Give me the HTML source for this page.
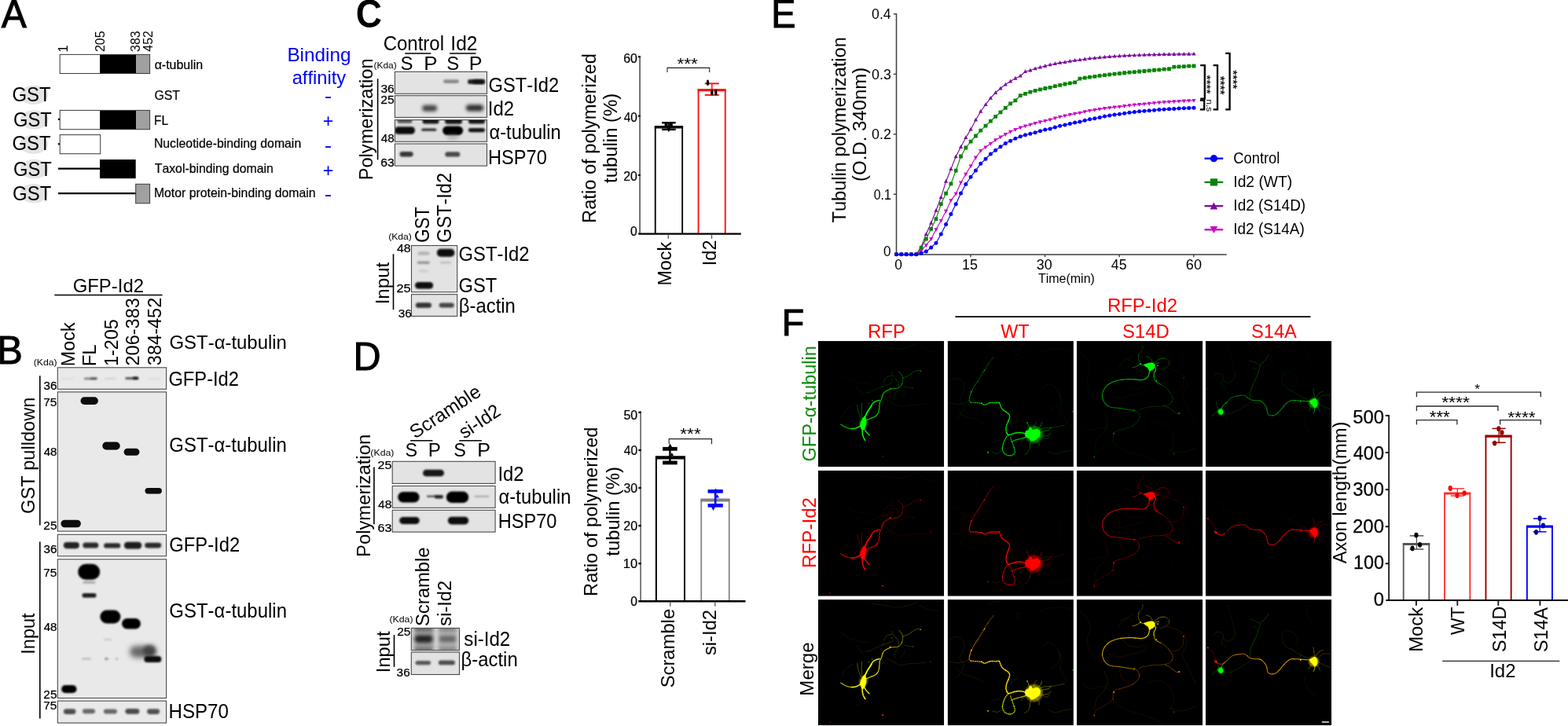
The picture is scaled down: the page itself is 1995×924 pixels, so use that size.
<!DOCTYPE html>
<html lang="en"><head><meta charset="utf-8"><title>Figure</title>
<style>
html,body{margin:0;padding:0;background:#fff}
body{width:1995px;height:924px;overflow:hidden}
svg{display:block}
text{font-family:"Liberation Sans",Arial,Helvetica,sans-serif;font-kerning:none;white-space:pre}
</style></head><body>
<svg width="1995" height="924" viewBox="0 0 1995 924">
<defs>
<filter id="b0" x="-30%" y="-100%" width="160%" height="300%"><feGaussianBlur stdDeviation="0.55"/></filter>
<filter id="b1" x="-30%" y="-100%" width="160%" height="300%"><feGaussianBlur stdDeviation="0.8"/></filter>
<filter id="b2" x="-30%" y="-100%" width="160%" height="300%"><feGaussianBlur stdDeviation="1.3"/></filter>
<filter id="b3" x="-40%" y="-100%" width="180%" height="300%"><feGaussianBlur stdDeviation="2"/></filter>
<filter id="b4" x="-50%" y="-100%" width="200%" height="300%"><feGaussianBlur stdDeviation="3.5"/></filter>
<filter id="g1" x="-5%" y="-5%" width="110%" height="110%"><feGaussianBlur stdDeviation="0.55"/></filter>
<filter id="g2" x="-5%" y="-5%" width="110%" height="110%"><feGaussianBlur stdDeviation="1.2"/></filter>
</defs>
<g id="panelA">
<text transform="translate(1.81,34.5) scale(0.9706,1)" font-size="49.56" stroke="#000" stroke-width="1" stroke-linejoin="miter">A</text>
<rect x="76.2" y="69.4" width="50.9" height="24.1" fill="#fff"/>
<rect x="127.1" y="69.4" width="45.9" height="24.1" fill="#000"/>
<rect x="173" y="69.4" width="17.6" height="24.1" fill="#a0a0a0"/>
<rect x="76.2" y="69.4" width="114.4" height="24.1" fill="none" stroke="#3a3a3a" stroke-width="1"/>
<text transform="translate(86,66.55) rotate(-90)" font-size="16.4">1</text>
<text transform="translate(133.1,66.11) rotate(-90) scale(0.9788,1.0000)" font-size="16.4">205</text>
<text transform="translate(178.3,65.91) rotate(-90) scale(0.9724,1.0000)" font-size="16.4">383</text>
<text transform="translate(194.4,65.66) rotate(-90) scale(0.9671,1.0000)" font-size="16.4">452</text>
<text transform="translate(196.63,87.8) scale(1.0107,1.0000)" font-size="15.8" stroke="#000" stroke-width="0.22">α-tubulin</text>
<text transform="translate(196.5,127.1) scale(1.0025,1.0000)" font-size="15.8" stroke="#000" stroke-width="0.22">GST</text>
<text transform="translate(195.93,158.5) scale(0.9809,1.0000)" font-size="15.8" stroke="#000" stroke-width="0.22">FL</text>
<text transform="translate(195.9,188.3) scale(1.0024,1.0000)" font-size="15.8" stroke="#000" stroke-width="0.22">Nucleotide-binding domain</text>
<text transform="translate(196.74,219.8) scale(1.0014,1.0000)" font-size="15.8" stroke="#000" stroke-width="0.22">Taxol-binding domain</text>
<text transform="translate(195.9,251.2) scale(1.0015,1.0000)" font-size="15.8" stroke="#000" stroke-width="0.22">Motor protein-binding domain</text>
<ellipse cx="43" cy="120.9" rx="18" ry="12.2" fill="#e4e4e4"/>
<text transform="translate(15.4,129.3) scale(0.9413,1.0000)" font-size="25.4">GST</text>
<ellipse cx="43.6" cy="152.4" rx="18" ry="12.2" fill="#e4e4e4"/>
<text transform="translate(17.01,161.2) scale(0.9354,1.0000)" font-size="25.4">GST</text>
<ellipse cx="43" cy="183.6" rx="18" ry="12.2" fill="#e4e4e4"/>
<text transform="translate(15.4,191.1) scale(0.9413,1.0000)" font-size="25.4">GST</text>
<ellipse cx="43.6" cy="215" rx="18" ry="12.2" fill="#e4e4e4"/>
<text transform="translate(17.01,223.7) scale(0.9354,1.0000)" font-size="25.4">GST</text>
<ellipse cx="43" cy="246.2" rx="18" ry="12.2" fill="#e4e4e4"/>
<text transform="translate(16.1,254.5) scale(0.9413,1.0000)" font-size="25.4">GST</text>
<line x1="73.8" y1="151.8" x2="76.5" y2="151.8" stroke="#000" stroke-width="2.2"/>
<rect x="76.2" y="140.4" width="50.9" height="24.3" fill="#fff"/>
<rect x="127.1" y="140.4" width="45.9" height="24.3" fill="#000"/>
<rect x="173" y="140.4" width="17.6" height="24.3" fill="#a0a0a0"/>
<rect x="76.2" y="140.4" width="114.4" height="24.3" fill="none" stroke="#3a3a3a" stroke-width="1"/>
<line x1="73.8" y1="183.3" x2="76.5" y2="183.3" stroke="#000" stroke-width="2.2"/>
<rect x="76.2" y="171.6" width="51.5" height="24.1" fill="#fff"/>
<rect x="76.2" y="171.6" width="51.5" height="24.1" fill="none" stroke="#3a3a3a" stroke-width="1"/>
<line x1="74" y1="214.7" x2="127.5" y2="214.7" stroke="#000" stroke-width="2.3"/>
<rect x="127" y="203" width="45.7" height="24.1" fill="#000"/>
<line x1="74" y1="246.1" x2="173" y2="246.1" stroke="#000" stroke-width="2.3"/>
<rect x="172.7" y="234.3" width="17.9" height="24.5" fill="#a0a0a0"/>
<rect x="172.7" y="234.3" width="17.9" height="24.5" fill="none" stroke="#3a3a3a" stroke-width="1"/>
<text transform="translate(365.41,78.3)" font-size="24.3" fill="#0000f5">Binding</text>
<text transform="translate(371.7,106.5) scale(0.9732,1.0000)" font-size="24.3" fill="#0000f5">affinity</text>
<text transform="translate(412.84,129.51) scale(1.1621,1.0000)" font-size="24.32" fill="#0000f5">-</text>
<text transform="translate(410.86,161.93) scale(1.0070,1.0000)" font-size="23.1" fill="#0000f5">+</text>
<text transform="translate(412.84,192.51) scale(1.1621,1.0000)" font-size="24.32" fill="#0000f5">-</text>
<text transform="translate(410.86,225.37) scale(0.9895,1.0000)" font-size="23.5" fill="#0000f5">+</text>
<text transform="translate(412.84,254.71) scale(1.1621,1.0000)" font-size="24.32" fill="#0000f5">-</text>
</g>
<g id="panelB">
<text transform="translate(-3.71,462.9) scale(0.9885,1)" font-size="49.42" stroke="#000" stroke-width="1" stroke-linejoin="miter">B</text>
<text transform="translate(92.7,371.6) scale(0.9754,1.0000)" font-size="24.5">GFP-Id2</text>
<line x1="69.3" y1="375.6" x2="206.6" y2="375.6" stroke="#000" stroke-width="1.5"/>
<text transform="translate(94.8,466.22) rotate(-90) scale(0.9626,1.0000)" font-size="24.3">Mock</text>
<text transform="translate(121.5,466.27) rotate(-90) scale(0.9860,1.0000)" font-size="24.3">FL</text>
<text transform="translate(149.7,466.09) rotate(-90) scale(0.9649,1.0000)" font-size="24.3">1-205</text>
<text transform="translate(176.8,465.48) rotate(-90) scale(0.9691,1.0000)" font-size="24.3">206-383</text>
<text transform="translate(204.9,465.2) rotate(-90) scale(0.9709,1.0000)" font-size="24.3">384-452</text>
<text transform="translate(42.64,465.07) scale(1.0770,0.9039)" font-size="11.4">(Kda)</text>
<text transform="translate(215.5,444.3) scale(0.9806,1.0000)" font-size="24.4">GST-α-tubulin</text>
<clipPath id="c1"><rect x="73.3" y="467.8" width="138.3" height="27.5"/></clipPath>
<rect x="73.3" y="467.8" width="138.3" height="27.5" fill="#e9e9e9"/>
<g clip-path="url(#c1)">
<rect x="77.5" y="480.9" width="17" height="2" rx="1" ry="1" fill="#777" opacity="0.1" filter="url(#b1)"/>
<rect x="133" y="480.9" width="15" height="2" rx="1" ry="1" fill="#777" opacity="0.2" filter="url(#b1)"/>
<rect x="188" y="480.9" width="16" height="2" rx="1" ry="1" fill="#777" opacity="0.12" filter="url(#b1)"/>
<rect x="106.9" y="480.6" width="17" height="2.6" rx="1.3" ry="1.3" fill="#333" opacity="0.55" filter="url(#b1)"/>
<rect x="115" y="480.4" width="8" height="2.6" rx="1.3" ry="1.3" fill="#222" opacity="0.5" filter="url(#b1)"/>
<rect x="159.3" y="480.1" width="17" height="3" rx="1.5" ry="1.5" fill="#222" opacity="0.7" filter="url(#b1)"/>
<rect x="169" y="479.5" width="7" height="3.4" rx="1.7" ry="1.7" fill="#111" opacity="0.8" filter="url(#b1)"/>
</g>
<rect x="73.3" y="467.8" width="138.3" height="27.5" fill="none" stroke="#4a4a4a" stroke-width="1.1"/>
<clipPath id="c2"><rect x="73.3" y="498.9" width="138.3" height="177.2"/></clipPath>
<rect x="73.3" y="498.9" width="138.3" height="177.2" fill="#e9e9e9"/>
<g clip-path="url(#c2)">
<rect x="102.5" y="505.2" width="22.4" height="9.8" rx="4.9" ry="4.9" fill="#0b0b0b" filter="url(#b0)"/>
<rect x="130.3" y="562.6" width="22.4" height="9.8" rx="4.9" ry="4.9" fill="#0b0b0b" filter="url(#b0)"/>
<rect x="157.6" y="570.7" width="19.8" height="9" rx="4.5" ry="4.5" fill="#0b0b0b" filter="url(#b0)"/>
<rect x="184.5" y="621.1" width="21.4" height="7.4" rx="3.7" ry="3.7" fill="#0b0b0b" filter="url(#b0)"/>
<rect x="77.5" y="661.7" width="25.4" height="9.6" rx="4.8" ry="4.8" fill="#0b0b0b" filter="url(#b0)"/>
</g>
<rect x="73.3" y="498.9" width="138.3" height="177.2" fill="none" stroke="#4a4a4a" stroke-width="1.1"/>
<clipPath id="c3"><rect x="73.3" y="680.3" width="138.3" height="27.5"/></clipPath>
<rect x="73.3" y="680.3" width="138.3" height="27.5" fill="#e9e9e9"/>
<g clip-path="url(#c3)">
<rect x="80.9" y="690" width="20" height="8.2" rx="4.1" ry="4.1" fill="#222" filter="url(#b2)"/>
<rect x="105.3" y="690.6" width="20" height="7" rx="3.5" ry="3.5" fill="#2c2c2c" filter="url(#b2)"/>
<rect x="132.2" y="691.2" width="21" height="6.4" rx="3.2" ry="3.2" fill="#2c2c2c" filter="url(#b2)"/>
<rect x="157.85" y="689.8" width="22.5" height="8.6" rx="4.3" ry="4.3" fill="#1c1c1c" filter="url(#b2)"/>
<rect x="184.2" y="690.8" width="21" height="6.6" rx="3.3" ry="3.3" fill="#2a2a2a" filter="url(#b2)"/>
</g>
<rect x="73.3" y="680.3" width="138.3" height="27.5" fill="none" stroke="#4a4a4a" stroke-width="1.1"/>
<clipPath id="c4"><rect x="73.3" y="711.8" width="138.3" height="176.7"/></clipPath>
<rect x="73.3" y="711.8" width="138.3" height="176.7" fill="#e9e9e9"/>
<g clip-path="url(#c4)">
<rect x="165" y="822" width="34" height="15" rx="7.5" ry="7.5" fill="#3a3a3a" opacity="0.75" filter="url(#b4)"/>
<rect x="182" y="821" width="16" height="14" rx="7" ry="7" fill="#333" opacity="0.7" filter="url(#b3)"/>
<rect x="105.5" y="739.7" width="16" height="3" rx="1.5" ry="1.5" fill="#666" opacity="0.5" filter="url(#b2)"/>
<rect x="104.5" y="754.9" width="18" height="5.6" rx="2.8" ry="2.8" fill="#1a1a1a" filter="url(#b1)"/>
<rect x="99.2" y="717.8" width="28" height="20" rx="10" ry="10" fill="#050505" filter="url(#b1)"/>
<rect x="127.4" y="776.5" width="26" height="17" rx="8.5" ry="8.5" fill="#050505" filter="url(#b1)"/>
<rect x="155" y="787" width="24" height="13.6" rx="6.8" ry="6.8" fill="#050505" filter="url(#b1)"/>
<rect x="183.4" y="834.9" width="22" height="8" rx="4" ry="4" fill="#0a0a0a" filter="url(#b1)"/>
<rect x="78.05" y="871.9" width="19.5" height="10.2" rx="5.1" ry="5.1" fill="#050505" filter="url(#b1)"/>
<rect x="104" y="837.25" width="12" height="2.5" rx="1.25" ry="1.25" fill="#888" opacity="0.45" filter="url(#b2)"/>
<rect x="133" y="837" width="5" height="3" rx="1.5" ry="1.5" fill="#666" opacity="0.6" filter="url(#b2)"/>
<rect x="146.5" y="837.55" width="4" height="2.5" rx="1.25" ry="1.25" fill="#888" opacity="0.5" filter="url(#b2)"/>
<rect x="132" y="812.75" width="10" height="2.5" rx="1.25" ry="1.25" fill="#aaa" opacity="0.5" filter="url(#b2)"/>
</g>
<rect x="73.3" y="711.8" width="138.3" height="176.7" fill="none" stroke="#4a4a4a" stroke-width="1.1"/>
<clipPath id="c5"><rect x="73.3" y="892.1" width="138.3" height="28"/></clipPath>
<rect x="73.3" y="892.1" width="138.3" height="28" fill="#e9e9e9"/>
<g clip-path="url(#c5)">
<rect x="80.95" y="902.2" width="15.5" height="6.8" rx="3.4" ry="3.4" fill="#3c3c3c" opacity="0.9" filter="url(#b2)"/>
<rect x="105" y="902.2" width="16" height="6" rx="3" ry="3" fill="#4a4a4a" opacity="0.8" filter="url(#b2)"/>
<rect x="131.9" y="902.4" width="17" height="6" rx="3" ry="3" fill="#4a4a4a" opacity="0.8" filter="url(#b2)"/>
<rect x="159.4" y="901.9" width="18" height="6.8" rx="3.4" ry="3.4" fill="#3a3a3a" opacity="0.9" filter="url(#b2)"/>
<rect x="187.1" y="902.3" width="16" height="6.6" rx="3.3" ry="3.3" fill="#404040" opacity="0.9" filter="url(#b2)"/>
</g>
<rect x="73.3" y="892.1" width="138.3" height="28" fill="none" stroke="#4a4a4a" stroke-width="1.1"/>
<text transform="translate(55.52,495.8) scale(1.0025,1.0000)" font-size="15.2" stroke="#000" stroke-width="0.25">36</text>
<text transform="translate(55.31,516.5) scale(1.0136,1.0000)" font-size="15.2" stroke="#000" stroke-width="0.25">75</text>
<text transform="translate(55.76,580.4) scale(0.9876,1.0000)" font-size="15.2" stroke="#000" stroke-width="0.25">48</text>
<text transform="translate(55.33,674) scale(1.0126,1.0000)" font-size="15.2" stroke="#000" stroke-width="0.25">25</text>
<text transform="translate(55.52,704.4) scale(1.0025,1.0000)" font-size="15.2" stroke="#000" stroke-width="0.25">36</text>
<text transform="translate(55.31,734.1) scale(1.0136,1.0000)" font-size="15.2" stroke="#000" stroke-width="0.25">75</text>
<text transform="translate(55.76,802.6) scale(0.9876,1.0000)" font-size="15.2" stroke="#000" stroke-width="0.25">48</text>
<text transform="translate(55.33,889) scale(1.0126,1.0000)" font-size="15.2" stroke="#000" stroke-width="0.25">25</text>
<text transform="translate(55.31,903.1) scale(1.0136,1.0000)" font-size="15.2" stroke="#000" stroke-width="0.25">75</text>
<line x1="50.8" y1="478.3" x2="50.8" y2="668.5" stroke="#000" stroke-width="1.6"/>
<line x1="50.8" y1="689.6" x2="50.8" y2="914.4" stroke="#000" stroke-width="1.6"/>
<text transform="translate(44.4,653.89) rotate(-90)" font-size="23.6">GST pulldown</text>
<text transform="translate(44.4,832.67) rotate(-90) scale(0.9972,1.0000)" font-size="23.6">Input</text>
<text transform="translate(214.41,490.7) scale(0.9483,1.0000)" font-size="25">GFP-Id2</text>
<text transform="translate(215.3,574.6) scale(0.9577,1.0000)" font-size="25">GST-α-tubulin</text>
<text transform="translate(215.3,702.3) scale(0.9515,1.0000)" font-size="25">GFP-Id2</text>
<text transform="translate(215.29,785.8) scale(0.9590,1.0000)" font-size="25">GST-α-tubulin</text>
<text transform="translate(214.52,914.3) scale(0.9648,1.0000)" font-size="25">HSP70</text>
</g>
<g id="panelC">
<text transform="translate(452.81,34.62) scale(0.9340,1.0000)" font-size="49.29" font-weight="bold">C</text>
<text transform="translate(487.68,63.9) scale(0.9594,1.0000)" font-size="25">Control</text>
<text transform="translate(573.34,63.9) scale(0.9811,1.0000)" font-size="25">Id2</text>
<line x1="515.2" y1="68" x2="548.3" y2="68" stroke="#000" stroke-width="1.5"/>
<line x1="572.1" y1="68" x2="605.5" y2="68" stroke="#000" stroke-width="1.5"/>
<text transform="translate(509.61,88.6) scale(0.9745,1.0000)" font-size="24.6">S</text>
<text transform="translate(539.17,88.6) scale(1.0540,1.0000)" font-size="24.6">P</text>
<text transform="translate(568.31,88.6) scale(0.9745,1.0000)" font-size="24.6">S</text>
<text transform="translate(596.83,88.6) scale(1.0235,1.0000)" font-size="24.6">P</text>
<text transform="translate(475.46,87.29) scale(1.0654,0.9967)" font-size="11.2">(Kda)</text>
<clipPath id="c6"><rect x="502.4" y="91.3" width="117.1" height="28"/></clipPath>
<rect x="502.4" y="91.3" width="117.1" height="28" fill="#e3e3e3"/>
<g clip-path="url(#c6)">
<rect x="564" y="101.3" width="20" height="4.6" rx="2.3" ry="2.3" fill="#555" opacity="0.62" filter="url(#b2)"/>
<rect x="595" y="100.9" width="22" height="6.2" rx="3.1" ry="3.1" fill="#161616" opacity="0.95" filter="url(#b2)"/>
<rect x="601.5" y="101.3" width="15" height="5.6" rx="2.8" ry="2.8" fill="#0c0c0c" opacity="0.7" filter="url(#b1)"/>
</g>
<rect x="502.4" y="91.3" width="117.1" height="28" fill="none" stroke="#4a4a4a" stroke-width="1.1"/>
<clipPath id="c7"><rect x="502.4" y="121.7" width="117.1" height="27.7"/></clipPath>
<rect x="502.4" y="121.7" width="117.1" height="27.7" fill="#e3e3e3"/>
<g clip-path="url(#c7)">
<rect x="537.1" y="133.8" width="19" height="8" rx="4" ry="4" fill="#3a3a3a" opacity="0.95" filter="url(#b3)"/>
<rect x="592.75" y="133.2" width="22.5" height="8.4" rx="4.2" ry="4.2" fill="#2e2e2e" filter="url(#b3)"/>
</g>
<rect x="502.4" y="121.7" width="117.1" height="27.7" fill="none" stroke="#4a4a4a" stroke-width="1.1"/>
<clipPath id="c8"><rect x="502.4" y="152.6" width="117.1" height="27.7"/></clipPath>
<rect x="502.4" y="152.6" width="117.1" height="27.7" fill="#dedede"/>
<g clip-path="url(#c8)">
<rect x="505.5" y="151.25" width="19" height="5.5" rx="2.75" ry="2.75" fill="#333" opacity="0.8" filter="url(#b2)"/>
<rect x="537.5" y="151.1" width="21" height="6.4" rx="3.2" ry="3.2" fill="#141414" filter="url(#b2)"/>
<rect x="566" y="150.8" width="22" height="7" rx="3.5" ry="3.5" fill="#141414" filter="url(#b2)"/>
<rect x="596" y="151.1" width="21" height="6.4" rx="3.2" ry="3.2" fill="#141414" filter="url(#b2)"/>
<rect x="502" y="161.2" width="26" height="9.6" rx="4.8" ry="4.8" fill="#0a0a0a" filter="url(#b2)"/>
<rect x="536.3" y="163.6" width="19" height="3.2" rx="1.6" ry="1.6" fill="#1c1c1c" opacity="0.9" filter="url(#b1)"/>
<rect x="563.1" y="160.5" width="26" height="11.4" rx="5.7" ry="5.7" fill="#060606" filter="url(#b2)"/>
<rect x="595.9" y="162.9" width="21" height="5.4" rx="2.7" ry="2.7" fill="#151515" filter="url(#b2)"/>
<rect x="569" y="170" width="14" height="8" rx="4" ry="4" fill="#777" opacity="0.35" filter="url(#b3)"/>
</g>
<rect x="502.4" y="152.6" width="117.1" height="27.7" fill="none" stroke="#4a4a4a" stroke-width="1.1"/>
<clipPath id="c9"><rect x="502.4" y="183" width="117.1" height="28.1"/></clipPath>
<rect x="502.4" y="183" width="117.1" height="28.1" fill="#e3e3e3"/>
<g clip-path="url(#c9)">
<rect x="508.6" y="193" width="17" height="6.6" rx="3.3" ry="3.3" fill="#2e2e2e" opacity="0.95" filter="url(#b2)"/>
<rect x="566.3" y="193.3" width="19" height="6.2" rx="3.1" ry="3.1" fill="#383838" opacity="0.9" filter="url(#b2)"/>
</g>
<rect x="502.4" y="183" width="117.1" height="28.1" fill="none" stroke="#4a4a4a" stroke-width="1.1"/>
<text transform="translate(484.41,118.4) scale(1.0019,1.0000)" font-size="15.5" stroke="#000" stroke-width="0.25">36</text>
<text transform="translate(484.21,131.9) scale(1.0120,1.0000)" font-size="15.5" stroke="#000" stroke-width="0.25">25</text>
<text transform="translate(484.65,180.7) scale(0.9870,1.0000)" font-size="15.5" stroke="#000" stroke-width="0.25">48</text>
<text transform="translate(484.2,211.9) scale(1.0144,1.0000)" font-size="15.5" stroke="#000" stroke-width="0.25">63</text>
<line x1="480.6" y1="100.2" x2="480.6" y2="203.3" stroke="#000" stroke-width="1.6"/>
<text transform="translate(473.9,229.24) rotate(-90) scale(0.9833,1.0000)" font-size="24">Polymerization</text>
<text transform="translate(621.61,116.6) scale(0.9483,1.0000)" font-size="25">GST-Id2</text>
<text transform="translate(620.79,146.9) scale(0.9587,1.0000)" font-size="25">Id2</text>
<text transform="translate(622.51,177) scale(0.9470,1.0000)" font-size="25">α-tubulin</text>
<text transform="translate(621.06,208.5) scale(0.9451,1.0000)" font-size="25">HSP70</text>
<text transform="translate(546,308.82) rotate(-90) scale(0.8898,1.0000)" font-size="25">GST</text>
<text transform="translate(573.8,308.88) rotate(-90) scale(0.9407,1.0000)" font-size="25">GST-Id2</text>
<text transform="translate(494.14,304.7) scale(1.0510,0.9161)" font-size="11.6">(Kda)</text>
<text transform="translate(505.04,320.9) scale(1.0240,1.0000)" font-size="15.5" stroke="#000" stroke-width="0.25">48</text>
<text transform="translate(504.58,372.2) scale(1.0499,1.0000)" font-size="15.5" stroke="#000" stroke-width="0.25">25</text>
<text transform="translate(506.82,403.6) scale(0.9894,1.0000)" font-size="15.5" stroke="#000" stroke-width="0.25">36</text>
<clipPath id="c10"><rect x="523.5" y="312.5" width="58.2" height="59.2"/></clipPath>
<rect x="523.5" y="312.5" width="58.2" height="59.2" fill="#e3e3e3"/>
<g clip-path="url(#c10)">
<rect x="531.4" y="320.15" width="15" height="4.5" rx="2.25" ry="2.25" fill="#888" opacity="0.5" filter="url(#b2)"/>
<rect x="530.9" y="332.4" width="16" height="3.6" rx="1.8" ry="1.8" fill="#666" opacity="0.6" filter="url(#b2)"/>
<rect x="560" y="332.7" width="14" height="3" rx="1.5" ry="1.5" fill="#999" opacity="0.45" filter="url(#b2)"/>
<rect x="532.9" y="343.5" width="12" height="3" rx="1.5" ry="1.5" fill="#aaa" opacity="0.4" filter="url(#b2)"/>
<rect x="555.85" y="316.8" width="22.5" height="10" rx="5" ry="5" fill="#080808" filter="url(#b1)"/>
<rect x="528.1" y="359.1" width="23" height="8.4" rx="4.2" ry="4.2" fill="#080808" filter="url(#b1)"/>
</g>
<rect x="523.5" y="312.5" width="58.2" height="59.2" fill="none" stroke="#4a4a4a" stroke-width="1.1"/>
<clipPath id="c11"><rect x="523.5" y="374.7" width="58.2" height="27.7"/></clipPath>
<rect x="523.5" y="374.7" width="58.2" height="27.7" fill="#e3e3e3"/>
<g clip-path="url(#c11)">
<rect x="528.9" y="385.2" width="20" height="6.6" rx="3.3" ry="3.3" fill="#2a2a2a" opacity="0.95" filter="url(#b2)"/>
<rect x="558.7" y="385.5" width="19" height="6" rx="3" ry="3" fill="#343434" opacity="0.9" filter="url(#b2)"/>
</g>
<rect x="523.5" y="374.7" width="58.2" height="27.7" fill="none" stroke="#4a4a4a" stroke-width="1.1"/>
<line x1="500.5" y1="323.3" x2="500.5" y2="394.1" stroke="#000" stroke-width="1.6"/>
<text transform="translate(494.8,387.32) rotate(-90) scale(1.0042,1.0000)" font-size="24">Input</text>
<text transform="translate(583.5,331.6) scale(0.9537,1.0000)" font-size="25">GST-Id2</text>
<text transform="translate(583.51,372) scale(0.9504,1.0000)" font-size="25">GST</text>
<text transform="translate(583.74,397.6) scale(0.9563,1.0000)" font-size="25">β-actin</text>
<line x1="814.1" y1="71.2" x2="814.1" y2="298" stroke="#5a5a5a" stroke-width="1.7"/>
<line x1="811.8" y1="72.2" x2="814.9" y2="72.2" stroke="#111" stroke-width="2.2"/>
<line x1="811.8" y1="147.6" x2="814.9" y2="147.6" stroke="#111" stroke-width="2.2"/>
<line x1="811.8" y1="222.9" x2="814.9" y2="222.9" stroke="#111" stroke-width="2.2"/>
<text transform="translate(793.19,79.6) scale(0.9841,1.0000)" font-size="16.2" stroke="#000" stroke-width="0.2">60</text>
<text transform="translate(793.64,155) scale(0.9580,1.0000)" font-size="16.2" stroke="#000" stroke-width="0.2">40</text>
<text transform="translate(793.2,229.6) scale(0.9836,1.0000)" font-size="16.2" stroke="#000" stroke-width="0.2">20</text>
<text transform="translate(801.99,300.4) scale(0.9685,1.0000)" font-size="16.2" stroke="#000" stroke-width="0.2">0</text>
<path d="M833.75 297.7 V161.8 H868.15 V297.7" fill="none" stroke="#0a0a0a" stroke-width="1.9"/>
<line x1="832.8" y1="161.8" x2="869.1" y2="161.8" stroke="#0a0a0a" stroke-width="3.4"/>
<path d="M888.55 297.7 V114.6 H922.75 V297.7" fill="none" stroke="#ff1414" stroke-width="1.9"/>
<line x1="887.6" y1="114.6" x2="923.7" y2="114.6" stroke="#ff1414" stroke-width="3.2"/>
<line x1="812.2" y1="297.7" x2="942.8" y2="297.7" stroke="#000" stroke-width="2.3"/>
<line x1="850.3" y1="298" x2="850.3" y2="303.8" stroke="#555" stroke-width="1.3"/>
<line x1="905.5" y1="298" x2="905.5" y2="303.8" stroke="#555" stroke-width="1.3"/>
<line x1="850.9" y1="156.2" x2="850.9" y2="164.8" stroke="#000" stroke-width="1.8"/>
<line x1="842.1" y1="156.2" x2="859.7" y2="156.2" stroke="#000" stroke-width="2.4"/>
<line x1="842.1" y1="164.8" x2="859.7" y2="164.8" stroke="#000" stroke-width="2.4"/>
<rect x="845.6" y="155.2" width="4" height="5.8" fill="#000"/>
<rect x="851.8" y="155.2" width="4" height="5.8" fill="#000"/>
<path d="M848.6 163 L853.2 163 L850.9 168.6 Z" fill="#000"/>
<line x1="905.8" y1="106.3" x2="905.8" y2="120.9" stroke="#ff1414" stroke-width="1.5"/>
<line x1="896.8" y1="106.3" x2="914.8" y2="106.3" stroke="#ff1414" stroke-width="2"/>
<line x1="896.8" y1="120.9" x2="914.8" y2="120.9" stroke="#ff1414" stroke-width="2"/>
<ellipse cx="900.5" cy="105.2" rx="1.7" ry="3.7" fill="#000"/>
<ellipse cx="905.8" cy="117.8" rx="1.7" ry="3.7" fill="#000"/>
<ellipse cx="910.8" cy="117.8" rx="1.7" ry="3.7" fill="#000"/>
<path d="M849 92.1 V86.4 H902.7 V92.1" fill="none" stroke="#222" stroke-width="1.1"/>
<text transform="translate(861.43,88.02) scale(1.1558,1.0000)" font-size="19.65">***</text>
<text transform="translate(757.9,283.94) rotate(-90) scale(0.9750,1.0000)" font-size="24.3">Ratio of polymerized</text>
<text transform="translate(785.4,232.96) rotate(-90) scale(0.9836,1.0000)" font-size="24.3">tubulin (%)</text>
<text transform="translate(854.3,363.62) rotate(-90) scale(0.9746,1.0000)" font-size="24">Mock</text>
<text transform="translate(911.4,338.17) rotate(-90) scale(0.9786,1.0000)" font-size="24">Id2</text>
</g>
<g id="panelD">
<text transform="translate(449.61,470.5) scale(0.9782,1)" font-size="49.71" stroke="#000" stroke-width="1" stroke-linejoin="miter">D</text>
<text transform="translate(528.9,558.5) rotate(-33.4)" x="-1.1" font-size="24.3">Scramble</text>
<text transform="translate(591.3,558.6) rotate(-33.6) scale(0.9700,1)" x="-0.68" font-size="24.3">si-Id2</text>
<line x1="522.1" y1="560.8" x2="550.4" y2="560.8" stroke="#000" stroke-width="1.5"/>
<line x1="584.2" y1="560.8" x2="612.8" y2="560.8" stroke="#000" stroke-width="1.5"/>
<text transform="translate(515.44,580.6) scale(0.9533,1.0000)" font-size="24.6">S</text>
<text transform="translate(544.81,580.6) scale(0.9853,1.0000)" font-size="24.6">P</text>
<text transform="translate(577.14,580.6) scale(0.9533,1.0000)" font-size="24.6">S</text>
<text transform="translate(607.13,580.6) scale(1.0235,1.0000)" font-size="24.6">P</text>
<text transform="translate(471.34,580.28) scale(1.0621,0.9253)" font-size="11.6">(Kda)</text>
<text transform="translate(480.6,597.1) scale(1.0310,1.0000)" font-size="15.5" stroke="#000" stroke-width="0.25">25</text>
<text transform="translate(481.04,646.8) scale(1.0055,1.0000)" font-size="15.5" stroke="#000" stroke-width="0.25">48</text>
<text transform="translate(480.59,676.5) scale(1.0334,1.0000)" font-size="15.5" stroke="#000" stroke-width="0.25">63</text>
<clipPath id="c12"><rect x="499.2" y="587.3" width="130.9" height="28.1"/></clipPath>
<rect x="499.2" y="587.3" width="130.9" height="28.1" fill="#e3e3e3"/>
<g clip-path="url(#c12)">
<rect x="538" y="597.7" width="27" height="8.6" rx="4.3" ry="4.3" fill="#161616" filter="url(#b2)"/>
</g>
<rect x="499.2" y="587.3" width="130.9" height="28.1" fill="none" stroke="#4a4a4a" stroke-width="1.1"/>
<clipPath id="c13"><rect x="499.2" y="618.5" width="130.9" height="27.8"/></clipPath>
<rect x="499.2" y="618.5" width="130.9" height="27.8" fill="#e3e3e3"/>
<g clip-path="url(#c13)">
<rect x="506.15" y="626.1" width="27.5" height="13.4" rx="6.7" ry="6.7" fill="#060606" filter="url(#b2)"/>
<rect x="567.75" y="625.6" width="28.5" height="14.4" rx="7.2" ry="7.2" fill="#060606" filter="url(#b2)"/>
<rect x="543" y="630.6" width="12" height="2.4" rx="1.2" ry="1.2" fill="#333" opacity="0.8" filter="url(#b1)"/>
<rect x="553" y="630" width="11" height="4.4" rx="2.2" ry="2.2" fill="#1a1a1a" opacity="0.95" filter="url(#b2)"/>
<rect x="603.5" y="630.7" width="19" height="2.2" rx="1.1" ry="1.1" fill="#888" opacity="0.6" filter="url(#b2)"/>
</g>
<rect x="499.2" y="618.5" width="130.9" height="27.8" fill="none" stroke="#4a4a4a" stroke-width="1.1"/>
<clipPath id="c14"><rect x="499.2" y="649.3" width="130.9" height="27.8"/></clipPath>
<rect x="499.2" y="649.3" width="130.9" height="27.8" fill="#e3e3e3"/>
<g clip-path="url(#c14)">
<rect x="508.25" y="657.9" width="25.5" height="9.2" rx="4.6" ry="4.6" fill="#101010" filter="url(#b2)"/>
<rect x="569.75" y="657.8" width="26.5" height="9.6" rx="4.8" ry="4.8" fill="#101010" filter="url(#b2)"/>
</g>
<rect x="499.2" y="649.3" width="130.9" height="27.8" fill="none" stroke="#4a4a4a" stroke-width="1.1"/>
<line x1="475.9" y1="594.4" x2="475.9" y2="667.3" stroke="#000" stroke-width="1.6"/>
<text transform="translate(470.6,708.95) rotate(-90) scale(0.9924,1.0000)" font-size="24">Polymerization</text>
<text transform="translate(633.4,611.7) scale(0.9555,1.0000)" font-size="25">Id2</text>
<text transform="translate(634.6,641) scale(0.9523,1.0000)" font-size="25">α-tubulin</text>
<text transform="translate(633.66,671.6) scale(0.9451,1.0000)" font-size="25">HSP70</text>
<text transform="translate(545.8,797.08) rotate(-90) scale(0.9696,1.0000)" font-size="24.6">Scramble</text>
<text transform="translate(574.1,796.66) rotate(-90) scale(0.9599,1.0000)" font-size="24.6">si-Id2</text>
<text transform="translate(495.44,792.2) scale(1.0621,0.9161)" font-size="11.6">(Kda)</text>
<text transform="translate(505.22,809.1)" font-size="15.5" stroke="#000" stroke-width="0.25">25</text>
<text transform="translate(504.62,861) scale(0.9894,1.0000)" font-size="15.5" stroke="#000" stroke-width="0.25">36</text>
<clipPath id="c15"><rect x="523.3" y="799.4" width="61.2" height="28.3"/></clipPath>
<rect x="523.3" y="799.4" width="61.2" height="28.3" fill="#d6d6d6"/>
<g clip-path="url(#c15)">
<rect x="527" y="796.5" width="25" height="34" rx="4" ry="4" fill="#777" opacity="0.55" filter="url(#b3)"/>
<rect x="557.5" y="796.5" width="24" height="34" rx="4" ry="4" fill="#8a8a8a" opacity="0.5" filter="url(#b3)"/>
<rect x="527.5" y="798" width="23" height="5" rx="2.5" ry="2.5" fill="#333" opacity="0.6" filter="url(#b3)"/>
<rect x="558.5" y="798.25" width="22" height="4.5" rx="2.25" ry="2.25" fill="#444" opacity="0.5" filter="url(#b3)"/>
<rect x="527.5" y="824" width="23" height="5" rx="2.5" ry="2.5" fill="#444" opacity="0.6" filter="url(#b3)"/>
<rect x="558.5" y="824" width="22" height="5" rx="2.5" ry="2.5" fill="#555" opacity="0.5" filter="url(#b3)"/>
<rect x="527.5" y="808.45" width="23" height="9.5" rx="4.75" ry="4.75" fill="#1e1e1e" opacity="0.95" filter="url(#b3)"/>
<rect x="559" y="809.2" width="21" height="8" rx="4" ry="4" fill="#555" opacity="0.8" filter="url(#b3)"/>
</g>
<rect x="523.3" y="799.4" width="61.2" height="28.3" fill="none" stroke="#4a4a4a" stroke-width="1.1"/>
<clipPath id="c16"><rect x="523.3" y="830" width="61.2" height="28.5"/></clipPath>
<rect x="523.3" y="830" width="61.2" height="28.5" fill="#e2e2e2"/>
<g clip-path="url(#c16)">
<rect x="528.55" y="841" width="19.5" height="5.2" rx="2.6" ry="2.6" fill="#4a4a4a" opacity="0.9" filter="url(#b2)"/>
<rect x="557.9" y="840.6" width="21" height="5.6" rx="2.8" ry="2.8" fill="#3c3c3c" opacity="0.9" filter="url(#b2)"/>
</g>
<rect x="523.3" y="830" width="61.2" height="28.5" fill="none" stroke="#4a4a4a" stroke-width="1.1"/>
<line x1="501.5" y1="808.1" x2="501.5" y2="848.8" stroke="#000" stroke-width="1.6"/>
<text transform="translate(496,856.19) rotate(-90) scale(0.9885,1.0000)" font-size="24">Input</text>
<text transform="translate(590.33,821.7) scale(0.9649,1.0000)" font-size="25">si-Id2</text>
<text transform="translate(586.54,848) scale(0.9563,1.0000)" font-size="25">β-actin</text>
<line x1="815.1" y1="523.6" x2="815.1" y2="765.5" stroke="#6a6a6a" stroke-width="1.7"/>
<line x1="812.3" y1="524.8" x2="815.8" y2="524.8" stroke="#111" stroke-width="2.4"/>
<line x1="812.3" y1="572.9" x2="815.8" y2="572.9" stroke="#111" stroke-width="2.4"/>
<line x1="812.3" y1="621" x2="815.8" y2="621" stroke="#111" stroke-width="2.4"/>
<line x1="812.3" y1="669.1" x2="815.8" y2="669.1" stroke="#111" stroke-width="2.4"/>
<line x1="812.3" y1="717.2" x2="815.8" y2="717.2" stroke="#111" stroke-width="2.4"/>
<text transform="translate(793.46,533.6) scale(1.0107,1.0000)" font-size="15.8" stroke="#000" stroke-width="0.2">50</text>
<text transform="translate(793.74,578.7) scale(0.9943,1.0000)" font-size="15.8" stroke="#000" stroke-width="0.2">40</text>
<text transform="translate(793.49,626.8) scale(1.0088,1.0000)" font-size="15.8" stroke="#000" stroke-width="0.2">30</text>
<text transform="translate(793.29,674.9) scale(1.0209,1.0000)" font-size="15.8" stroke="#000" stroke-width="0.2">20</text>
<text transform="translate(792.84,723) scale(1.0474,1.0000)" font-size="15.8" stroke="#000" stroke-width="0.2">10</text>
<text transform="translate(802.19,771) scale(0.9930,1.0000)" font-size="15.8" stroke="#000" stroke-width="0.2">0</text>
<path d="M834.9 765.2 V582.4 H871 V765.2" fill="none" stroke="#000" stroke-width="2"/>
<line x1="833.9" y1="582.4" x2="872" y2="582.4" stroke="#000" stroke-width="4.4"/>
<path d="M892.25 765.2 V636.5 H927.75 V765.2" fill="none" stroke="#808080" stroke-width="1.7"/>
<line x1="891.4" y1="636.5" x2="928.6" y2="636.5" stroke="#808080" stroke-width="4"/>
<line x1="812.2" y1="765.3" x2="948.5" y2="765.3" stroke="#000" stroke-width="2.6"/>
<line x1="852.8" y1="765.5" x2="852.8" y2="771.8" stroke="#555" stroke-width="1.3"/>
<line x1="909.8" y1="765.5" x2="909.8" y2="771.8" stroke="#555" stroke-width="1.3"/>
<line x1="852.4" y1="571.3" x2="852.4" y2="588.9" stroke="#000" stroke-width="2.4"/>
<line x1="843.1" y1="571.3" x2="861.7" y2="571.3" stroke="#000" stroke-width="4.8"/>
<line x1="843.1" y1="588.9" x2="861.7" y2="588.9" stroke="#000" stroke-width="4.8"/>
<path d="M850.2 569 L855 569 L852.6 564.6 Z" fill="#000"/>
<path d="M852.6 580 L857 580 L854.8 576 Z" fill="#000"/>
<line x1="910.2" y1="625.3" x2="910.2" y2="643.3" stroke="#0000ff" stroke-width="2.6"/>
<line x1="900.6" y1="625.3" x2="919.8" y2="625.3" stroke="#0000ff" stroke-width="4.6"/>
<line x1="900.6" y1="643.3" x2="919.8" y2="643.3" stroke="#0000ff" stroke-width="4.6"/>
<path d="M908 626 L913.4 626 L910.7 621.4 Z" fill="#0000ff"/>
<path d="M910 633.5 L915 633.5 L912.5 629 Z" fill="#0000ff"/>
<path d="M905 645 L910 645 L907.5 650 Z" fill="#0000ff"/>
<path d="M851.2 565.3 V558.6 H905.5 V565.3" fill="none" stroke="#222" stroke-width="1.1"/>
<text transform="translate(865.23,558.72) scale(1.1558,1.0000)" font-size="19.65">***</text>
<text transform="translate(760.1,758.94) rotate(-90) scale(0.9727,1.0000)" font-size="24.3">Ratio of polymerized</text>
<text transform="translate(788.4,707.66) rotate(-90) scale(0.9792,1.0000)" font-size="24.3">tubulin (%)</text>
<text transform="translate(858.1,875.28) rotate(-90) scale(0.9786,1.0000)" font-size="24.3">Scramble</text>
<text transform="translate(911.4,834.06) rotate(-90) scale(0.9787,1.0000)" font-size="24.3">si-Id2</text>
</g>
<g id="panelE">
<text transform="translate(981.32,34.55) scale(0.9446,1)" font-size="49.42" stroke="#000" stroke-width="1.1" stroke-linejoin="miter">E</text>
<line x1="1140.5" y1="17.2" x2="1140.5" y2="324.8" stroke="#3c3c3c" stroke-width="1.5"/>
<line x1="1139.8" y1="324" x2="1560.6" y2="324" stroke="#3c3c3c" stroke-width="1.6"/>
<line x1="1136.8" y1="247.24" x2="1140.5" y2="247.24" stroke="#3c3c3c" stroke-width="1.4"/>
<line x1="1136.8" y1="170.78" x2="1140.5" y2="170.78" stroke="#3c3c3c" stroke-width="1.4"/>
<line x1="1136.8" y1="94.32" x2="1140.5" y2="94.32" stroke="#3c3c3c" stroke-width="1.4"/>
<line x1="1136.8" y1="17.86" x2="1140.5" y2="17.86" stroke="#3c3c3c" stroke-width="1.4"/>
<line x1="1234.92" y1="324" x2="1234.92" y2="327.2" stroke="#3c3c3c" stroke-width="1.4"/>
<line x1="1329.54" y1="324" x2="1329.54" y2="327.2" stroke="#3c3c3c" stroke-width="1.4"/>
<line x1="1424.16" y1="324" x2="1424.16" y2="327.2" stroke="#3c3c3c" stroke-width="1.4"/>
<line x1="1518.78" y1="324" x2="1518.78" y2="327.2" stroke="#3c3c3c" stroke-width="1.4"/>
<text transform="translate(1109.11,24.3) scale(0.9580,1.0000)" font-size="18.4">0.4</text>
<text transform="translate(1109.1,100.7) scale(0.9688,1.0000)" font-size="18.4">0.3</text>
<text transform="translate(1109.1,177.2) scale(0.9735,1.0000)" font-size="18.4">0.2</text>
<text transform="translate(1111.78,253.6) scale(0.8639,1.0000)" font-size="18.4">0.1</text>
<text transform="translate(1123.93,326) scale(0.9323,1.0000)" font-size="18.4">0</text>
<text transform="translate(1138.17,342.8) scale(0.9436,1.0000)" font-size="18.4">0</text>
<text transform="translate(1223.94,342.8) scale(0.9731,1.0000)" font-size="18.4">15</text>
<text transform="translate(1318.87,342.8) scale(0.9713,1.0000)" font-size="18.4">30</text>
<text transform="translate(1413.84,342.8) scale(0.9600,1.0000)" font-size="18.4">45</text>
<text transform="translate(1508.83,342.8) scale(0.9833,1.0000)" font-size="18.4">60</text>
<text transform="translate(1321.04,360) scale(0.9980,1.0000)" font-size="16">Time(min)</text>
<text transform="translate(1075.8,283.53) rotate(-90) scale(0.9612,1.0000)" font-size="24.6">Tubulin polymerization</text>
<text transform="translate(1102,230.89) rotate(-90) scale(0.9743,1.0000)" font-size="24.6">(O.D. 340nm)</text>
<polyline fill="none" stroke="#7a0c9e" stroke-width="1.15" points="1140.5,323.7 1146.81,323.7 1153.12,323.7 1159.42,323.7 1165.73,323.7 1172.04,314.52 1178.35,298.09 1184.66,283.79 1190.96,267.96 1197.27,251.06 1203.58,230.95 1209.89,215.13 1216.2,199.3 1222.5,186.99 1228.81,175.21 1235.12,164.66 1241.43,152.66 1247.74,141.73 1254.04,133.09 1260.35,124.83 1266.66,118.02 1272.97,112.52 1279.28,107.55 1285.58,103.5 1291.89,99.75 1298.2,96.69 1304.51,91.03 1310.82,89.5 1317.12,87.29 1323.43,85.53 1329.74,84 1336.05,82.47 1342.36,81.1 1348.66,79.9 1354.97,79.03 1361.28,77.9 1367.59,76.92 1373.9,76.2 1380.2,75.26 1386.51,74.43 1392.82,73.83 1399.13,73.2 1405.44,72.6 1411.74,72.06 1418.05,71.58 1424.36,71.23 1430.67,70.89 1436.98,70.58 1443.28,70.29 1449.59,70.04 1455.9,69.85 1462.21,69.67 1468.52,69.49 1474.82,69.33 1481.13,69.19 1487.44,69.09 1493.75,69 1500.06,68.91 1506.36,68.83 1512.67,68.76 1518.98,68.71"/>
<path d="M1137.9 325.6l2.6 -4.8l2.6 4.8ZM1144.21 325.6l2.6 -4.8l2.6 4.8ZM1150.52 325.6l2.6 -4.8l2.6 4.8ZM1156.82 325.6l2.6 -4.8l2.6 4.8ZM1163.13 325.6l2.6 -4.8l2.6 4.8ZM1169.44 316.42l2.6 -4.8l2.6 4.8ZM1175.75 299.99l2.6 -4.8l2.6 4.8ZM1182.06 285.69l2.6 -4.8l2.6 4.8ZM1188.36 269.86l2.6 -4.8l2.6 4.8ZM1194.67 252.96l2.6 -4.8l2.6 4.8ZM1200.98 232.85l2.6 -4.8l2.6 4.8ZM1207.29 217.03l2.6 -4.8l2.6 4.8ZM1213.6 201.2l2.6 -4.8l2.6 4.8ZM1219.9 188.89l2.6 -4.8l2.6 4.8ZM1226.21 177.11l2.6 -4.8l2.6 4.8ZM1232.52 166.56l2.6 -4.8l2.6 4.8ZM1238.83 154.56l2.6 -4.8l2.6 4.8ZM1245.14 143.63l2.6 -4.8l2.6 4.8ZM1251.44 134.99l2.6 -4.8l2.6 4.8ZM1257.75 126.73l2.6 -4.8l2.6 4.8ZM1264.06 119.92l2.6 -4.8l2.6 4.8ZM1270.37 114.42l2.6 -4.8l2.6 4.8ZM1276.68 109.45l2.6 -4.8l2.6 4.8ZM1282.98 105.4l2.6 -4.8l2.6 4.8ZM1289.29 101.65l2.6 -4.8l2.6 4.8ZM1295.6 98.59l2.6 -4.8l2.6 4.8ZM1301.91 92.93l2.6 -4.8l2.6 4.8ZM1308.22 91.4l2.6 -4.8l2.6 4.8ZM1314.52 89.19l2.6 -4.8l2.6 4.8ZM1320.83 87.43l2.6 -4.8l2.6 4.8ZM1327.14 85.9l2.6 -4.8l2.6 4.8ZM1333.45 84.37l2.6 -4.8l2.6 4.8ZM1339.76 83l2.6 -4.8l2.6 4.8ZM1346.06 81.8l2.6 -4.8l2.6 4.8ZM1352.37 80.93l2.6 -4.8l2.6 4.8ZM1358.68 79.8l2.6 -4.8l2.6 4.8ZM1364.99 78.82l2.6 -4.8l2.6 4.8ZM1371.3 78.1l2.6 -4.8l2.6 4.8ZM1377.6 77.16l2.6 -4.8l2.6 4.8ZM1383.91 76.33l2.6 -4.8l2.6 4.8ZM1390.22 75.73l2.6 -4.8l2.6 4.8ZM1396.53 75.1l2.6 -4.8l2.6 4.8ZM1402.84 74.5l2.6 -4.8l2.6 4.8ZM1409.14 73.96l2.6 -4.8l2.6 4.8ZM1415.45 73.48l2.6 -4.8l2.6 4.8ZM1421.76 73.13l2.6 -4.8l2.6 4.8ZM1428.07 72.79l2.6 -4.8l2.6 4.8ZM1434.38 72.48l2.6 -4.8l2.6 4.8ZM1440.68 72.19l2.6 -4.8l2.6 4.8ZM1446.99 71.94l2.6 -4.8l2.6 4.8ZM1453.3 71.75l2.6 -4.8l2.6 4.8ZM1459.61 71.57l2.6 -4.8l2.6 4.8ZM1465.92 71.39l2.6 -4.8l2.6 4.8ZM1472.22 71.23l2.6 -4.8l2.6 4.8ZM1478.53 71.09l2.6 -4.8l2.6 4.8ZM1484.84 70.99l2.6 -4.8l2.6 4.8ZM1491.15 70.9l2.6 -4.8l2.6 4.8ZM1497.46 70.81l2.6 -4.8l2.6 4.8ZM1503.76 70.73l2.6 -4.8l2.6 4.8ZM1510.07 70.66l2.6 -4.8l2.6 4.8ZM1516.38 70.61l2.6 -4.8l2.6 4.8Z" fill="#7a0c9e"/>
<polyline fill="none" stroke="#078407" stroke-width="1.15" points="1140.5,323.7 1146.81,323.7 1153.12,323.7 1159.42,323.7 1165.73,323.7 1172.04,315.44 1178.35,304.13 1184.66,291.36 1190.96,278.59 1197.27,259.7 1203.58,246.17 1209.89,233.94 1216.2,217.11 1222.5,198.99 1228.81,187.98 1235.12,180.18 1241.43,173 1247.74,166.19 1254.04,160.15 1260.35,154.19 1266.66,148.45 1272.97,142.87 1279.28,137.29 1285.58,131.86 1291.89,127.96 1298.2,121.62 1304.51,119.32 1310.82,117.03 1317.12,115.42 1323.43,113.89 1329.74,112.52 1336.05,111.37 1342.36,109.69 1348.66,108.47 1354.97,107 1361.28,105.94 1367.59,104.87 1373.9,100.05 1380.2,99.14 1386.51,98.12 1392.82,97.38 1399.13,96.4 1405.44,95.7 1411.74,94.81 1418.05,94.04 1424.36,93.48 1430.67,92.75 1436.98,92.11 1443.28,91.64 1449.59,90.98 1455.9,90.5 1462.21,89.83 1468.52,89.24 1474.82,88.81 1481.13,88.19 1487.44,87.74 1493.75,85.22 1500.06,84.82 1506.36,84.53 1512.67,84.22 1518.98,84"/>
<path d="M1138.1 321.3h4.8v4.8h-4.8ZM1144.41 321.3h4.8v4.8h-4.8ZM1150.72 321.3h4.8v4.8h-4.8ZM1157.02 321.3h4.8v4.8h-4.8ZM1163.33 321.3h4.8v4.8h-4.8ZM1169.64 313.04h4.8v4.8h-4.8ZM1175.95 301.73h4.8v4.8h-4.8ZM1182.26 288.96h4.8v4.8h-4.8ZM1188.56 276.19h4.8v4.8h-4.8ZM1194.87 257.3h4.8v4.8h-4.8ZM1201.18 243.77h4.8v4.8h-4.8ZM1207.49 231.54h4.8v4.8h-4.8ZM1213.8 214.71h4.8v4.8h-4.8ZM1220.1 196.59h4.8v4.8h-4.8ZM1226.41 185.58h4.8v4.8h-4.8ZM1232.72 177.78h4.8v4.8h-4.8ZM1239.03 170.6h4.8v4.8h-4.8ZM1245.34 163.79h4.8v4.8h-4.8ZM1251.64 157.75h4.8v4.8h-4.8ZM1257.95 151.79h4.8v4.8h-4.8ZM1264.26 146.05h4.8v4.8h-4.8ZM1270.57 140.47h4.8v4.8h-4.8ZM1276.88 134.89h4.8v4.8h-4.8ZM1283.18 129.46h4.8v4.8h-4.8ZM1289.49 125.56h4.8v4.8h-4.8ZM1295.8 119.22h4.8v4.8h-4.8ZM1302.11 116.92h4.8v4.8h-4.8ZM1308.42 114.63h4.8v4.8h-4.8ZM1314.72 113.02h4.8v4.8h-4.8ZM1321.03 111.49h4.8v4.8h-4.8ZM1327.34 110.12h4.8v4.8h-4.8ZM1333.65 108.97h4.8v4.8h-4.8ZM1339.96 107.29h4.8v4.8h-4.8ZM1346.26 106.07h4.8v4.8h-4.8ZM1352.57 104.6h4.8v4.8h-4.8ZM1358.88 103.54h4.8v4.8h-4.8ZM1365.19 102.47h4.8v4.8h-4.8ZM1371.5 97.65h4.8v4.8h-4.8ZM1377.8 96.74h4.8v4.8h-4.8ZM1384.11 95.72h4.8v4.8h-4.8ZM1390.42 94.98h4.8v4.8h-4.8ZM1396.73 94h4.8v4.8h-4.8ZM1403.04 93.3h4.8v4.8h-4.8ZM1409.34 92.41h4.8v4.8h-4.8ZM1415.65 91.64h4.8v4.8h-4.8ZM1421.96 91.08h4.8v4.8h-4.8ZM1428.27 90.35h4.8v4.8h-4.8ZM1434.58 89.71h4.8v4.8h-4.8ZM1440.88 89.24h4.8v4.8h-4.8ZM1447.19 88.58h4.8v4.8h-4.8ZM1453.5 88.1h4.8v4.8h-4.8ZM1459.81 87.43h4.8v4.8h-4.8ZM1466.12 86.84h4.8v4.8h-4.8ZM1472.42 86.41h4.8v4.8h-4.8ZM1478.73 85.79h4.8v4.8h-4.8ZM1485.04 85.34h4.8v4.8h-4.8ZM1491.35 82.82h4.8v4.8h-4.8ZM1497.66 82.42h4.8v4.8h-4.8ZM1503.96 82.13h4.8v4.8h-4.8ZM1510.27 81.82h4.8v4.8h-4.8ZM1516.58 81.6h4.8v4.8h-4.8Z" fill="#078407"/>
<polyline fill="none" stroke="#c40ac4" stroke-width="1.15" points="1140.5,323.7 1146.81,323.7 1153.12,323.7 1159.42,323.7 1165.73,323.7 1172.04,319.11 1178.35,312.08 1184.66,304.13 1190.96,292.05 1197.27,280.81 1203.58,268.73 1209.89,255.12 1216.2,246.63 1222.5,232.41 1228.81,221.63 1235.12,211.3 1241.43,200.52 1247.74,191.81 1254.04,187.3 1260.35,182.78 1266.66,178.2 1272.97,174.45 1279.28,171.01 1285.58,167.72 1291.89,164.97 1298.2,162.37 1304.51,160.46 1310.82,158.55 1317.12,156.86 1323.43,155.26 1329.74,153.81 1336.05,152.43 1342.36,150.45 1348.66,148.72 1354.97,147.46 1361.28,145.94 1367.59,144.6 1373.9,143.64 1380.2,142.12 1386.51,140.78 1392.82,139.81 1399.13,138.85 1405.44,137.94 1411.74,137.1 1418.05,136.37 1424.36,135.84 1430.67,135 1436.98,134.21 1443.28,133.49 1449.59,132.86 1455.9,132.4 1462.21,131.73 1468.52,131.1 1474.82,130.52 1481.13,130.01 1487.44,129.64 1493.75,129.24 1500.06,128.85 1506.36,128.5 1512.67,128.19 1518.98,127.96"/>
<path d="M1137.9 321.8l2.6 4.8l2.6 -4.8ZM1144.21 321.8l2.6 4.8l2.6 -4.8ZM1150.52 321.8l2.6 4.8l2.6 -4.8ZM1156.82 321.8l2.6 4.8l2.6 -4.8ZM1163.13 321.8l2.6 4.8l2.6 -4.8ZM1169.44 317.21l2.6 4.8l2.6 -4.8ZM1175.75 310.18l2.6 4.8l2.6 -4.8ZM1182.06 302.23l2.6 4.8l2.6 -4.8ZM1188.36 290.15l2.6 4.8l2.6 -4.8ZM1194.67 278.91l2.6 4.8l2.6 -4.8ZM1200.98 266.83l2.6 4.8l2.6 -4.8ZM1207.29 253.22l2.6 4.8l2.6 -4.8ZM1213.6 244.73l2.6 4.8l2.6 -4.8ZM1219.9 230.51l2.6 4.8l2.6 -4.8ZM1226.21 219.73l2.6 4.8l2.6 -4.8ZM1232.52 209.4l2.6 4.8l2.6 -4.8ZM1238.83 198.62l2.6 4.8l2.6 -4.8ZM1245.14 189.91l2.6 4.8l2.6 -4.8ZM1251.44 185.4l2.6 4.8l2.6 -4.8ZM1257.75 180.88l2.6 4.8l2.6 -4.8ZM1264.06 176.3l2.6 4.8l2.6 -4.8ZM1270.37 172.55l2.6 4.8l2.6 -4.8ZM1276.68 169.11l2.6 4.8l2.6 -4.8ZM1282.98 165.82l2.6 4.8l2.6 -4.8ZM1289.29 163.07l2.6 4.8l2.6 -4.8ZM1295.6 160.47l2.6 4.8l2.6 -4.8ZM1301.91 158.56l2.6 4.8l2.6 -4.8ZM1308.22 156.65l2.6 4.8l2.6 -4.8ZM1314.52 154.96l2.6 4.8l2.6 -4.8ZM1320.83 153.36l2.6 4.8l2.6 -4.8ZM1327.14 151.91l2.6 4.8l2.6 -4.8ZM1333.45 150.53l2.6 4.8l2.6 -4.8ZM1339.76 148.55l2.6 4.8l2.6 -4.8ZM1346.06 146.82l2.6 4.8l2.6 -4.8ZM1352.37 145.56l2.6 4.8l2.6 -4.8ZM1358.68 144.04l2.6 4.8l2.6 -4.8ZM1364.99 142.7l2.6 4.8l2.6 -4.8ZM1371.3 141.74l2.6 4.8l2.6 -4.8ZM1377.6 140.22l2.6 4.8l2.6 -4.8ZM1383.91 138.88l2.6 4.8l2.6 -4.8ZM1390.22 137.91l2.6 4.8l2.6 -4.8ZM1396.53 136.95l2.6 4.8l2.6 -4.8ZM1402.84 136.04l2.6 4.8l2.6 -4.8ZM1409.14 135.2l2.6 4.8l2.6 -4.8ZM1415.45 134.47l2.6 4.8l2.6 -4.8ZM1421.76 133.94l2.6 4.8l2.6 -4.8ZM1428.07 133.1l2.6 4.8l2.6 -4.8ZM1434.38 132.31l2.6 4.8l2.6 -4.8ZM1440.68 131.59l2.6 4.8l2.6 -4.8ZM1446.99 130.96l2.6 4.8l2.6 -4.8ZM1453.3 130.5l2.6 4.8l2.6 -4.8ZM1459.61 129.83l2.6 4.8l2.6 -4.8ZM1465.92 129.2l2.6 4.8l2.6 -4.8ZM1472.22 128.62l2.6 4.8l2.6 -4.8ZM1478.53 128.11l2.6 4.8l2.6 -4.8ZM1484.84 127.74l2.6 4.8l2.6 -4.8ZM1491.15 127.34l2.6 4.8l2.6 -4.8ZM1497.46 126.95l2.6 4.8l2.6 -4.8ZM1503.76 126.6l2.6 4.8l2.6 -4.8ZM1510.07 126.29l2.6 4.8l2.6 -4.8ZM1516.38 126.06l2.6 4.8l2.6 -4.8Z" fill="#c40ac4"/>
<polyline fill="none" stroke="#0000ff" stroke-width="1.15" points="1140.5,323.7 1146.81,323.7 1153.12,323.7 1159.42,323.7 1165.73,323.7 1172.04,322.17 1178.35,319.88 1184.66,314.98 1190.96,309.17 1197.27,298.09 1203.58,285.47 1209.89,272.47 1216.2,259.78 1222.5,246.09 1228.81,234.39 1235.12,225.22 1241.43,216.89 1247.74,208.32 1254.04,202.28 1260.35,196.01 1266.66,191.27 1272.97,186.68 1279.28,182.48 1285.58,179.27 1291.89,176.29 1298.2,173.84 1304.51,171.85 1310.82,170.24 1317.12,168.64 1323.43,166.65 1329.74,164.97 1336.05,163.9 1342.36,161.92 1348.66,160.19 1354.97,158.93 1361.28,157.41 1367.59,156.07 1373.9,155.11 1380.2,153.37 1386.51,151.85 1392.82,150.75 1399.13,149.39 1405.44,148.11 1411.74,146.94 1418.05,145.91 1424.36,145.17 1430.67,144.24 1436.98,143.36 1443.28,142.56 1449.59,141.85 1455.9,141.34 1462.21,140.73 1468.52,140.15 1474.82,139.62 1481.13,139.16 1487.44,138.82 1493.75,138.45 1500.06,138.1 1506.36,137.78 1512.67,137.5 1518.98,137.29"/>
<path d="M1138 323.7a2.5 2.5 0 1 0 5 0a2.5 2.5 0 1 0 -5 0ZM1144.31 323.7a2.5 2.5 0 1 0 5 0a2.5 2.5 0 1 0 -5 0ZM1150.62 323.7a2.5 2.5 0 1 0 5 0a2.5 2.5 0 1 0 -5 0ZM1156.92 323.7a2.5 2.5 0 1 0 5 0a2.5 2.5 0 1 0 -5 0ZM1163.23 323.7a2.5 2.5 0 1 0 5 0a2.5 2.5 0 1 0 -5 0ZM1169.54 322.17a2.5 2.5 0 1 0 5 0a2.5 2.5 0 1 0 -5 0ZM1175.85 319.88a2.5 2.5 0 1 0 5 0a2.5 2.5 0 1 0 -5 0ZM1182.16 314.98a2.5 2.5 0 1 0 5 0a2.5 2.5 0 1 0 -5 0ZM1188.46 309.17a2.5 2.5 0 1 0 5 0a2.5 2.5 0 1 0 -5 0ZM1194.77 298.09a2.5 2.5 0 1 0 5 0a2.5 2.5 0 1 0 -5 0ZM1201.08 285.47a2.5 2.5 0 1 0 5 0a2.5 2.5 0 1 0 -5 0ZM1207.39 272.47a2.5 2.5 0 1 0 5 0a2.5 2.5 0 1 0 -5 0ZM1213.7 259.78a2.5 2.5 0 1 0 5 0a2.5 2.5 0 1 0 -5 0ZM1220 246.09a2.5 2.5 0 1 0 5 0a2.5 2.5 0 1 0 -5 0ZM1226.31 234.39a2.5 2.5 0 1 0 5 0a2.5 2.5 0 1 0 -5 0ZM1232.62 225.22a2.5 2.5 0 1 0 5 0a2.5 2.5 0 1 0 -5 0ZM1238.93 216.89a2.5 2.5 0 1 0 5 0a2.5 2.5 0 1 0 -5 0ZM1245.24 208.32a2.5 2.5 0 1 0 5 0a2.5 2.5 0 1 0 -5 0ZM1251.54 202.28a2.5 2.5 0 1 0 5 0a2.5 2.5 0 1 0 -5 0ZM1257.85 196.01a2.5 2.5 0 1 0 5 0a2.5 2.5 0 1 0 -5 0ZM1264.16 191.27a2.5 2.5 0 1 0 5 0a2.5 2.5 0 1 0 -5 0ZM1270.47 186.68a2.5 2.5 0 1 0 5 0a2.5 2.5 0 1 0 -5 0ZM1276.78 182.48a2.5 2.5 0 1 0 5 0a2.5 2.5 0 1 0 -5 0ZM1283.08 179.27a2.5 2.5 0 1 0 5 0a2.5 2.5 0 1 0 -5 0ZM1289.39 176.29a2.5 2.5 0 1 0 5 0a2.5 2.5 0 1 0 -5 0ZM1295.7 173.84a2.5 2.5 0 1 0 5 0a2.5 2.5 0 1 0 -5 0ZM1302.01 171.85a2.5 2.5 0 1 0 5 0a2.5 2.5 0 1 0 -5 0ZM1308.32 170.24a2.5 2.5 0 1 0 5 0a2.5 2.5 0 1 0 -5 0ZM1314.62 168.64a2.5 2.5 0 1 0 5 0a2.5 2.5 0 1 0 -5 0ZM1320.93 166.65a2.5 2.5 0 1 0 5 0a2.5 2.5 0 1 0 -5 0ZM1327.24 164.97a2.5 2.5 0 1 0 5 0a2.5 2.5 0 1 0 -5 0ZM1333.55 163.9a2.5 2.5 0 1 0 5 0a2.5 2.5 0 1 0 -5 0ZM1339.86 161.92a2.5 2.5 0 1 0 5 0a2.5 2.5 0 1 0 -5 0ZM1346.16 160.19a2.5 2.5 0 1 0 5 0a2.5 2.5 0 1 0 -5 0ZM1352.47 158.93a2.5 2.5 0 1 0 5 0a2.5 2.5 0 1 0 -5 0ZM1358.78 157.41a2.5 2.5 0 1 0 5 0a2.5 2.5 0 1 0 -5 0ZM1365.09 156.07a2.5 2.5 0 1 0 5 0a2.5 2.5 0 1 0 -5 0ZM1371.4 155.11a2.5 2.5 0 1 0 5 0a2.5 2.5 0 1 0 -5 0ZM1377.7 153.37a2.5 2.5 0 1 0 5 0a2.5 2.5 0 1 0 -5 0ZM1384.01 151.85a2.5 2.5 0 1 0 5 0a2.5 2.5 0 1 0 -5 0ZM1390.32 150.75a2.5 2.5 0 1 0 5 0a2.5 2.5 0 1 0 -5 0ZM1396.63 149.39a2.5 2.5 0 1 0 5 0a2.5 2.5 0 1 0 -5 0ZM1402.94 148.11a2.5 2.5 0 1 0 5 0a2.5 2.5 0 1 0 -5 0ZM1409.24 146.94a2.5 2.5 0 1 0 5 0a2.5 2.5 0 1 0 -5 0ZM1415.55 145.91a2.5 2.5 0 1 0 5 0a2.5 2.5 0 1 0 -5 0ZM1421.86 145.17a2.5 2.5 0 1 0 5 0a2.5 2.5 0 1 0 -5 0ZM1428.17 144.24a2.5 2.5 0 1 0 5 0a2.5 2.5 0 1 0 -5 0ZM1434.48 143.36a2.5 2.5 0 1 0 5 0a2.5 2.5 0 1 0 -5 0ZM1440.78 142.56a2.5 2.5 0 1 0 5 0a2.5 2.5 0 1 0 -5 0ZM1447.09 141.85a2.5 2.5 0 1 0 5 0a2.5 2.5 0 1 0 -5 0ZM1453.4 141.34a2.5 2.5 0 1 0 5 0a2.5 2.5 0 1 0 -5 0ZM1459.71 140.73a2.5 2.5 0 1 0 5 0a2.5 2.5 0 1 0 -5 0ZM1466.02 140.15a2.5 2.5 0 1 0 5 0a2.5 2.5 0 1 0 -5 0ZM1472.32 139.62a2.5 2.5 0 1 0 5 0a2.5 2.5 0 1 0 -5 0ZM1478.63 139.16a2.5 2.5 0 1 0 5 0a2.5 2.5 0 1 0 -5 0ZM1484.94 138.82a2.5 2.5 0 1 0 5 0a2.5 2.5 0 1 0 -5 0ZM1491.25 138.45a2.5 2.5 0 1 0 5 0a2.5 2.5 0 1 0 -5 0ZM1497.56 138.1a2.5 2.5 0 1 0 5 0a2.5 2.5 0 1 0 -5 0ZM1503.86 137.78a2.5 2.5 0 1 0 5 0a2.5 2.5 0 1 0 -5 0ZM1510.17 137.5a2.5 2.5 0 1 0 5 0a2.5 2.5 0 1 0 -5 0ZM1516.48 137.29a2.5 2.5 0 1 0 5 0a2.5 2.5 0 1 0 -5 0Z" fill="#0000ff"/>
<path d="M1527.2 83.2 H1532.8 V125.6 H1527.2" fill="none" stroke="#000" stroke-width="2.3"/>
<path d="M1526.8 127.6 H1532.2 V139.3 H1526.8" fill="none" stroke="#000" stroke-width="2.3"/>
<path d="M1543.6 83.2 H1549 V139.3 H1543.6" fill="none" stroke="#000" stroke-width="2.3"/>
<path d="M1559.2 67.8 H1564.6 V139.3 H1559.2" fill="none" stroke="#000" stroke-width="2.3"/>
<text transform="translate(1530.99,95.55) rotate(90) scale(1,0.891)" font-size="15.35" stroke="#000" stroke-width="0.25">****</text>
<text transform="translate(1547.71,96.65) rotate(90) scale(1,0.965)" font-size="15.35" stroke="#000" stroke-width="0.25">****</text>
<text transform="translate(1563.9,89.15) rotate(90) scale(1,0.902)" font-size="15.48" stroke="#000" stroke-width="0.25">****</text>
<text transform="translate(1534.6,126.41) rotate(90) scale(1.0310,1)" font-size="11.5">n.s</text>
<line x1="1532.5" y1="201.7" x2="1556.2" y2="201.7" stroke="#0000ff" stroke-width="2.3"/>
<circle cx="1544.4" cy="201.7" r="4.6" fill="#0000ff"/>
<text transform="translate(1569.37,207.8) scale(0.9144,1.0000)" font-size="20">Control</text>
<line x1="1532.5" y1="231.9" x2="1556.2" y2="231.9" stroke="#078407" stroke-width="2.3"/>
<rect x="1539.8" y="227.3" width="9.2" height="9.2" fill="#078407"/>
<text transform="translate(1569.33,238) scale(0.9613,1.0000)" font-size="20">Id2 (WT)</text>
<line x1="1532.5" y1="262.2" x2="1556.2" y2="262.2" stroke="#7a0c9e" stroke-width="2.3"/>
<path d="M1539.6 266.4L1544.4 257.4L1549.2 266.4Z" fill="#7a0c9e"/>
<text transform="translate(1569.35,268.3) scale(0.9496,1.0000)" font-size="20">Id2 (S14D)</text>
<line x1="1532.5" y1="292.3" x2="1556.2" y2="292.3" stroke="#c40ac4" stroke-width="2.3"/>
<path d="M1539.6 288.1L1544.4 297.1L1549.2 288.1Z" fill="#c40ac4"/>
<text transform="translate(1569.35,298.4) scale(0.9457,1.0000)" font-size="20">Id2 (S14A)</text>
</g>
<g id="panelF">
<text transform="translate(994.72,427.45) scale(0.9523,1)" font-size="48.98" stroke="#000" stroke-width="1.1" stroke-linejoin="miter">F</text>
<text transform="translate(1104.03,430.2) scale(0.9844,1.0000)" font-size="24.4" fill="#ff0000">RFP</text>
<text transform="translate(1273.2,430.2) scale(0.9606,1.0000)" font-size="24.4" fill="#ff0000">WT</text>
<text transform="translate(1427.91,430.2) scale(0.9803,1.0000)" font-size="24.4" fill="#ff0000">S14D</text>
<text transform="translate(1591.92,430.2) scale(0.9721,1.0000)" font-size="24.4" fill="#ff0000">S14A</text>
<text transform="translate(1408.93,396.6) scale(0.9827,1.0000)" font-size="24.4" fill="#ff0000">RFP-Id2</text>
<line x1="1215.4" y1="403.1" x2="1667.5" y2="403.1" stroke="#000" stroke-width="1.6"/>
<text transform="translate(1038.4,587.59) rotate(-90) scale(0.9613,1.0000)" font-size="24.6" fill="#0a8c0a">GFP-α-tubulin</text>
<text transform="translate(1037.8,722.99) rotate(-90) scale(0.9838,1.0000)" font-size="24.6" fill="#ff0000">RFP-Id2</text>
<text transform="translate(1034.9,885.68) rotate(-90) scale(0.9802,1.0000)" font-size="24.6">Merge</text>
<defs>
<clipPath id="mc"><rect x="0" y="0" width="160.3" height="160.1"/></clipPath>
<g id="ng0" fill="none" stroke="#00ff00" stroke-linecap="round" stroke-linejoin="round" filter="url(#g1)">
<path d="M68.4 5.2L70.4 5.4L73.3 5.9L76.6 6.3L80 6.9L83.2 7.4L86.1 7.9L89.1 8.6L92 9.2L94.9 9.7L97.9 9.9L100.9 9.9L103.9 9.7L106.8 9.3L109.8 8.7L112.6 8.1L115.5 7.3L118.5 6.2L121.3 5L123.8 4L125.5 3.3" stroke-width="0.7" stroke-opacity="0.11"/>
<path d="M129.2 7L130.6 7.8L132.7 9L135.1 10.3L137.7 11.6L140.2 12.5L142.9 13.1L145.8 13.6L148.8 13.9L151.3 14.2L153.1 14.4" stroke-width="0.7" stroke-opacity="0.07"/>
<path d="M29.9 97.3L30.3 96.4L30.9 95.1L31.6 93.6L32.4 92.1L33.2 90.8L33.9 89.8L34.7 88.9L35.6 88.1L36.5 87.3L37.5 86.5L38.8 85.6L40.3 84.6L41.8 83.6L43.1 82.8L44 82.2" stroke-width="0.7" stroke-opacity="0.13"/>
<path d="M49.4 58.4L49.8 59.1L50.4 60.2L51 61.4L51.8 62.7L52.6 63.8L53.7 64.8L54.9 65.8L56.2 66.7L57.3 67.5L58.1 68.1" stroke-width="0.7" stroke-opacity="0.11"/>
<path d="M28.8 41.1L30.1 42.1L31.9 43.7L34 45.5L36.3 47.2L38.6 48.6L41 49.8L43.5 50.7L46.2 51.6L48.9 52.4L51.6 53L54.4 53.4L57.4 53.7L60.3 53.8L62.8 53.9L64.6 54" stroke-width="0.7" stroke-opacity="0.07"/>
<path d="M60.2 65.9L61.1 65.8L62.4 65.7L63.8 65.5L65.3 65.2L66.7 64.9L68 64.4L69.3 63.7L70.6 63L71.9 62.3L73.2 61.6L74.5 61L75.9 60.4L77.3 59.7L78.5 59.1L79.7 58.4L80.8 57.5L81.8 56.5L82.7 55.5L83.5 54.6L84 54" stroke-width="0.7" stroke-opacity="0.18"/>
<path d="M84 72.4L85.2 73.2L86.9 74.3L88.8 75.5L90.8 76.7L92.7 77.8L94.5 78.8L96.3 79.8L98 80.7L99.8 81.5L101.4 82.2L102.8 82.6L104 83L105.2 83.2L106.4 83.3L107.8 83.3L109.4 83.1L111 82.8L112.8 82.3L114.6 81.9L116.5 81.6L118.5 81.5L120.7 81.4L122.9 81.3L125.1 81.2L127.3 81.1L129.7 80.9L132.2 80.6L134.6 80.4L136.7 80.2L138.1 80" stroke-width="0.7" stroke-opacity="0.11"/>
<path d="M4 99L4.5 101L5.2 104L5.9 107.4L6.5 110.8L6.8 113.7L6.7 116.2L6.3 118.4L5.7 120.5L5.2 122.6L5 124.7L5 127.1L5.2 129.7L5.5 132.2L5.7 134.3L5.9 135.8" stroke-width="0.7" stroke-opacity="0.04"/>
<path d="M110 58.4L110.9 58.5L112.2 58.7L113.7 59L115.2 59.3L116.5 59.4L117.6 59.6L118.6 59.7L119.5 59.8L120.3 59.9L120.8 60" stroke-width="0.7" stroke-opacity="0.25"/>
<path d="M97 73.5L97 72.9L96.9 72.2L96.8 71.2L96.8 70.2L97 69.2L97.5 68.1L98.1 67L98.9 65.8L99.6 64.7L100.3 63.8L100.8 62.9L101.3 62.2L101.8 61.5L102.2 60.9L102.4 60.5" stroke-width="0.7" stroke-opacity="0.2"/>
<path d="M105.7 73.5L106.2 72.9L106.8 72.2L107.6 71.2L108.4 70.2L108.9 69.2L109.3 68.1L109.6 66.8L109.8 65.6L109.9 64.5L110 63.8" stroke-width="0.7" stroke-opacity="0.1"/>
<path d="M59.7 96.8L60 96L60.5 94.9L61.1 93.5L61.7 92.2L62.4 90.8L63.2 89.5L64.1 88.2L65 86.8L65.9 85.5L66.7 84.3L67.3 83.2L67.9 82.2" stroke-width="1.81" stroke-opacity="0.99"/>
<path d="M67.9 82.2L68.3 81.2L68.8 80.3L69.4 79.5L70.1 78.8L70.8 78.2L71.6 77.6L72.4 77.2L73.2 76.8L74.2 76.4L75.3 76.1L76.4 75.8L77.4 75.6L78.1 75.5" stroke-width="1.44" stroke-opacity="0.93"/>
<path d="M61.8 100.6L62.5 100.3L63.4 99.9L64.5 99.4L65.6 98.9L66.7 98.4L67.8 98L68.9 97.6L70.1 97.2L71.1 96.8L72.1 96.2L73 95.6L73.9 94.9L74.6 94.1L75.3 93.3" stroke-width="1.23" stroke-opacity="0.85"/>
<path d="M75.3 93.3L75.9 92.5L76.4 91.6L76.8 90.6L77.1 89.6L77.3 88.6L77.5 87.6L77.7 86.5L77.8 85.4L77.9 84.3L78 83.2L78.1 82.2L78.2 81.2L78.2 80.4L78.3 79.5" stroke-width="1.18" stroke-opacity="0.81"/>
<path d="M78.3 79.5L78.4 78.7L78.6 77.8L79 77L79.4 76.1L79.9 75.3L80.4 74.4L80.8 73.5L81.1 72.6L81.2 71.8L81.4 70.9L81.6 70L81.9 69.2L82.2 68.4" stroke-width="1.12" stroke-opacity="0.78"/>
<path d="M82.2 68.4L82.6 67.6L83 66.8L83.4 66.1L84 65.4L84.8 64.8L85.6 64.2L86.5 63.7L87.5 63.2L88.4 62.7L89.3 62.2L90.3 61.8L91.3 61.4L92.1 61L92.7 60.7" stroke-width="1.07" stroke-opacity="0.75"/>
<path d="M92.7 60.7L93.3 60.7L94.1 60.7L95.1 60.7L96.1 60.6L97 60.5L97.9 60.5L98.8 60.4L99.7 60.3L100.6 60.2L101.4 60L102.1 59.7L102.8 59.3L103.4 58.9L104 58.4L104.6 57.8L105.1 57.2L105.6 56.5L106 55.7L106.4 54.9L106.8 54" stroke-width="0.99" stroke-opacity="0.66"/>
<path d="M106.8 54L107.1 53.2L107.4 52.3L107.6 51.5L107.7 50.6L107.8 49.7L107.9 48.8L107.8 48L107.7 47.1L107.5 46.2L107.3 45.4L107 44.6L106.6 43.8L106.1 43L105.6 42.3L105.1 41.6L104.6 40.9L104 40.3L103.3 39.7L102.8 39.2L102.4 38.9" stroke-width="0.86" stroke-opacity="0.49"/>
<path d="M107.8 47L108.4 46.8L109.3 46.5L110.2 46.1L111.2 45.8L112.2 45.4L113 45L113.9 44.6L114.7 44.2L115.6 43.8L116.5 43.2L117.5 42.5L118.6 41.7" stroke-width="0.79" stroke-opacity="0.4"/>
<path d="M118.6 41.7L119.7 40.9L120.8 40.1L121.9 39.4L123 38.8L124.2 38.3L125.3 37.8L126.4 37.5L127.3 37.3L128.2 37.3L128.9 37.5L129.6 37.8L130.2 38.1L130.6 38.3" stroke-width="0.76" stroke-opacity="0.38"/>
<path d="M102.4 58.4L102.4 57.6L102.4 56.5L102.3 55.3L102.1 54.1L101.9 53L101.5 52L101 51.1L100.4 50.2L99.8 49.4L99.2 48.6" stroke-width="0.75" stroke-opacity="0.3"/>
<path d="M99.2 48.6L98.6 47.9L97.9 47.4L97.2 46.8L96.5 46.2L95.9 45.4L95.4 44.4L94.9 43.1L94.4 41.8L94.1 40.7L93.8 40" stroke-width="0.75" stroke-opacity="0.24"/>
<path d="M94.9 53L94.1 53.3L93.1 53.7L91.9 54.2L90.6 54.7L89.4 55.1L88.3 55.6L87.2 56L86 56.5L85 56.9L84 57.3L83.2 57.6L82.4 57.8L81.7 58.1L81.2 58.2L80.8 58.4" stroke-width="0.75" stroke-opacity="0.25"/>
<path d="M93.8 44.3L93 44.4L91.9 44.5L90.6 44.7L89.4 45L88.4 45.4L87.5 45.9L86.8 46.5L86.2 47.2L85.6 47.9L85.1 48.6L84.7 49.3L84.5 50.1L84.3 50.8L84.1 51.4L84 51.9" stroke-width="0.75" stroke-opacity="0.27"/>
<path d="M54.8 107.1L54.2 107.5L53.4 108L52.5 108.6L51.5 109.3L50.5 109.8L49.5 110.2L48.5 110.6L47.4 111L46.2 111.2L45.1 111.4L43.8 111.5L42.5 111.4" stroke-width="1.6" stroke-opacity="0.93"/>
<path d="M42.5 111.4L41.2 111.3L39.8 111.1L38.6 110.9L37.4 110.5L36.3 110.1L35.2 109.7L34.2 109.2L33.2 108.7L32.2 108.1L31.2 107.5L30.2 106.9L29.4 106.4L28.8 106" stroke-width="1.2" stroke-opacity="0.75"/>
<path d="M56.1 111.4L56.1 112.3L56.2 113.6L56.2 115.1L56.3 116.6L56.4 117.9L56.7 119.1L57 120.2L57.3 121.3L57.7 122.4L58.1 123.3L58.5 124.1L58.9 124.9L59.4 125.6L59.7 126.1L60 126.5" stroke-width="1.55" stroke-opacity="0.96"/>
<path d="M58.3 110.9L58.7 111.5L59.2 112.5L59.9 113.6L60.6 114.7L61.3 115.7L62.1 116.7L63 117.6L63.8 118.5L64.6 119.3L65.1 119.8" stroke-width="1.35" stroke-opacity="0.96"/>
<path d="M56.1 97.9L56 96.9L55.8 95.5L55.6 93.9L55.5 92.3L55.4 90.8L55.3 89.5L55.3 88.1L55.3 86.8L55.3 85.6L55.4 84.3L55.4 83.1L55.5 81.8L55.6 80.7L55.6 79.6L55.7 78.9" stroke-width="0.8" stroke-opacity="0.47"/>
<path d="M54.6 99L54.2 98L53.7 96.6L53.2 95L52.6 93.3L52.1 91.9L51.7 90.7L51.3 89.6L51 88.6L50.7 87.6L50.5 86.5L50.3 85.3L50.2 84.1L50.1 82.9L50 81.8L49.9 81.1" stroke-width="0.8" stroke-opacity="0.43"/>
<circle cx="57.5" cy="104.4" r="5.5" fill="#00ff00" fill-opacity="0.4" stroke="none" filter="url(#g2)"/>
<path d="M59.4 95.7L59.9 96.9L60.6 98.7L61.1 100.6L61.1 102.3L60.9 104.2L60.6 106L60.1 107.9L59.6 109.8L58.9 111.4L58.1 112.6L57.3 113.5L56.4 113.8L55.7 113.1L55.1 111.7L54.6 110.3L54.1 109.1L53.8 107.9L53.7 106.5L54.1 104.9L54.7 103.2L55.4 101.7L55.9 100.3L56.4 99L57 97.9L57.8 96.9L58.7 96.2L59.4 95.7Z" fill="#00ff00" fill-opacity="1" stroke-width="1" stroke-opacity="1"/>
<circle cx="130.4" cy="38.2" r="0.8" fill="#00ff00" fill-opacity="0.6" stroke="none"/>
<circle cx="68.9" cy="75.9" r="0.8" fill="#00ff00" fill-opacity="0.6" stroke="none"/>
<circle cx="64.6" cy="79.7" r="0.7" fill="#00ff00" fill-opacity="0.5" stroke="none"/>
<circle cx="93.8" cy="48.8" r="0.7" fill="#00ff00" fill-opacity="0.4" stroke="none"/>
<circle cx="120.8" cy="60" r="0.6" fill="#00ff00" fill-opacity="0.35" stroke="none"/>
<circle cx="82.2" cy="146.8" r="1" fill="#00ff00" fill-opacity="0.22" stroke="none"/>
<circle cx="143" cy="79.1" r="0.7" fill="#00ff00" fill-opacity="0.08" stroke="none"/>
<circle cx="91.4" cy="60.3" r="1" fill="#00ff00" fill-opacity="0.3" stroke="none"/>
</g>
<g id="nr0" fill="none" stroke="#ff0000" stroke-linecap="round" stroke-linejoin="round" filter="url(#g1)">
<path d="M68.4 5.2L70.4 5.4L73.3 5.9L76.6 6.3L80 6.9L83.2 7.4L86.1 7.9L89.1 8.6L92 9.2L94.9 9.7L97.9 9.9L100.9 9.9L103.9 9.7L106.8 9.3L109.8 8.7L112.6 8.1L115.5 7.3L118.5 6.2L121.3 5L123.8 4L125.5 3.3" stroke-width="0.7" stroke-opacity="0.16"/>
<path d="M129.2 7L130.6 7.8L132.7 9L135.1 10.3L137.7 11.6L140.2 12.5L142.9 13.1L145.8 13.6L148.8 13.9L151.3 14.2L153.1 14.4" stroke-width="0.7" stroke-opacity="0.13"/>
<path d="M29.9 97.3L30.3 96.4L30.9 95.1L31.6 93.6L32.4 92.1L33.2 90.8L33.9 89.8L34.7 88.9L35.6 88.1L36.5 87.3L37.5 86.5L38.8 85.6L40.3 84.6L41.8 83.6L43.1 82.8L44 82.2" stroke-width="0.7" stroke-opacity="0.08"/>
<path d="M49.4 58.4L49.8 59.1L50.4 60.2L51 61.4L51.8 62.7L52.6 63.8L53.7 64.8L54.9 65.8L56.2 66.7L57.3 67.5L58.1 68.1" stroke-width="0.7" stroke-opacity="0.11"/>
<path d="M28.8 41.1L30.1 42.1L31.9 43.7L34 45.5L36.3 47.2L38.6 48.6L41 49.8L43.5 50.7L46.2 51.6L48.9 52.4L51.6 53L54.4 53.4L57.4 53.7L60.3 53.8L62.8 53.9L64.6 54" stroke-width="0.7" stroke-opacity="0.11"/>
<path d="M60.2 65.9L61.1 65.8L62.4 65.7L63.8 65.5L65.3 65.2L66.7 64.9L68 64.4L69.3 63.7L70.6 63L71.9 62.3L73.2 61.6L74.5 61L75.9 60.4L77.3 59.7L78.5 59.1L79.7 58.4L80.8 57.5L81.8 56.5L82.7 55.5L83.5 54.6L84 54" stroke-width="0.7" stroke-opacity="0.16"/>
<path d="M84 72.4L85.2 73.2L86.9 74.3L88.8 75.5L90.8 76.7L92.7 77.8L94.5 78.8L96.3 79.8L98 80.7L99.8 81.5L101.4 82.2L102.8 82.6L104 83L105.2 83.2L106.4 83.3L107.8 83.3L109.4 83.1L111 82.8L112.8 82.3L114.6 81.9L116.5 81.6L118.5 81.5L120.7 81.4L122.9 81.3L125.1 81.2L127.3 81.1L129.7 80.9L132.2 80.6L134.6 80.4L136.7 80.2L138.1 80" stroke-width="0.7" stroke-opacity="0.2"/>
<path d="M4 99L4.5 101L5.2 104L5.9 107.4L6.5 110.8L6.8 113.7L6.7 116.2L6.3 118.4L5.7 120.5L5.2 122.6L5 124.7L5 127.1L5.2 129.7L5.5 132.2L5.7 134.3L5.9 135.8" stroke-width="0.7" stroke-opacity="0.13"/>
<path d="M110 58.4L110.9 58.5L112.2 58.7L113.7 59L115.2 59.3L116.5 59.4L117.6 59.6L118.6 59.7L119.5 59.8L120.3 59.9L120.8 60" stroke-width="0.7" stroke-opacity="0.2"/>
<path d="M97 73.5L97 72.9L96.9 72.2L96.8 71.2L96.8 70.2L97 69.2L97.5 68.1L98.1 67L98.9 65.8L99.6 64.7L100.3 63.8L100.8 62.9L101.3 62.2L101.8 61.5L102.2 60.9L102.4 60.5" stroke-width="0.7" stroke-opacity="0.16"/>
<path d="M105.7 73.5L106.2 72.9L106.8 72.2L107.6 71.2L108.4 70.2L108.9 69.2L109.3 68.1L109.6 66.8L109.8 65.6L109.9 64.5L110 63.8" stroke-width="0.7" stroke-opacity="0.08"/>
<path d="M59.7 96.8L60 96L60.5 94.9L61.1 93.5L61.7 92.2L62.4 90.8L63.2 89.5L64.1 88.2L65 86.8L65.9 85.5L66.7 84.3L67.3 83.2L67.9 82.2" stroke-width="1.81" stroke-opacity="0.99"/>
<path d="M67.9 82.2L68.3 81.2L68.8 80.3L69.4 79.5L70.1 78.8L70.8 78.2L71.6 77.6L72.4 77.2L73.2 76.8L74.2 76.4L75.3 76.1L76.4 75.8L77.4 75.6L78.1 75.5" stroke-width="1.44" stroke-opacity="0.93"/>
<path d="M61.8 100.6L62.5 100.3L63.4 99.9L64.5 99.4L65.6 98.9L66.7 98.4L67.8 98L68.9 97.6L70.1 97.2L71.1 96.8L72.1 96.2L73 95.6L73.9 94.9L74.6 94.1L75.3 93.3" stroke-width="1.23" stroke-opacity="0.85"/>
<path d="M75.3 93.3L75.9 92.5L76.4 91.6L76.8 90.6L77.1 89.6L77.3 88.6L77.5 87.6L77.7 86.5L77.8 85.4L77.9 84.3L78 83.2L78.1 82.2L78.2 81.2L78.2 80.4L78.3 79.5" stroke-width="1.18" stroke-opacity="0.81"/>
<path d="M78.3 79.5L78.4 78.7L78.6 77.8L79 77L79.4 76.1L79.9 75.3L80.4 74.4L80.8 73.5L81.1 72.6L81.2 71.8L81.4 70.9L81.6 70L81.9 69.2L82.2 68.4" stroke-width="1.12" stroke-opacity="0.78"/>
<path d="M82.2 68.4L82.6 67.6L83 66.8L83.4 66.1L84 65.4L84.8 64.8L85.6 64.2L86.5 63.7L87.5 63.2L88.4 62.7L89.3 62.2L90.3 61.8L91.3 61.4L92.1 61L92.7 60.7" stroke-width="1.07" stroke-opacity="0.75"/>
<path d="M92.7 60.7L93.3 60.7L94.1 60.7L95.1 60.7L96.1 60.6L97 60.5L97.9 60.5L98.8 60.4L99.7 60.3L100.6 60.2L101.4 60L102.1 59.7L102.8 59.3L103.4 58.9L104 58.4L104.6 57.8L105.1 57.2L105.6 56.5L106 55.7L106.4 54.9L106.8 54" stroke-width="0.99" stroke-opacity="0.66"/>
<path d="M106.8 54L107.1 53.2L107.4 52.3L107.6 51.5L107.7 50.6L107.8 49.7L107.9 48.8L107.8 48L107.7 47.1L107.5 46.2L107.3 45.4L107 44.6L106.6 43.8L106.1 43L105.6 42.3L105.1 41.6L104.6 40.9L104 40.3L103.3 39.7L102.8 39.2L102.4 38.9" stroke-width="0.86" stroke-opacity="0.49"/>
<path d="M107.8 47L108.4 46.8L109.3 46.5L110.2 46.1L111.2 45.8L112.2 45.4L113 45L113.9 44.6L114.7 44.2L115.6 43.8L116.5 43.2L117.5 42.5L118.6 41.7" stroke-width="0.79" stroke-opacity="0.4"/>
<path d="M118.6 41.7L119.7 40.9L120.8 40.1L121.9 39.4L123 38.8L124.2 38.3L125.3 37.8L126.4 37.5L127.3 37.3L128.2 37.3L128.9 37.5L129.6 37.8L130.2 38.1L130.6 38.3" stroke-width="0.76" stroke-opacity="0.38"/>
<path d="M102.4 58.4L102.4 57.6L102.4 56.5L102.3 55.3L102.1 54.1L101.9 53L101.5 52L101 51.1L100.4 50.2L99.8 49.4L99.2 48.6" stroke-width="0.75" stroke-opacity="0.3"/>
<path d="M99.2 48.6L98.6 47.9L97.9 47.4L97.2 46.8L96.5 46.2L95.9 45.4L95.4 44.4L94.9 43.1L94.4 41.8L94.1 40.7L93.8 40" stroke-width="0.75" stroke-opacity="0.24"/>
<path d="M94.9 53L94.1 53.3L93.1 53.7L91.9 54.2L90.6 54.7L89.4 55.1L88.3 55.6L87.2 56L86 56.5L85 56.9L84 57.3L83.2 57.6L82.4 57.8L81.7 58.1L81.2 58.2L80.8 58.4" stroke-width="0.75" stroke-opacity="0.25"/>
<path d="M93.8 44.3L93 44.4L91.9 44.5L90.6 44.7L89.4 45L88.4 45.4L87.5 45.9L86.8 46.5L86.2 47.2L85.6 47.9L85.1 48.6L84.7 49.3L84.5 50.1L84.3 50.8L84.1 51.4L84 51.9" stroke-width="0.75" stroke-opacity="0.27"/>
<path d="M54.8 107.1L54.2 107.5L53.4 108L52.5 108.6L51.5 109.3L50.5 109.8L49.5 110.2L48.5 110.6L47.4 111L46.2 111.2L45.1 111.4L43.8 111.5L42.5 111.4" stroke-width="1.6" stroke-opacity="0.93"/>
<path d="M42.5 111.4L41.2 111.3L39.8 111.1L38.6 110.9L37.4 110.5L36.3 110.1L35.2 109.7L34.2 109.2L33.2 108.7L32.2 108.1L31.2 107.5L30.2 106.9L29.4 106.4L28.8 106" stroke-width="1.2" stroke-opacity="0.75"/>
<path d="M56.1 111.4L56.1 112.3L56.2 113.6L56.2 115.1L56.3 116.6L56.4 117.9L56.7 119.1L57 120.2L57.3 121.3L57.7 122.4L58.1 123.3L58.5 124.1L58.9 124.9L59.4 125.6L59.7 126.1L60 126.5" stroke-width="1.55" stroke-opacity="0.96"/>
<path d="M58.3 110.9L58.7 111.5L59.2 112.5L59.9 113.6L60.6 114.7L61.3 115.7L62.1 116.7L63 117.6L63.8 118.5L64.6 119.3L65.1 119.8" stroke-width="1.35" stroke-opacity="0.96"/>
<path d="M56.1 97.9L56 96.9L55.8 95.5L55.6 93.9L55.5 92.3L55.4 90.8L55.3 89.5L55.3 88.1L55.3 86.8L55.3 85.6L55.4 84.3L55.4 83.1L55.5 81.8L55.6 80.7L55.6 79.6L55.7 78.9" stroke-width="0.8" stroke-opacity="0.47"/>
<path d="M54.6 99L54.2 98L53.7 96.6L53.2 95L52.6 93.3L52.1 91.9L51.7 90.7L51.3 89.6L51 88.6L50.7 87.6L50.5 86.5L50.3 85.3L50.2 84.1L50.1 82.9L50 81.8L49.9 81.1" stroke-width="0.8" stroke-opacity="0.43"/>
<circle cx="57.5" cy="104.4" r="5.5" fill="#ff0000" fill-opacity="0.4" stroke="none" filter="url(#g2)"/>
<path d="M59.4 95.7L59.9 96.9L60.6 98.7L61.1 100.6L61.1 102.3L60.9 104.2L60.6 106L60.1 107.9L59.6 109.8L58.9 111.4L58.1 112.6L57.3 113.5L56.4 113.8L55.7 113.1L55.1 111.7L54.6 110.3L54.1 109.1L53.8 107.9L53.7 106.5L54.1 104.9L54.7 103.2L55.4 101.7L55.9 100.3L56.4 99L57 97.9L57.8 96.9L58.7 96.2L59.4 95.7Z" fill="#ff0000" fill-opacity="1" stroke-width="1" stroke-opacity="1"/>
<circle cx="130.4" cy="38.2" r="0.8" fill="#ff0000" fill-opacity="0.8" stroke="none"/>
<circle cx="68.9" cy="75.9" r="0.8" fill="#ff0000" fill-opacity="0.5" stroke="none"/>
<circle cx="64.6" cy="79.7" r="0.7" fill="#ff0000" fill-opacity="0.4" stroke="none"/>
<circle cx="93.8" cy="48.8" r="0.7" fill="#ff0000" fill-opacity="0.5" stroke="none"/>
<circle cx="120.8" cy="60" r="0.6" fill="#ff0000" fill-opacity="0.4" stroke="none"/>
<circle cx="82.2" cy="146.8" r="1" fill="#ff0000" fill-opacity="1" stroke="none"/>
<circle cx="15.1" cy="156" r="0.7" fill="#ff0000" fill-opacity="0.8" stroke="none"/>
<circle cx="143" cy="79.1" r="0.7" fill="#ff0000" fill-opacity="0.8" stroke="none"/>
<circle cx="91.4" cy="60.3" r="1" fill="#ff0000" fill-opacity="1" stroke="none"/>
<circle cx="50" cy="133.9" r="0.6" fill="#ff0000" fill-opacity="0.6" stroke="none"/>
</g>
<g id="ng1" fill="none" stroke="#00ff00" stroke-linecap="round" stroke-linejoin="round" filter="url(#g1)">
<path d="M2.8 51.1L3.8 50.6L5.2 49.7L6.8 48.7L8.5 47.9L10.1 47.5L11.7 47.5L13.2 47.7L14.8 48.2L16.2 48.8L17.5 49.7L18.5 50.7L19.5 52L20.3 53.5L20.8 55.1L21.2 56.7L21.2 58.4L20.9 60.2L20.5 62.1L19.9 64L19.3 65.9L18.6 67.7L17.5 69.6L16.5 71.5L15.8 73.3L15.6 75.1L16.3 76.6L17.6 78.1L19.2 79.4L20.5 80.9L21.2 82.4L21 84.2L20.4 86.1L19.5 88L18.5 89.9L17.5 91.6L16.4 93.3L15.1 95.1L13.9 96.7L12.7 98L12 99" stroke-width="0.7" stroke-opacity="0.12"/>
<path d="M2.8 78.7L4.2 79.1L6.3 79.6L8.7 80.2L11.3 80.5L13.8 80.6L16.5 80.1L19.4 79.3L22.4 78.4L24.9 77.5L26.7 76.9" stroke-width="0.7" stroke-opacity="0.16"/>
<path d="M12 87.9L13.2 89L14.8 90.5L16.8 92.3L18.9 94L21.2 95.3L23.5 96.3L26.1 97L28.8 97.6L31.5 98.2L34 99L36.5 100.1L39.1 101.3L41.5 102.6L43.6 103.7L45.1 104.5" stroke-width="0.7" stroke-opacity="0.11"/>
<path d="M120.5 60.3L121.5 59.4L122.8 58.1L124.4 56.6L126.2 55.4L127.9 54.8L129.7 54.9L131.6 55.4L133.6 56.3L135.4 57.5L137.1 58.9L138.5 60.6L139.9 62.7L141.1 64.9L142 67.3L142.6 69.5L142.8 71.8L142.7 74.1L142.4 76.4L141.7 78.6L140.8 80.6L139.2 82.4L137.2 84.2L134.9 85.7L132.9 87L131.6 87.9" stroke-width="0.7" stroke-opacity="0.1"/>
<path d="M128.3 140.6L129.4 141.1L131.1 141.9L133 142.7L135 143.4L136.9 143.8L138.6 143.7L140.2 143.3L141.9 142.8L143.6 142.2L145.6 141.6L147.9 141.2L150.7 140.7L153.4 140.2L155.8 139.8L157.5 139.5" stroke-width="0.7" stroke-opacity="0.18"/>
<path d="M52.4 7L53.2 6.5L54.2 5.8L55.4 5L56.6 4.3L58 3.7L59.4 3.3L61.1 3L62.8 2.8L64.3 2.7L65.3 2.6" stroke-width="0.7" stroke-opacity="0.11"/>
<path d="M83.7 19.9L84.5 20.6L85.7 21.7L87 22.8L88.3 23.7L89.2 23.9L90 23.4L90.7 22.2L91.2 20.7L91.5 19.4L91.4 18.4L90.8 17.9L89.7 17.7L88.5 17.7L87.3 17.7L86.5 17.7" stroke-width="0.7" stroke-opacity="0.08"/>
<path d="M116.8 14.4L118.8 13.8L121.7 13L125 12.1L128.4 11.3L131.6 10.7L134.6 10.2L137.6 9.9L140.7 9.7L143.6 9.6L146.3 9.8L148.9 10.3L151.5 11.1L153.9 12L155.9 12.9L157.3 13.4" stroke-width="0.7" stroke-opacity="0.07"/>
<path d="M80.7 109.2L80.9 108.4L81.2 107.3L81.5 106L82.1 104.8L82.8 103.8L83.9 102.9L85.4 102.2L87 101.5L88.4 100.9L89.3 100.5" stroke-width="0.7" stroke-opacity="0.18"/>
<path d="M142.3 67L142.9 68.3L143.7 70.1L144.5 72.3L145.2 74.5L145.6 76.7L145.4 78.8L144.7 81L144 83.2L143.4 85.4L143.4 87.5L144 89.8L145.1 92.1L146.4 94.3L147.8 96.5L148.8 98.4L149.7 100L150.4 101.6L151.1 102.9L151.7 104L152.1 104.8" stroke-width="0.7" stroke-opacity="0.1"/>
<path d="M56.9 141.6L57.8 141.9L59.1 142.4L60.6 142.8L62.1 143.2L63.3 143.3L64.4 142.9L65.4 142.4L66.4 141.6L67.1 141L67.7 140.6" stroke-width="0.8" stroke-opacity="0.29"/>
<path d="M54.7 130.8L55.4 130.3L56.4 129.6L57.6 128.9L58.9 128.1L60.1 127.6L61.4 127.2L62.9 126.9L64.4 126.7L65.7 126.6L66.6 126.5" stroke-width="0.7" stroke-opacity="0.12"/>
<path d="M99.1 117.8L98.5 117.7L97.7 117.4L96.7 117.2L95.7 116.9L94.7 116.7L93.7 116.6L92.6 116.5L91.5 116.5L90.4 116.5L89.3 116.5L88.2 116.7L87.1 116.9L86 117.1L84.9 117.4L83.9 117.6" stroke-width="0.93" stroke-opacity="0.51"/>
<path d="M99.1 117.8L98.5 117.7L97.7 117.4L96.7 117.2L95.7 116.9L94.7 116.7L93.7 116.6L92.6 116.5L91.5 116.5L90.4 116.5L89.3 116.5L88.2 116.7L87.1 116.9L86 117.1L84.9 117.4L83.9 117.6" stroke-width="1.67" stroke-opacity="0.84" stroke-dasharray="0.9 1.7"/>
<path d="M83.9 117.6L83 117.9L82.2 118.2L81.5 118.4L80.8 118.7L80.1 118.9L79.5 119.1L78.9 119.3L78.4 119.5L77.9 119.6L77.4 119.5L76.9 119.1L76.4 118.7L76 118.1L75.6 117.4L75.2 116.7" stroke-width="0.91" stroke-opacity="0.5"/>
<path d="M83.9 117.6L83 117.9L82.2 118.2L81.5 118.4L80.8 118.7L80.1 118.9L79.5 119.1L78.9 119.3L78.4 119.5L77.9 119.6L77.4 119.5L76.9 119.1L76.4 118.7L76 118.1L75.6 117.4L75.2 116.7" stroke-width="1.63" stroke-opacity="0.83" stroke-dasharray="0.9 1.7"/>
<path d="M75.2 116.7L75 116L74.7 115.2L74.5 114.3L74.4 113.4L74.4 112.4L74.4 111.4L74.5 110.3L74.7 109.2L75 108.1L75.2 107L75.6 105.9L76 104.8L76.5 103.8L77 102.7L77.4 101.6" stroke-width="0.88" stroke-opacity="0.49"/>
<path d="M75.2 116.7L75 116L74.7 115.2L74.5 114.3L74.4 113.4L74.4 112.4L74.4 111.4L74.5 110.3L74.7 109.2L75 108.1L75.2 107L75.6 105.9L76 104.8L76.5 103.8L77 102.7L77.4 101.6" stroke-width="1.59" stroke-opacity="0.81" stroke-dasharray="0.9 1.7"/>
<path d="M77.4 101.6L77.8 100.5L78.3 99.4L78.6 98.2L78.9 97.2L79 96.2L79 95.3L78.7 94.5L78.4 93.8L77.9 93.1L77.4 92.4L76.8 91.8L76.1 91.2L75.2 90.7L74.4 90.2L73.6 89.7" stroke-width="0.86" stroke-opacity="0.48"/>
<path d="M77.4 101.6L77.8 100.5L78.3 99.4L78.6 98.2L78.9 97.2L79 96.2L79 95.3L78.7 94.5L78.4 93.8L77.9 93.1L77.4 92.4L76.8 91.8L76.1 91.2L75.2 90.7L74.4 90.2L73.6 89.7" stroke-width="1.55" stroke-opacity="0.8" stroke-dasharray="0.9 1.7"/>
<path d="M73.6 89.7L72.8 89.2L72 88.7L71.2 88.2L70.5 87.6L69.8 87L69.3 86.3L68.9 85.6L68.5 84.9L68.1 84.1L67.7 83.2L67.3 82.2L66.9 81.1L66.5 80L66.1 79L65.5 78.3" stroke-width="0.84" stroke-opacity="0.47"/>
<path d="M73.6 89.7L72.8 89.2L72 88.7L71.2 88.2L70.5 87.6L69.8 87L69.3 86.3L68.9 85.6L68.5 84.9L68.1 84.1L67.7 83.2L67.3 82.2L66.9 81.1L66.5 80L66.1 79L65.5 78.3" stroke-width="1.51" stroke-opacity="0.79" stroke-dasharray="0.9 1.7"/>
<path d="M65.5 78.3L64.8 78.1L63.9 78.1L63 78.3L62.1 78.6L61.2 78.7L60.3 78.6L59.4 78.5L58.5 78.4L57.7 78.4L56.9 78.3L56.1 78.4L55.3 78.4L54.6 78.5L53.8 78.7L53.1 78.9" stroke-width="0.82" stroke-opacity="0.46"/>
<path d="M65.5 78.3L64.8 78.1L63.9 78.1L63 78.3L62.1 78.6L61.2 78.7L60.3 78.6L59.4 78.5L58.5 78.4L57.7 78.4L56.9 78.3L56.1 78.4L55.3 78.4L54.6 78.5L53.8 78.7L53.1 78.9" stroke-width="1.48" stroke-opacity="0.77" stroke-dasharray="0.9 1.7"/>
<path d="M53.1 78.9L52.3 79.2L51.5 79.5L50.7 79.9L50 80.2L49.3 80.5L48.7 80.7L48.2 80.9L47.7 81.1L47.2 81.1L46.6 81L45.8 80.8L45 80.3L44.1 79.7L43.3 79.2L42.8 78.9" stroke-width="0.8" stroke-opacity="0.45"/>
<path d="M53.1 78.9L52.3 79.2L51.5 79.5L50.7 79.9L50 80.2L49.3 80.5L48.7 80.7L48.2 80.9L47.7 81.1L47.2 81.1L46.6 81L45.8 80.8L45 80.3L44.1 79.7L43.3 79.2L42.8 78.9" stroke-width="1.44" stroke-opacity="0.76" stroke-dasharray="0.9 1.7"/>
<path d="M43.6 79.3L43.1 79.2L42.3 79.1L41.5 79L40.5 78.9L39.6 78.7L38.5 78.7L37.4 78.6L36.3 78.5L35.1 78.5L34 78.4L33 78.3L32 78.3L31 78.3L30.2 78.2L29.4 78" stroke-width="0.73" stroke-opacity="0.33"/>
<path d="M43.6 79.3L43.1 79.2L42.3 79.1L41.5 79L40.5 78.9L39.6 78.7L38.5 78.7L37.4 78.6L36.3 78.5L35.1 78.5L34 78.4L33 78.3L32 78.3L31 78.3L30.2 78.2L29.4 78" stroke-width="1.32" stroke-opacity="0.55" stroke-dasharray="0.9 1.7"/>
<path d="M29.4 78L28.9 77.7L28.4 77.3L28 76.8L27.7 76.2L27.6 75.4L27.6 74.5L27.7 73.3L28 72L28.2 70.7L28.5 69.5L28.9 68.4L29.3 67.2L29.7 66.1L30.1 65.1L30.4 64.4" stroke-width="0.69" stroke-opacity="0.27"/>
<path d="M29.4 78L28.9 77.7L28.4 77.3L28 76.8L27.7 76.2L27.6 75.4L27.6 74.5L27.7 73.3L28 72L28.2 70.7L28.5 69.5L28.9 68.4L29.3 67.2L29.7 66.1L30.1 65.1L30.4 64.4" stroke-width="1.25" stroke-opacity="0.45" stroke-dasharray="0.9 1.7"/>
<path d="M30.4 64.4L30.8 63.5L31.5 62.2L32.3 60.7L33.1 59.2L34 57.6L35.1 56L36.2 54.3L37.4 52.6L38.5 50.9" stroke-width="0.63" stroke-opacity="0.2"/>
<path d="M30.4 64.4L30.8 63.5L31.5 62.2L32.3 60.7L33.1 59.2L34 57.6L35.1 56L36.2 54.3L37.4 52.6L38.5 50.9" stroke-width="1.13" stroke-opacity="0.33" stroke-dasharray="0.9 1.7"/>
<path d="M38.5 50.9L39.6 49.3L40.4 47.9L41.2 46.6L41.9 45.3L42.5 44.1L43.2 42.9L44 41.7L44.7 40.6L45.4 39.6" stroke-width="0.61" stroke-opacity="0.18"/>
<path d="M38.5 50.9L39.6 49.3L40.4 47.9L41.2 46.6L41.9 45.3L42.5 44.1L43.2 42.9L44 41.7L44.7 40.6L45.4 39.6" stroke-width="1.1" stroke-opacity="0.3" stroke-dasharray="0.9 1.7"/>
<path d="M45.4 39.6L46.2 38.5L46.9 37.4L47.6 36.1L48.3 34.8L49.1 33.5L49.8 32.2L50.6 30.9L51.5 29.6" stroke-width="0.59" stroke-opacity="0.16"/>
<path d="M45.4 39.6L46.2 38.5L46.9 37.4L47.6 36.1L48.3 34.8L49.1 33.5L49.8 32.2L50.6 30.9L51.5 29.6" stroke-width="1.06" stroke-opacity="0.27" stroke-dasharray="0.9 1.7"/>
<path d="M51.5 29.6L52.4 28.2L53.4 26.9L54.3 25.6L55.2 24.5L56.1 23.4L56.9 22.3L57.7 21.3L58.4 20.5L58.9 19.9" stroke-width="0.57" stroke-opacity="0.14"/>
<path d="M51.5 29.6L52.4 28.2L53.4 26.9L54.3 25.6L55.2 24.5L56.1 23.4L56.9 22.3L57.7 21.3L58.4 20.5L58.9 19.9" stroke-width="1.03" stroke-opacity="0.24" stroke-dasharray="0.9 1.7"/>
<path d="M77.4 119.5L76.9 120.1L76.1 121L75.2 122L74.4 123.2L73.6 124.3L73 125.5L72.4 126.8L71.8 128.1L71.3 129.5L70.9 130.8L70.5 132.1L70.2 133.5L70 134.8L69.8 136.1" stroke-width="0.82" stroke-opacity="0.41"/>
<path d="M77.4 119.5L76.9 120.1L76.1 121L75.2 122L74.4 123.2L73.6 124.3L73 125.5L72.4 126.8L71.8 128.1L71.3 129.5L70.9 130.8L70.5 132.1L70.2 133.5L70 134.8L69.8 136.1" stroke-width="1.47" stroke-opacity="0.69" stroke-dasharray="0.9 1.7"/>
<path d="M69.8 136.1L69.8 137.3L70 138.5L70.4 139.7L70.8 140.8L71.4 141.8L72 142.7L72.7 143.5L73.5 144.1L74.4 144.7L75.4 145.1L76.3 145.4L77.4 145.6L78.5 145.8L79.6 145.8" stroke-width="0.8" stroke-opacity="0.4"/>
<path d="M69.8 136.1L69.8 137.3L70 138.5L70.4 139.7L70.8 140.8L71.4 141.8L72 142.7L72.7 143.5L73.5 144.1L74.4 144.7L75.4 145.1L76.3 145.4L77.4 145.6L78.5 145.8L79.6 145.8" stroke-width="1.43" stroke-opacity="0.66" stroke-dasharray="0.9 1.7"/>
<path d="M79.6 145.8L80.7 145.7L81.7 145.4L82.7 145L83.6 144.5L84.4 143.8L85.1 143L85.5 142.2L85.7 141.2L85.7 140.2L85.5 139.1L85.3 137.9L85 136.8L84.6 135.6" stroke-width="0.78" stroke-opacity="0.38"/>
<path d="M79.6 145.8L80.7 145.7L81.7 145.4L82.7 145L83.6 144.5L84.4 143.8L85.1 143L85.5 142.2L85.7 141.2L85.7 140.2L85.5 139.1L85.3 137.9L85 136.8L84.6 135.6" stroke-width="1.4" stroke-opacity="0.64" stroke-dasharray="0.9 1.7"/>
<path d="M84.6 135.6L84.2 134.3L83.7 133.1L83.2 131.9L82.8 130.8L82.5 129.8L82.1 128.9L81.8 128.1L81.5 127.3L81.2 126.5L80.9 125.6L80.7 124.8L80.4 123.9L80.3 123.2L80.1 122.7" stroke-width="0.76" stroke-opacity="0.37"/>
<path d="M84.6 135.6L84.2 134.3L83.7 133.1L83.2 131.9L82.8 130.8L82.5 129.8L82.1 128.9L81.8 128.1L81.5 127.3L81.2 126.5L80.9 125.6L80.7 124.8L80.4 123.9L80.3 123.2L80.1 122.7" stroke-width="1.37" stroke-opacity="0.61" stroke-dasharray="0.9 1.7"/>
<path d="M100.1 122.2L99.4 122.4L98.4 122.7L97.1 123.1L95.9 123.4L94.7 123.8L93.6 124.1L92.5 124.4L91.4 124.6L90.3 124.9L89.3 125.2L88.4 125.4L87.5 125.7L86.6 125.9L85.8 126.2L85 126.5L84.2 126.8L83.5 127.2L82.8 127.6L82.2 127.9L81.7 128.1" stroke-width="0.77" stroke-opacity="0.41"/>
<path d="M100.1 122.2L99.4 122.4L98.4 122.7L97.1 123.1L95.9 123.4L94.7 123.8L93.6 124.1L92.5 124.4L91.4 124.6L90.3 124.9L89.3 125.2L88.4 125.4L87.5 125.7L86.6 125.9L85.8 126.2L85 126.5L84.2 126.8L83.5 127.2L82.8 127.6L82.2 127.9L81.7 128.1" stroke-width="1.38" stroke-opacity="0.68" stroke-dasharray="0.9 1.7"/>
<path d="M117.4 112.4L118.3 112.2L119.5 111.8L120.9 111.4L122.5 111.1L123.9 110.8L125.4 110.6L126.9 110.5L128.4 110.5L130 110.4L131.5 110.3" stroke-width="0.86" stroke-opacity="0.37"/>
<path d="M131.5 110.3L133 110.1L134.4 109.9L135.9 109.7L137.4 109.5L139.1 109.2L141 108.8L143.3 108.3L145.5 107.8L147.5 107.3L148.8 107" stroke-width="0.79" stroke-opacity="0.29"/>
<path d="M104.5 112.4L104.2 111.6L103.9 110.5L103.5 109.3L103.2 108L102.8 107L102.5 106.2L102.2 105.5L101.9 104.9L101.6 104.4L101.4 104" stroke-width="0.9" stroke-opacity="0.57"/>
<path d="M114.2 112.4L114.8 111.8L115.8 111L116.8 110L117.8 109L118.5 108.1L119 107.2L119.3 106.2L119.5 105.2L119.7 104.4L119.8 103.8" stroke-width="0.9" stroke-opacity="0.49"/>
<path d="M117.4 116.7L118.2 116.4L119.2 116L120.4 115.5L121.7 115L122.9 114.6L124 114.3L125.1 114.2L126.3 114L127.3 113.8L128.3 113.5L129.1 113L129.9 112.3L130.5 111.6L131.1 110.9L131.5 110.5" stroke-width="0.9" stroke-opacity="0.49"/>
<path d="M116.4 122.2L117.1 122L118.1 121.8L119.3 121.6L120.5 121.3L121.8 121.1L123.1 120.9L124.5 120.7L125.9 120.6L127.2 120.3L128.3 120L129.1 119.4L129.7 118.7L130.3 117.9L130.7 117.2L131 116.7" stroke-width="0.85" stroke-opacity="0.41"/>
<path d="M113.1 125.4L113.6 126L114.3 126.8L115.1 127.8L115.9 128.8L116.4 129.7L116.6 130.7L116.6 131.7L116.5 132.6L116.4 133.5L116.4 134.1" stroke-width="0.85" stroke-opacity="0.39"/>
<path d="M106.6 126.5L106.4 127.2L106 128.3L105.7 129.6L105.3 130.8L105 131.9L104.9 132.8L104.8 133.7L104.7 134.5L104.7 135.3L104.5 136.2" stroke-width="0.85" stroke-opacity="0.49"/>
<path d="M104.5 136.2L104.2 137.3L103.8 138.4L103.4 139.6L102.9 140.7L102.3 141.6L101.5 142.4L100.5 143L99.5 143.6L98.6 144L98 144.3" stroke-width="0.85" stroke-opacity="0.33"/>
<path d="M100.1 121.1L99.7 121.5L99.1 122.1L98.3 122.8L97.6 123.6L96.9 124.3L96.2 125.2L95.4 126.2L94.7 127.2L94.1 128L93.6 128.7" stroke-width="0.8" stroke-opacity="0.37"/>
<path d="M121.8 122.2L122.4 122.5L123.2 123.1L124.2 123.7L125.2 124.2L126.1 124.3L127 124L127.8 123.3L128.7 122.4L129.4 121.6L129.9 121.1" stroke-width="0.8" stroke-opacity="0.33"/>
<path d="M109.9 111.3L110 110.6L110.2 109.5L110.4 108.2L110.6 107L111 105.9L111.4 105.1L111.8 104.3L112.4 103.6L112.8 103.1L113.1 102.7" stroke-width="0.8" stroke-opacity="0.37"/>
<circle cx="109.9" cy="118.9" r="11" fill="#00ff00" fill-opacity="0.45" stroke="none" filter="url(#g2)"/>
<path d="M100.1 115.1L101.2 114.8L102.7 114.2L103.9 113.5L104.6 112.3L105 110.9L105.5 110.3L106.3 111.2L107.2 112.9L108.2 114L109.6 113.8L111.1 112.9L112.6 112.4L114 112.7L115.3 113.3L116.4 114L117 115L117.3 116.1L117.4 117.3L117.3 118.6L117 119.9L116.4 121.1L115.4 122.1L114.3 123L113.1 123.8L112 124.6L111 125.4L109.9 125.9L108.7 126.4L107.6 126.6L106.6 126.5L105.9 125.8L105.2 124.7L104.5 123.8L103.4 123.2L102.3 122.8L101.2 122.2L100.3 121.2L99.5 120.1L99.1 118.9L99.2 117.6L99.7 116.1L100.1 115.1Z" fill="#00ff00" fill-opacity="1" stroke-width="1.6" stroke-opacity="1"/>
<circle cx="101.4" cy="103.8" r="0.8" fill="#00ff00" fill-opacity="0.8" stroke="none"/>
<circle cx="51.4" cy="141.6" r="1" fill="#00ff00" fill-opacity="0.8" stroke="none"/>
<circle cx="46.9" cy="37.4" r="0.9" fill="#00ff00" fill-opacity="0.6" stroke="none"/>
<circle cx="30.4" cy="64.4" r="1" fill="#00ff00" fill-opacity="0.45" stroke="none"/>
<circle cx="159.6" cy="89.7" r="1.2" fill="#00ff00" fill-opacity="0.4" stroke="none"/>
</g>
<g id="nr1" fill="none" stroke="#ff0000" stroke-linecap="round" stroke-linejoin="round" filter="url(#g1)">
<path d="M2.8 51.1L3.8 50.6L5.2 49.7L6.8 48.7L8.5 47.9L10.1 47.5L11.7 47.5L13.2 47.7L14.8 48.2L16.2 48.8L17.5 49.7L18.5 50.7L19.5 52L20.3 53.5L20.8 55.1L21.2 56.7L21.2 58.4L20.9 60.2L20.5 62.1L19.9 64L19.3 65.9L18.6 67.7L17.5 69.6L16.5 71.5L15.8 73.3L15.6 75.1L16.3 76.6L17.6 78.1L19.2 79.4L20.5 80.9L21.2 82.4L21 84.2L20.4 86.1L19.5 88L18.5 89.9L17.5 91.6L16.4 93.3L15.1 95.1L13.9 96.7L12.7 98L12 99" stroke-width="0.7" stroke-opacity="0.12"/>
<path d="M2.8 78.7L4.2 79.1L6.3 79.6L8.7 80.2L11.3 80.5L13.8 80.6L16.5 80.1L19.4 79.3L22.4 78.4L24.9 77.5L26.7 76.9" stroke-width="0.7" stroke-opacity="0.18"/>
<path d="M12 87.9L13.2 89L14.8 90.5L16.8 92.3L18.9 94L21.2 95.3L23.5 96.3L26.1 97L28.8 97.6L31.5 98.2L34 99L36.5 100.1L39.1 101.3L41.5 102.6L43.6 103.7L45.1 104.5" stroke-width="0.7" stroke-opacity="0.1"/>
<path d="M120.5 60.3L121.5 59.4L122.8 58.1L124.4 56.6L126.2 55.4L127.9 54.8L129.7 54.9L131.6 55.4L133.6 56.3L135.4 57.5L137.1 58.9L138.5 60.6L139.9 62.7L141.1 64.9L142 67.3L142.6 69.5L142.8 71.8L142.7 74.1L142.4 76.4L141.7 78.6L140.8 80.6L139.2 82.4L137.2 84.2L134.9 85.7L132.9 87L131.6 87.9" stroke-width="0.7" stroke-opacity="0.08"/>
<path d="M128.3 140.6L129.4 141.1L131.1 141.9L133 142.7L135 143.4L136.9 143.8L138.6 143.7L140.2 143.3L141.9 142.8L143.6 142.2L145.6 141.6L147.9 141.2L150.7 140.7L153.4 140.2L155.8 139.8L157.5 139.5" stroke-width="0.7" stroke-opacity="0.1"/>
<path d="M52.4 7L53.2 6.5L54.2 5.8L55.4 5L56.6 4.3L58 3.7L59.4 3.3L61.1 3L62.8 2.8L64.3 2.7L65.3 2.6" stroke-width="0.7" stroke-opacity="0.08"/>
<path d="M83.7 19.9L84.5 20.6L85.7 21.7L87 22.8L88.3 23.7L89.2 23.9L90 23.4L90.7 22.2L91.2 20.7L91.5 19.4L91.4 18.4L90.8 17.9L89.7 17.7L88.5 17.7L87.3 17.7L86.5 17.7" stroke-width="0.7" stroke-opacity="0.08"/>
<path d="M116.8 14.4L118.8 13.8L121.7 13L125 12.1L128.4 11.3L131.6 10.7L134.6 10.2L137.6 9.9L140.7 9.7L143.6 9.6L146.3 9.8L148.9 10.3L151.5 11.1L153.9 12L155.9 12.9L157.3 13.4" stroke-width="0.7" stroke-opacity="0.07"/>
<path d="M80.7 109.2L80.9 108.4L81.2 107.3L81.5 106L82.1 104.8L82.8 103.8L83.9 102.9L85.4 102.2L87 101.5L88.4 100.9L89.3 100.5" stroke-width="0.7" stroke-opacity="0.15"/>
<path d="M142.3 67L142.9 68.3L143.7 70.1L144.5 72.3L145.2 74.5L145.6 76.7L145.4 78.8L144.7 81L144 83.2L143.4 85.4L143.4 87.5L144 89.8L145.1 92.1L146.4 94.3L147.8 96.5L148.8 98.4L149.7 100L150.4 101.6L151.1 102.9L151.7 104L152.1 104.8" stroke-width="0.7" stroke-opacity="0.08"/>
<path d="M56.9 141.6L57.8 141.9L59.1 142.4L60.6 142.8L62.1 143.2L63.3 143.3L64.4 142.9L65.4 142.4L66.4 141.6L67.1 141L67.7 140.6" stroke-width="0.8" stroke-opacity="0.25"/>
<path d="M54.7 130.8L55.4 130.3L56.4 129.6L57.6 128.9L58.9 128.1L60.1 127.6L61.4 127.2L62.9 126.9L64.4 126.7L65.7 126.6L66.6 126.5" stroke-width="0.7" stroke-opacity="0.1"/>
<path d="M99.1 117.8L98.5 117.7L97.7 117.4L96.7 117.2L95.7 116.9L94.7 116.7L93.7 116.6L92.6 116.5L91.5 116.5L90.4 116.5L89.3 116.5L88.2 116.7L87.1 116.9L86 117.1L84.9 117.4L83.9 117.6" stroke-width="0.93" stroke-opacity="0.6"/>
<path d="M99.1 117.8L98.5 117.7L97.7 117.4L96.7 117.2L95.7 116.9L94.7 116.7L93.7 116.6L92.6 116.5L91.5 116.5L90.4 116.5L89.3 116.5L88.2 116.7L87.1 116.9L86 117.1L84.9 117.4L83.9 117.6" stroke-width="1.67" stroke-opacity="1" stroke-dasharray="0.9 1.7"/>
<path d="M83.9 117.6L83 117.9L82.2 118.2L81.5 118.4L80.8 118.7L80.1 118.9L79.5 119.1L78.9 119.3L78.4 119.5L77.9 119.6L77.4 119.5L76.9 119.1L76.4 118.7L76 118.1L75.6 117.4L75.2 116.7" stroke-width="0.91" stroke-opacity="0.59"/>
<path d="M83.9 117.6L83 117.9L82.2 118.2L81.5 118.4L80.8 118.7L80.1 118.9L79.5 119.1L78.9 119.3L78.4 119.5L77.9 119.6L77.4 119.5L76.9 119.1L76.4 118.7L76 118.1L75.6 117.4L75.2 116.7" stroke-width="1.63" stroke-opacity="0.99" stroke-dasharray="0.9 1.7"/>
<path d="M75.2 116.7L75 116L74.7 115.2L74.5 114.3L74.4 113.4L74.4 112.4L74.4 111.4L74.5 110.3L74.7 109.2L75 108.1L75.2 107L75.6 105.9L76 104.8L76.5 103.8L77 102.7L77.4 101.6" stroke-width="0.88" stroke-opacity="0.59"/>
<path d="M75.2 116.7L75 116L74.7 115.2L74.5 114.3L74.4 113.4L74.4 112.4L74.4 111.4L74.5 110.3L74.7 109.2L75 108.1L75.2 107L75.6 105.9L76 104.8L76.5 103.8L77 102.7L77.4 101.6" stroke-width="1.59" stroke-opacity="0.98" stroke-dasharray="0.9 1.7"/>
<path d="M77.4 101.6L77.8 100.5L78.3 99.4L78.6 98.2L78.9 97.2L79 96.2L79 95.3L78.7 94.5L78.4 93.8L77.9 93.1L77.4 92.4L76.8 91.8L76.1 91.2L75.2 90.7L74.4 90.2L73.6 89.7" stroke-width="0.86" stroke-opacity="0.58"/>
<path d="M77.4 101.6L77.8 100.5L78.3 99.4L78.6 98.2L78.9 97.2L79 96.2L79 95.3L78.7 94.5L78.4 93.8L77.9 93.1L77.4 92.4L76.8 91.8L76.1 91.2L75.2 90.7L74.4 90.2L73.6 89.7" stroke-width="1.55" stroke-opacity="0.97" stroke-dasharray="0.9 1.7"/>
<path d="M73.6 89.7L72.8 89.2L72 88.7L71.2 88.2L70.5 87.6L69.8 87L69.3 86.3L68.9 85.6L68.5 84.9L68.1 84.1L67.7 83.2L67.3 82.2L66.9 81.1L66.5 80L66.1 79L65.5 78.3" stroke-width="0.84" stroke-opacity="0.58"/>
<path d="M73.6 89.7L72.8 89.2L72 88.7L71.2 88.2L70.5 87.6L69.8 87L69.3 86.3L68.9 85.6L68.5 84.9L68.1 84.1L67.7 83.2L67.3 82.2L66.9 81.1L66.5 80L66.1 79L65.5 78.3" stroke-width="1.51" stroke-opacity="0.97" stroke-dasharray="0.9 1.7"/>
<path d="M65.5 78.3L64.8 78.1L63.9 78.1L63 78.3L62.1 78.6L61.2 78.7L60.3 78.6L59.4 78.5L58.5 78.4L57.7 78.4L56.9 78.3L56.1 78.4L55.3 78.4L54.6 78.5L53.8 78.7L53.1 78.9" stroke-width="0.82" stroke-opacity="0.58"/>
<path d="M65.5 78.3L64.8 78.1L63.9 78.1L63 78.3L62.1 78.6L61.2 78.7L60.3 78.6L59.4 78.5L58.5 78.4L57.7 78.4L56.9 78.3L56.1 78.4L55.3 78.4L54.6 78.5L53.8 78.7L53.1 78.9" stroke-width="1.48" stroke-opacity="0.96" stroke-dasharray="0.9 1.7"/>
<path d="M53.1 78.9L52.3 79.2L51.5 79.5L50.7 79.9L50 80.2L49.3 80.5L48.7 80.7L48.2 80.9L47.7 81.1L47.2 81.1L46.6 81L45.8 80.8L45 80.3L44.1 79.7L43.3 79.2L42.8 78.9" stroke-width="0.8" stroke-opacity="0.57"/>
<path d="M53.1 78.9L52.3 79.2L51.5 79.5L50.7 79.9L50 80.2L49.3 80.5L48.7 80.7L48.2 80.9L47.7 81.1L47.2 81.1L46.6 81L45.8 80.8L45 80.3L44.1 79.7L43.3 79.2L42.8 78.9" stroke-width="1.44" stroke-opacity="0.95" stroke-dasharray="0.9 1.7"/>
<path d="M43.6 79.3L43.1 79.2L42.3 79.1L41.5 79L40.5 78.9L39.6 78.7L38.5 78.7L37.4 78.6L36.3 78.5L35.1 78.5L34 78.4L33 78.3L32 78.3L31 78.3L30.2 78.2L29.4 78" stroke-width="0.73" stroke-opacity="0.55"/>
<path d="M43.6 79.3L43.1 79.2L42.3 79.1L41.5 79L40.5 78.9L39.6 78.7L38.5 78.7L37.4 78.6L36.3 78.5L35.1 78.5L34 78.4L33 78.3L32 78.3L31 78.3L30.2 78.2L29.4 78" stroke-width="1.32" stroke-opacity="0.91" stroke-dasharray="0.9 1.7"/>
<path d="M29.4 78L28.9 77.7L28.4 77.3L28 76.8L27.7 76.2L27.6 75.4L27.6 74.5L27.7 73.3L28 72L28.2 70.7L28.5 69.5L28.9 68.4L29.3 67.2L29.7 66.1L30.1 65.1L30.4 64.4" stroke-width="0.69" stroke-opacity="0.5"/>
<path d="M29.4 78L28.9 77.7L28.4 77.3L28 76.8L27.7 76.2L27.6 75.4L27.6 74.5L27.7 73.3L28 72L28.2 70.7L28.5 69.5L28.9 68.4L29.3 67.2L29.7 66.1L30.1 65.1L30.4 64.4" stroke-width="1.25" stroke-opacity="0.84" stroke-dasharray="0.9 1.7"/>
<path d="M30.4 64.4L30.8 63.5L31.5 62.2L32.3 60.7L33.1 59.2L34 57.6L35.1 56L36.2 54.3L37.4 52.6L38.5 50.9" stroke-width="0.63" stroke-opacity="0.34"/>
<path d="M30.4 64.4L30.8 63.5L31.5 62.2L32.3 60.7L33.1 59.2L34 57.6L35.1 56L36.2 54.3L37.4 52.6L38.5 50.9" stroke-width="1.13" stroke-opacity="0.57" stroke-dasharray="0.9 1.7"/>
<path d="M38.5 50.9L39.6 49.3L40.4 47.9L41.2 46.6L41.9 45.3L42.5 44.1L43.2 42.9L44 41.7L44.7 40.6L45.4 39.6" stroke-width="0.61" stroke-opacity="0.3"/>
<path d="M38.5 50.9L39.6 49.3L40.4 47.9L41.2 46.6L41.9 45.3L42.5 44.1L43.2 42.9L44 41.7L44.7 40.6L45.4 39.6" stroke-width="1.1" stroke-opacity="0.51" stroke-dasharray="0.9 1.7"/>
<path d="M45.4 39.6L46.2 38.5L46.9 37.4L47.6 36.1L48.3 34.8L49.1 33.5L49.8 32.2L50.6 30.9L51.5 29.6" stroke-width="0.59" stroke-opacity="0.27"/>
<path d="M45.4 39.6L46.2 38.5L46.9 37.4L47.6 36.1L48.3 34.8L49.1 33.5L49.8 32.2L50.6 30.9L51.5 29.6" stroke-width="1.06" stroke-opacity="0.44" stroke-dasharray="0.9 1.7"/>
<path d="M51.5 29.6L52.4 28.2L53.4 26.9L54.3 25.6L55.2 24.5L56.1 23.4L56.9 22.3L57.7 21.3L58.4 20.5L58.9 19.9" stroke-width="0.57" stroke-opacity="0.23"/>
<path d="M51.5 29.6L52.4 28.2L53.4 26.9L54.3 25.6L55.2 24.5L56.1 23.4L56.9 22.3L57.7 21.3L58.4 20.5L58.9 19.9" stroke-width="1.03" stroke-opacity="0.38" stroke-dasharray="0.9 1.7"/>
<path d="M77.4 119.5L76.9 120.1L76.1 121L75.2 122L74.4 123.2L73.6 124.3L73 125.5L72.4 126.8L71.8 128.1L71.3 129.5L70.9 130.8L70.5 132.1L70.2 133.5L70 134.8L69.8 136.1" stroke-width="0.82" stroke-opacity="0.35"/>
<path d="M77.4 119.5L76.9 120.1L76.1 121L75.2 122L74.4 123.2L73.6 124.3L73 125.5L72.4 126.8L71.8 128.1L71.3 129.5L70.9 130.8L70.5 132.1L70.2 133.5L70 134.8L69.8 136.1" stroke-width="1.47" stroke-opacity="0.59" stroke-dasharray="0.9 1.7"/>
<path d="M69.8 136.1L69.8 137.3L70 138.5L70.4 139.7L70.8 140.8L71.4 141.8L72 142.7L72.7 143.5L73.5 144.1L74.4 144.7L75.4 145.1L76.3 145.4L77.4 145.6L78.5 145.8L79.6 145.8" stroke-width="0.8" stroke-opacity="0.34"/>
<path d="M69.8 136.1L69.8 137.3L70 138.5L70.4 139.7L70.8 140.8L71.4 141.8L72 142.7L72.7 143.5L73.5 144.1L74.4 144.7L75.4 145.1L76.3 145.4L77.4 145.6L78.5 145.8L79.6 145.8" stroke-width="1.43" stroke-opacity="0.56" stroke-dasharray="0.9 1.7"/>
<path d="M79.6 145.8L80.7 145.7L81.7 145.4L82.7 145L83.6 144.5L84.4 143.8L85.1 143L85.5 142.2L85.7 141.2L85.7 140.2L85.5 139.1L85.3 137.9L85 136.8L84.6 135.6" stroke-width="0.78" stroke-opacity="0.32"/>
<path d="M79.6 145.8L80.7 145.7L81.7 145.4L82.7 145L83.6 144.5L84.4 143.8L85.1 143L85.5 142.2L85.7 141.2L85.7 140.2L85.5 139.1L85.3 137.9L85 136.8L84.6 135.6" stroke-width="1.4" stroke-opacity="0.54" stroke-dasharray="0.9 1.7"/>
<path d="M84.6 135.6L84.2 134.3L83.7 133.1L83.2 131.9L82.8 130.8L82.5 129.8L82.1 128.9L81.8 128.1L81.5 127.3L81.2 126.5L80.9 125.6L80.7 124.8L80.4 123.9L80.3 123.2L80.1 122.7" stroke-width="0.76" stroke-opacity="0.31"/>
<path d="M84.6 135.6L84.2 134.3L83.7 133.1L83.2 131.9L82.8 130.8L82.5 129.8L82.1 128.9L81.8 128.1L81.5 127.3L81.2 126.5L80.9 125.6L80.7 124.8L80.4 123.9L80.3 123.2L80.1 122.7" stroke-width="1.37" stroke-opacity="0.51" stroke-dasharray="0.9 1.7"/>
<path d="M100.1 122.2L99.4 122.4L98.4 122.7L97.1 123.1L95.9 123.4L94.7 123.8L93.6 124.1L92.5 124.4L91.4 124.6L90.3 124.9L89.3 125.2L88.4 125.4L87.5 125.7L86.6 125.9L85.8 126.2L85 126.5L84.2 126.8L83.5 127.2L82.8 127.6L82.2 127.9L81.7 128.1" stroke-width="0.77" stroke-opacity="0.42"/>
<path d="M100.1 122.2L99.4 122.4L98.4 122.7L97.1 123.1L95.9 123.4L94.7 123.8L93.6 124.1L92.5 124.4L91.4 124.6L90.3 124.9L89.3 125.2L88.4 125.4L87.5 125.7L86.6 125.9L85.8 126.2L85 126.5L84.2 126.8L83.5 127.2L82.8 127.6L82.2 127.9L81.7 128.1" stroke-width="1.38" stroke-opacity="0.7" stroke-dasharray="0.9 1.7"/>
<path d="M117.4 112.4L118.3 112.2L119.5 111.8L120.9 111.4L122.5 111.1L123.9 110.8L125.4 110.6L126.9 110.5L128.4 110.5L130 110.4L131.5 110.3" stroke-width="0.86" stroke-opacity="0.3"/>
<path d="M131.5 110.3L133 110.1L134.4 109.9L135.9 109.7L137.4 109.5L139.1 109.2L141 108.8L143.3 108.3L145.5 107.8L147.5 107.3L148.8 107" stroke-width="0.79" stroke-opacity="0.24"/>
<path d="M104.5 112.4L104.2 111.6L103.9 110.5L103.5 109.3L103.2 108L102.8 107L102.5 106.2L102.2 105.5L101.9 104.9L101.6 104.4L101.4 104" stroke-width="0.9" stroke-opacity="0.57"/>
<path d="M114.2 112.4L114.8 111.8L115.8 111L116.8 110L117.8 109L118.5 108.1L119 107.2L119.3 106.2L119.5 105.2L119.7 104.4L119.8 103.8" stroke-width="0.9" stroke-opacity="0.49"/>
<path d="M117.4 116.7L118.2 116.4L119.2 116L120.4 115.5L121.7 115L122.9 114.6L124 114.3L125.1 114.2L126.3 114L127.3 113.8L128.3 113.5L129.1 113L129.9 112.3L130.5 111.6L131.1 110.9L131.5 110.5" stroke-width="0.9" stroke-opacity="0.49"/>
<path d="M116.4 122.2L117.1 122L118.1 121.8L119.3 121.6L120.5 121.3L121.8 121.1L123.1 120.9L124.5 120.7L125.9 120.6L127.2 120.3L128.3 120L129.1 119.4L129.7 118.7L130.3 117.9L130.7 117.2L131 116.7" stroke-width="0.85" stroke-opacity="0.41"/>
<path d="M113.1 125.4L113.6 126L114.3 126.8L115.1 127.8L115.9 128.8L116.4 129.7L116.6 130.7L116.6 131.7L116.5 132.6L116.4 133.5L116.4 134.1" stroke-width="0.85" stroke-opacity="0.39"/>
<path d="M106.6 126.5L106.4 127.2L106 128.3L105.7 129.6L105.3 130.8L105 131.9L104.9 132.8L104.8 133.7L104.7 134.5L104.7 135.3L104.5 136.2" stroke-width="0.85" stroke-opacity="0.49"/>
<path d="M104.5 136.2L104.2 137.3L103.8 138.4L103.4 139.6L102.9 140.7L102.3 141.6L101.5 142.4L100.5 143L99.5 143.6L98.6 144L98 144.3" stroke-width="0.85" stroke-opacity="0.33"/>
<path d="M100.1 121.1L99.7 121.5L99.1 122.1L98.3 122.8L97.6 123.6L96.9 124.3L96.2 125.2L95.4 126.2L94.7 127.2L94.1 128L93.6 128.7" stroke-width="0.8" stroke-opacity="0.37"/>
<path d="M121.8 122.2L122.4 122.5L123.2 123.1L124.2 123.7L125.2 124.2L126.1 124.3L127 124L127.8 123.3L128.7 122.4L129.4 121.6L129.9 121.1" stroke-width="0.8" stroke-opacity="0.33"/>
<path d="M109.9 111.3L110 110.6L110.2 109.5L110.4 108.2L110.6 107L111 105.9L111.4 105.1L111.8 104.3L112.4 103.6L112.8 103.1L113.1 102.7" stroke-width="0.8" stroke-opacity="0.37"/>
<circle cx="109.9" cy="118.9" r="11" fill="#ff0000" fill-opacity="0.5" stroke="none" filter="url(#g2)"/>
<path d="M100.1 115.1L101.2 114.8L102.7 114.2L103.9 113.5L104.6 112.3L105 110.9L105.5 110.3L106.3 111.2L107.2 112.9L108.2 114L109.6 113.8L111.1 112.9L112.6 112.4L114 112.7L115.3 113.3L116.4 114L117 115L117.3 116.1L117.4 117.3L117.3 118.6L117 119.9L116.4 121.1L115.4 122.1L114.3 123L113.1 123.8L112 124.6L111 125.4L109.9 125.9L108.7 126.4L107.6 126.6L106.6 126.5L105.9 125.8L105.2 124.7L104.5 123.8L103.4 123.2L102.3 122.8L101.2 122.2L100.3 121.2L99.5 120.1L99.1 118.9L99.2 117.6L99.7 116.1L100.1 115.1Z" fill="#ff0000" fill-opacity="1" stroke-width="1.6" stroke-opacity="1"/>
<circle cx="101.4" cy="103.8" r="0.8" fill="#ff0000" fill-opacity="0.6" stroke="none"/>
<circle cx="51.4" cy="141.6" r="1" fill="#ff0000" fill-opacity="0.5" stroke="none"/>
<circle cx="46.9" cy="37.4" r="0.9" fill="#ff0000" fill-opacity="0.9" stroke="none"/>
<circle cx="30.4" cy="64.4" r="1" fill="#ff0000" fill-opacity="1" stroke="none"/>
</g>
<g id="ng2" fill="none" stroke="#00ff00" stroke-linecap="round" stroke-linejoin="round" filter="url(#g1)">
<path d="M4 14.4L5.4 15.5L7.3 17.2L9.5 19.2L11.6 21.3L13.2 23.6L14.5 25.9L15.5 28.3L16.3 31L16.8 33.7L16.9 36.4L16.5 39.3L15.6 42.2L14.5 45.2L13.6 48.2L13.2 51.1L13.5 54.2L14 57.3L14.8 60.4L15.8 63.3L16.9 65.9L18.3 68.2L20 70.4L21.7 72.3L23.2 73.9L24.3 75.1" stroke-width="0.7" stroke-opacity="0.08"/>
<path d="M53.7 29.1L55 28.2L56.7 26.8L58.8 25.4L60.9 24.2L62.9 23.6L64.9 23.8L67 24.5L69.1 25.6L70.9 26.6L72.1 27.2" stroke-width="0.7" stroke-opacity="0.08"/>
<path d="M35.3 91.6L35.9 93.1L36.9 95.2L37.9 97.6L38.7 100.2L39 102.7L38.8 105.2L38.3 107.9L37.5 110.6L36.5 113.2L35.3 115.5L33.8 117.5L31.8 119.2L29.7 120.8L27.7 122.6L26.1 124.7L25 127.6L24.1 130.9L23.4 134.4L22.9 137.4L22.4 139.5" stroke-width="0.7" stroke-opacity="0.1"/>
<path d="M90.5 106.3L92.6 105.7L95.5 104.8L98.9 103.8L102.3 103.1L105.2 103L107.7 103.7L110.1 104.7L112.3 106.2L114.4 108L116.3 110L118.2 112.5L120 115.4L121.7 118.5L122.9 121.7L123.6 124.7L123.6 127.9L122.8 131.3L121.7 134.6L120.6 137.5L120 139.5" stroke-width="0.7" stroke-opacity="0.08"/>
<path d="M136.5 42L137.2 43.7L138.2 46.1L139.2 48.9L140 51.9L140.2 54.8L139.5 57.7L138.1 60.7L136.5 63.7L135.2 66.7L134.7 69.5L135.1 72.2L136.1 74.8L137.5 77.4L138.9 79.9L140.2 82.4L141.3 85L142.4 87.7L143.5 90.3L144.6 92.9L145.7 95.3L146.9 97.8L148.2 100.4L149.4 102.8L150.5 104.9L151.2 106.3" stroke-width="0.7" stroke-opacity="0.08"/>
<path d="M7.7 106.3L8.9 107.5L10.5 109.3L12.4 111.2L14.6 112.8L16.9 113.7L19.6 113.6L22.6 112.7L25.8 111.6L28.9 110.7L31.6 110.4L34.3 111L36.9 112.1L39.2 113.5L41.2 114.7L42.7 115.5" stroke-width="0.7" stroke-opacity="0.08"/>
<path d="M57.4 51.1L58.6 52.2L60.2 53.8L62.2 55.6L64.4 57.3L66.6 58.5L69 59.3L71.8 59.9L74.6 60.3L77.2 60.4L79.5 60.3L81.4 59.9L83.2 59.1L84.7 58.1L85.9 57.3L86.8 56.7" stroke-width="0.7" stroke-opacity="0.08"/>
<path d="M40.8 69.5L42.6 70.2L45 71.1L47.8 72.1L50.8 72.9L53.7 73.2L56.6 73L59.5 72.3L62.5 71.4L65.5 70.4L68.4 69.5L71.5 68.9L74.7 68.3L77.8 67.7L80.7 67L83.2 65.9L85.2 64.2L87 62.1L88.5 60L89.6 58L90.5 56.7" stroke-width="0.7" stroke-opacity="0.07"/>
<path d="M53.7 87.9L54.1 89.5L54.7 91.7L55.4 94.3L56.3 96.8L57.4 99L59 100.8L61.1 102.6L63.3 104.1L65.3 105.4L66.6 106.3" stroke-width="0.7" stroke-opacity="0.07"/>
<path d="M121.8 65.9L122.8 65.7L124.3 65.4L126 65.1L127.7 64.7L129.2 64L130.4 63.2L131.7 62.3L132.9 61.2L133.9 59.9L134.7 58.5L135.3 56.8L135.6 54.7L135.9 52.5L136 50.6L136.2 49.3" stroke-width="0.8" stroke-opacity="0.07"/>
<path d="M108.9 32.8L110.4 33.1L112.5 33.6L115 34.1L117.6 34.8L120 35.5L122.3 36.3L124.6 37.1L127 38L129.1 39L131 40.1L132.5 41.5L133.9 43.2L135 44.9L135.9 46.4L136.5 47.5" stroke-width="0.7" stroke-opacity="0.08"/>
<path d="M46.4 124.7L46 125.5L45.4 126.6L44.7 127.8L43.8 129.1L42.7 130.3L41.2 131.4L39.4 132.5L37.4 133.6L35.4 134.7L33.5 135.8L31.5 136.9L29.5 138L27.4 139.1L25.7 140.2L24.3 141.3L23.4 142.6L22.9 143.9L22.7 145.2L22.6 146.4L22.4 147.2" stroke-width="0.8" stroke-opacity="0.08"/>
<path d="M46.4 128.4L47.8 129.7L49.8 131.6L52.2 133.8L54.8 135.9L57.4 137.6L60.1 139L62.9 140.1L65.8 141.1L68.9 142.1L72.1 143.1L75.6 144.2L79.2 145.2L83 146.2L86.8 147.3L90.5 148.7L94.5 150.4L98.8 152.5L102.9 154.7L106.4 156.6L108.9 157.9" stroke-width="0.7" stroke-opacity="0.08"/>
<path d="M118.1 137.6L119.3 138.2L121.1 139L123.1 139.9L125.2 140.7L127.3 141.3L129.4 141.6L131.5 141.8L133.7 141.9L136 141.7L138.4 141.3L141 140.5L144 139.2L146.9 137.9L149.5 136.6L151.2 135.8" stroke-width="0.7" stroke-opacity="0.12"/>
<path d="M52.8 35.6L53.2 34.9L53.7 33.8L54.4 32.6L55.2 31.4L56.1 30.2L57.1 29.1L58.3 28.1L59.6 27L61.1 25.9L62.6 24.8L64.3 23.5L66.3 22L68.3 20.5L70 19.2L71.2 18.3" stroke-width="0.7" stroke-opacity="0.1"/>
<path d="M75.5 43.2L75.8 42.6L76 41.7L76.4 40.6L77 39.6L77.7 38.8L78.8 38.2L80.1 37.6L81.5 37.1L83 36.7L84.2 36.7L85.3 37L86.3 37.7L87.2 38.6L88 39.4L88.5 39.9" stroke-width="0.7" stroke-opacity="0.1"/>
<path d="M92.6 37.2L92.6 37.9L92.5 38.9L92.4 40L92.2 41.1L92 42.1L91.7 42.9L91.4 43.7L91.1 44.5L90.7 45.2L90.1 45.9L89.5 46.5L88.8 47.1L88 47.7L87.2 48.2" stroke-width="1.32" stroke-opacity="0.72"/>
<path d="M87.2 48.2L86.4 48.6L85.5 48.9L84.7 49.1L83.9 49.3L83 49.4L82 49.5L81 49.5L79.9 49.4L78.8 49.3L77.7 49.2L76.6 49.1L75.6 49L74.5 48.9L73.5 48.8" stroke-width="1.27" stroke-opacity="0.69"/>
<path d="M73.5 48.8L72.4 48.7L71.2 48.6L70 48.5L68.7 48.5L67.4 48.5L66 48.5L64.7 48.6L63.4 48.7L62.1 48.7L60.8 48.8L59.5 49L58.2 49.1L56.9 49.3" stroke-width="1.21" stroke-opacity="0.66"/>
<path d="M56.9 49.3L55.6 49.5L54.3 49.7L53 49.9L51.7 50.2L50.4 50.6L49.1 50.9L47.8 51.4L46.5 51.9L45.2 52.4L44.1 52.9L43 53.5L41.9 54.2L40.8 54.8L39.8 55.6" stroke-width="1.15" stroke-opacity="0.63"/>
<path d="M39.8 55.6L38.9 56.5L37.9 57.4L37 58.4L36.2 59.5L35.5 60.5L34.9 61.5L34.3 62.6L33.8 63.7L33.4 64.8L33.1 65.9L32.9 67L32.8 68.1L32.7 69.1L32.7 70.2" stroke-width="1.1" stroke-opacity="0.6"/>
<path d="M32.7 70.2L32.8 71.3L33 72.4L33.2 73.5L33.6 74.6L34 75.7L34.4 76.7L35 77.7L35.6 78.6L36.2 79.5L36.9 80.3L37.7 81L38.5 81.7L39.3 82.3" stroke-width="1.04" stroke-opacity="0.57"/>
<path d="M39.3 82.3L40.1 82.9L41 83.3L42 83.7L43 84.1L44 84.3L45.1 84.5L46.2 84.7L47.4 84.8L48.6 85L49.9 85.1L51.3 85.1L52.6 85.2L53.9 85.4L55.2 85.6" stroke-width="0.98" stroke-opacity="0.54"/>
<path d="M55.2 85.6L56.5 85.8L57.8 86L59.1 86.2L60.4 86.5L61.7 86.7L63 86.9L64.3 87.1L65.6 87.3L66.9 87.5L68.3 87.7L69.8 87.9L71.2 88.1L72.5 88.3L73.4 88.4" stroke-width="0.93" stroke-opacity="0.51"/>
<path d="M73.4 88.4L73.8 88.5L74.5 88.7L75.2 89L76 89.3L76.6 89.7L77.1 90.2L77.6 90.8L78 91.5L78.4 92.2L78.8 92.9L79.1 93.7L79.4 94.6L79.7 95.5L79.9 96.4" stroke-width="0.84" stroke-opacity="0.27"/>
<path d="M79.9 96.4L79.9 97.3L79.7 98.2L79.4 99.1L79.1 100L78.6 100.9L78 101.7L77.4 102.6L76.6 103.5L75.8 104.4L74.9 105.2L74 106L73 106.7L71.9 107.3L70.8 108" stroke-width="0.81" stroke-opacity="0.24"/>
<path d="M70.8 108L69.6 108.5L68.4 109.1L67.2 109.6L65.9 110.1L64.6 110.6L63.3 111.1L62 111.5L60.7 111.9L59.4 112.3L58.1 112.6L56.9 113L55.6 113.3L54.2 113.7" stroke-width="0.79" stroke-opacity="0.21"/>
<path d="M54.2 113.7L52.8 114L51.4 114.4L50.2 114.7L49.1 115.2L48.4 115.7L47.8 116.2L47.4 116.8L47 117.4L46.7 118.3L46.5 119.5L46.4 121L46.4 122.5L46.4 123.8L46.4 124.7" stroke-width="0.76" stroke-opacity="0.18"/>
<path d="M98.8 32.4L99.1 32.9L99.6 33.8L100.1 34.7L100.5 35.7L100.6 36.7L100.4 37.6L100 38.4L99.4 39.3L98.8 40.1L98.5 41L98.3 41.9L98.2 42.7L98.2 43.6L98.2 44.5L98.3 45.3" stroke-width="1.27" stroke-opacity="0.71"/>
<path d="M98.3 45.3L98.4 46.2L98.5 47.1L98.7 48L99 48.9L99.3 49.7L99.8 50.4L100.4 51.1L101.1 51.7L101.8 52.4L102.6 52.9L103.5 53.4L104.4 54L105.4 54.4L106.3 54.8L106.9 55.1" stroke-width="1.02" stroke-opacity="0.56"/>
<path d="M106.9 55.1L107.5 55.4L108.3 55.9L109.3 56.5L110.3 57.1L111.2 57.8L112.1 58.5L113 59.2L113.9 60L114.8 60.8L115.6 61.6L116.3 62.4L117 63.3L117.6 64.1L118.2 65" stroke-width="0.84" stroke-opacity="0.31"/>
<path d="M118.2 65L118.8 65.9L119.4 66.8L120 67.6L120.6 68.5L121.1 69.4L121.5 70.2L121.8 71.1L122 72L122.1 72.8L122.2 73.7L122.1 74.6L121.8 75.4L121.5 76.4L121 77.3" stroke-width="0.82" stroke-opacity="0.28"/>
<path d="M121 77.3L120.5 78.1L119.9 78.9L119.2 79.5L118.4 80.2L117.5 80.7L116.5 81.2L115.6 81.6L114.6 81.9L113.5 82.2L112.4 82.3L111.3 82.5L110.2 82.7L109.1 82.8L108 82.9" stroke-width="0.8" stroke-opacity="0.25"/>
<path d="M108 82.9L106.9 83.1L105.8 83.1L104.8 83.2L103.7 83.2L102.6 83.2L101.5 83.2L100.4 83.2L99.3 83.2L98.3 83.3L97.2 83.4L96.1 83.5L95 83.6L93.9 83.7L92.9 83.9" stroke-width="0.78" stroke-opacity="0.22"/>
<path d="M92.9 83.9L91.8 84.1L90.7 84.4L89.6 84.6L88.5 84.8L87.4 85L86.3 85.2L85.2 85.4L84.1 85.6L83.1 85.9L82.1 86.3L81.1 86.8L80.2 87.3L79.4 87.8L78.8 88.1" stroke-width="0.76" stroke-opacity="0.2"/>
<path d="M112.3 83.2L113.1 83.5L114.1 83.8L115.3 84.2L116.6 84.8L117.7 85.4L118.8 86.1L119.9 87L121.1 88L122.1 88.9L123.1 89.7L124.1 90.4L125 91.1L125.9 91.6L126.7 92.1L127.5 92.4L128.2 92.5L129 92.4L129.7 92.2L130.3 92L130.7 91.9" stroke-width="0.8" stroke-opacity="0.27"/>
<path d="M84.2 30.7L83.8 30.5L83.1 30L82.4 29.6L81.7 29.2L80.9 29.1L80.3 29.3L79.7 29.7L79 30.3L78.4 30.8L77.7 31.3L77.1 31.6L76.4 32L75.8 32.3L75.1 32.6L74.5 32.9L73.8 33.1L73 33.3L72.3 33.4L71.7 33.6L71.2 33.7" stroke-width="0.95" stroke-opacity="0.57"/>
<path d="M80.9 28.6L80.6 27.9L80.1 27L79.6 25.9L79.1 24.8L78.8 23.7L78.6 22.6L78.4 21.5L78.4 20.4L78.4 19.3L78.6 18.3L78.9 17.3L79.3 16.4" stroke-width="0.85" stroke-opacity="0.43"/>
<path d="M79.3 16.4L79.8 15.6L80.4 14.7L80.9 14L81.5 13.3L82.1 12.6L82.7 12L83.2 11.4L83.7 10.7L83.9 9.9L84.1 8.9L84.1 7.9L84.2 7L84.2 6.4" stroke-width="0.75" stroke-opacity="0.31"/>
<path d="M96.1 27.5L96 26.9L95.8 26L95.7 24.9L95.4 24L95 23.2L94.5 22.6L93.9 22.1L93.2 21.7L92.5 21.3L91.8 21L91.1 20.7L90.3 20.4L89.6 20.2L89 20L88.5 19.9" stroke-width="0.8" stroke-opacity="0.45"/>
<path d="M99.3 27.5L99.9 26.9L100.7 26.1L101.7 25.2L102.7 24.4L103.7 23.7L104.7 23.2L105.8 22.8L106.9 22.4L108 22.2L109.1 22.1L110.2 22.1L111.3 22.2" stroke-width="0.87" stroke-opacity="0.47"/>
<path d="M111.3 22.2L112.5 22.4L113.5 22.7L114.5 23.2L115.3 23.7L116.1 24.5L116.9 25.3L117.4 26.1L117.7 26.9L117.8 27.8L117.8 28.7L117.5 29.6" stroke-width="0.8" stroke-opacity="0.35"/>
<path d="M117.5 29.6L117.1 30.5L116.7 31.3L116 32L115.3 32.7L114.4 33.4L113.4 34L112.3 34.5L111.1 35.1L109.6 35.6L108.1 36L106.8 36.4L105.8 36.7" stroke-width="0.73" stroke-opacity="0.23"/>
<path d="M99.3 30.2L99.7 29.9L100.2 29.5L100.8 29L101.5 28.6L102 28.2L102.6 28.1L103.3 28L103.9 28L104.4 28L104.8 28" stroke-width="0.9" stroke-opacity="0.66"/>
<circle cx="93.9" cy="32.4" r="5" fill="#00ff00" fill-opacity="0.4" stroke="none" filter="url(#g2)"/>
<path d="M85.3 30.2L86.5 29.8L88.3 29.2L90.1 28.7L91.8 28.3L93.5 28L95 27.9L96.3 28L97.4 28.2L98.3 28.7L98.9 29.6L99.3 30.9L99.3 32.1L98.9 33.4L98.2 34.6L97.4 35.6L96.6 36.2L95.8 36.5L95 36.9L94.4 37.4L93.9 38L93.4 38.2L92.9 38L92.4 37.4L92 36.7L91.7 35.8L91.4 34.8L90.9 33.9L89.9 33.3L88.8 32.9L87.7 32.4L86.7 31.6L85.9 30.8L85.3 30.2Z" fill="#00ff00" fill-opacity="1" stroke-width="0.7" stroke-opacity="1"/>
<circle cx="81.2" cy="29.1" r="0.9" fill="#00ff00" fill-opacity="0.9" stroke="none"/>
<circle cx="103.2" cy="31" r="0.9" fill="#00ff00" fill-opacity="0.9" stroke="none"/>
<circle cx="101.5" cy="50.7" r="0.9" fill="#00ff00" fill-opacity="0.7" stroke="none"/>
<circle cx="130.2" cy="91.9" r="1.1" fill="#00ff00" fill-opacity="0.5" stroke="none"/>
<circle cx="136.1" cy="47" r="0.8" fill="#00ff00" fill-opacity="0.35" stroke="none"/>
<circle cx="73.4" cy="88.2" r="0.8" fill="#00ff00" fill-opacity="0.45" stroke="none"/>
<circle cx="47.3" cy="117.8" r="1" fill="#00ff00" fill-opacity="0.5" stroke="none"/>
<circle cx="46.4" cy="127" r="0.7" fill="#00ff00" fill-opacity="0.15" stroke="none"/>
<circle cx="22.4" cy="147.6" r="0.8" fill="#00ff00" fill-opacity="0.45" stroke="none"/>
<circle cx="123.6" cy="143.1" r="1.5" fill="#00ff00" fill-opacity="0.16" stroke="none"/>
</g>
<g id="nr2" fill="none" stroke="#ff0000" stroke-linecap="round" stroke-linejoin="round" filter="url(#g1)">
<path d="M4 14.4L5.4 15.5L7.3 17.2L9.5 19.2L11.6 21.3L13.2 23.6L14.5 25.9L15.5 28.3L16.3 31L16.8 33.7L16.9 36.4L16.5 39.3L15.6 42.2L14.5 45.2L13.6 48.2L13.2 51.1L13.5 54.2L14 57.3L14.8 60.4L15.8 63.3L16.9 65.9L18.3 68.2L20 70.4L21.7 72.3L23.2 73.9L24.3 75.1" stroke-width="0.7" stroke-opacity="0.11"/>
<path d="M53.7 29.1L55 28.2L56.7 26.8L58.8 25.4L60.9 24.2L62.9 23.6L64.9 23.8L67 24.5L69.1 25.6L70.9 26.6L72.1 27.2" stroke-width="0.7" stroke-opacity="0.13"/>
<path d="M35.3 91.6L35.9 93.1L36.9 95.2L37.9 97.6L38.7 100.2L39 102.7L38.8 105.2L38.3 107.9L37.5 110.6L36.5 113.2L35.3 115.5L33.8 117.5L31.8 119.2L29.7 120.8L27.7 122.6L26.1 124.7L25 127.6L24.1 130.9L23.4 134.4L22.9 137.4L22.4 139.5" stroke-width="0.7" stroke-opacity="0.18"/>
<path d="M90.5 106.3L92.6 105.7L95.5 104.8L98.9 103.8L102.3 103.1L105.2 103L107.7 103.7L110.1 104.7L112.3 106.2L114.4 108L116.3 110L118.2 112.5L120 115.4L121.7 118.5L122.9 121.7L123.6 124.7L123.6 127.9L122.8 131.3L121.7 134.6L120.6 137.5L120 139.5" stroke-width="0.7" stroke-opacity="0.08"/>
<path d="M136.5 42L137.2 43.7L138.2 46.1L139.2 48.9L140 51.9L140.2 54.8L139.5 57.7L138.1 60.7L136.5 63.7L135.2 66.7L134.7 69.5L135.1 72.2L136.1 74.8L137.5 77.4L138.9 79.9L140.2 82.4L141.3 85L142.4 87.7L143.5 90.3L144.6 92.9L145.7 95.3L146.9 97.8L148.2 100.4L149.4 102.8L150.5 104.9L151.2 106.3" stroke-width="0.7" stroke-opacity="0.15"/>
<path d="M7.7 106.3L8.9 107.5L10.5 109.3L12.4 111.2L14.6 112.8L16.9 113.7L19.6 113.6L22.6 112.7L25.8 111.6L28.9 110.7L31.6 110.4L34.3 111L36.9 112.1L39.2 113.5L41.2 114.7L42.7 115.5" stroke-width="0.7" stroke-opacity="0.11"/>
<path d="M57.4 51.1L58.6 52.2L60.2 53.8L62.2 55.6L64.4 57.3L66.6 58.5L69 59.3L71.8 59.9L74.6 60.3L77.2 60.4L79.5 60.3L81.4 59.9L83.2 59.1L84.7 58.1L85.9 57.3L86.8 56.7" stroke-width="0.7" stroke-opacity="0.16"/>
<path d="M40.8 69.5L42.6 70.2L45 71.1L47.8 72.1L50.8 72.9L53.7 73.2L56.6 73L59.5 72.3L62.5 71.4L65.5 70.4L68.4 69.5L71.5 68.9L74.7 68.3L77.8 67.7L80.7 67L83.2 65.9L85.2 64.2L87 62.1L88.5 60L89.6 58L90.5 56.7" stroke-width="0.7" stroke-opacity="0.16"/>
<path d="M53.7 87.9L54.1 89.5L54.7 91.7L55.4 94.3L56.3 96.8L57.4 99L59 100.8L61.1 102.6L63.3 104.1L65.3 105.4L66.6 106.3" stroke-width="0.7" stroke-opacity="0.18"/>
<path d="M121.8 65.9L122.8 65.7L124.3 65.4L126 65.1L127.7 64.7L129.2 64L130.4 63.2L131.7 62.3L132.9 61.2L133.9 59.9L134.7 58.5L135.3 56.8L135.6 54.7L135.9 52.5L136 50.6L136.2 49.3" stroke-width="0.8" stroke-opacity="0.31"/>
<path d="M108.9 32.8L110.4 33.1L112.5 33.6L115 34.1L117.6 34.8L120 35.5L122.3 36.3L124.6 37.1L127 38L129.1 39L131 40.1L132.5 41.5L133.9 43.2L135 44.9L135.9 46.4L136.5 47.5" stroke-width="0.7" stroke-opacity="0.23"/>
<path d="M46.4 124.7L46 125.5L45.4 126.6L44.7 127.8L43.8 129.1L42.7 130.3L41.2 131.4L39.4 132.5L37.4 133.6L35.4 134.7L33.5 135.8L31.5 136.9L29.5 138L27.4 139.1L25.7 140.2L24.3 141.3L23.4 142.6L22.9 143.9L22.7 145.2L22.6 146.4L22.4 147.2" stroke-width="0.8" stroke-opacity="0.31"/>
<path d="M46.4 128.4L47.8 129.7L49.8 131.6L52.2 133.8L54.8 135.9L57.4 137.6L60.1 139L62.9 140.1L65.8 141.1L68.9 142.1L72.1 143.1L75.6 144.2L79.2 145.2L83 146.2L86.8 147.3L90.5 148.7L94.5 150.4L98.8 152.5L102.9 154.7L106.4 156.6L108.9 157.9" stroke-width="0.7" stroke-opacity="0.07"/>
<path d="M118.1 137.6L119.3 138.2L121.1 139L123.1 139.9L125.2 140.7L127.3 141.3L129.4 141.6L131.5 141.8L133.7 141.9L136 141.7L138.4 141.3L141 140.5L144 139.2L146.9 137.9L149.5 136.6L151.2 135.8" stroke-width="0.7" stroke-opacity="0.07"/>
<path d="M52.8 35.6L53.2 34.9L53.7 33.8L54.4 32.6L55.2 31.4L56.1 30.2L57.1 29.1L58.3 28.1L59.6 27L61.1 25.9L62.6 24.8L64.3 23.5L66.3 22L68.3 20.5L70 19.2L71.2 18.3" stroke-width="0.7" stroke-opacity="0.1"/>
<path d="M75.5 43.2L75.8 42.6L76 41.7L76.4 40.6L77 39.6L77.7 38.8L78.8 38.2L80.1 37.6L81.5 37.1L83 36.7L84.2 36.7L85.3 37L86.3 37.7L87.2 38.6L88 39.4L88.5 39.9" stroke-width="0.7" stroke-opacity="0.12"/>
<path d="M92.6 37.2L92.6 37.9L92.5 38.9L92.4 40L92.2 41.1L92 42.1L91.7 42.9L91.4 43.7L91.1 44.5L90.7 45.2L90.1 45.9L89.5 46.5L88.8 47.1L88 47.7L87.2 48.2" stroke-width="1.32" stroke-opacity="0.81"/>
<path d="M87.2 48.2L86.4 48.6L85.5 48.9L84.7 49.1L83.9 49.3L83 49.4L82 49.5L81 49.5L79.9 49.4L78.8 49.3L77.7 49.2L76.6 49.1L75.6 49L74.5 48.9L73.5 48.8" stroke-width="1.27" stroke-opacity="0.8"/>
<path d="M73.5 48.8L72.4 48.7L71.2 48.6L70 48.5L68.7 48.5L67.4 48.5L66 48.5L64.7 48.6L63.4 48.7L62.1 48.7L60.8 48.8L59.5 49L58.2 49.1L56.9 49.3" stroke-width="1.21" stroke-opacity="0.79"/>
<path d="M56.9 49.3L55.6 49.5L54.3 49.7L53 49.9L51.7 50.2L50.4 50.6L49.1 50.9L47.8 51.4L46.5 51.9L45.2 52.4L44.1 52.9L43 53.5L41.9 54.2L40.8 54.8L39.8 55.6" stroke-width="1.15" stroke-opacity="0.78"/>
<path d="M39.8 55.6L38.9 56.5L37.9 57.4L37 58.4L36.2 59.5L35.5 60.5L34.9 61.5L34.3 62.6L33.8 63.7L33.4 64.8L33.1 65.9L32.9 67L32.8 68.1L32.7 69.1L32.7 70.2" stroke-width="1.1" stroke-opacity="0.77"/>
<path d="M32.7 70.2L32.8 71.3L33 72.4L33.2 73.5L33.6 74.6L34 75.7L34.4 76.7L35 77.7L35.6 78.6L36.2 79.5L36.9 80.3L37.7 81L38.5 81.7L39.3 82.3" stroke-width="1.04" stroke-opacity="0.76"/>
<path d="M39.3 82.3L40.1 82.9L41 83.3L42 83.7L43 84.1L44 84.3L45.1 84.5L46.2 84.7L47.4 84.8L48.6 85L49.9 85.1L51.3 85.1L52.6 85.2L53.9 85.4L55.2 85.6" stroke-width="0.98" stroke-opacity="0.75"/>
<path d="M55.2 85.6L56.5 85.8L57.8 86L59.1 86.2L60.4 86.5L61.7 86.7L63 86.9L64.3 87.1L65.6 87.3L66.9 87.5L68.3 87.7L69.8 87.9L71.2 88.1L72.5 88.3L73.4 88.4" stroke-width="0.93" stroke-opacity="0.74"/>
<path d="M73.4 88.4L73.8 88.5L74.5 88.7L75.2 89L76 89.3L76.6 89.7L77.1 90.2L77.6 90.8L78 91.5L78.4 92.2L78.8 92.9L79.1 93.7L79.4 94.6L79.7 95.5L79.9 96.4" stroke-width="0.84" stroke-opacity="0.56"/>
<path d="M79.9 96.4L79.9 97.3L79.7 98.2L79.4 99.1L79.1 100L78.6 100.9L78 101.7L77.4 102.6L76.6 103.5L75.8 104.4L74.9 105.2L74 106L73 106.7L71.9 107.3L70.8 108" stroke-width="0.81" stroke-opacity="0.53"/>
<path d="M70.8 108L69.6 108.5L68.4 109.1L67.2 109.6L65.9 110.1L64.6 110.6L63.3 111.1L62 111.5L60.7 111.9L59.4 112.3L58.1 112.6L56.9 113L55.6 113.3L54.2 113.7" stroke-width="0.79" stroke-opacity="0.5"/>
<path d="M54.2 113.7L52.8 114L51.4 114.4L50.2 114.7L49.1 115.2L48.4 115.7L47.8 116.2L47.4 116.8L47 117.4L46.7 118.3L46.5 119.5L46.4 121L46.4 122.5L46.4 123.8L46.4 124.7" stroke-width="0.76" stroke-opacity="0.47"/>
<path d="M98.8 32.4L99.1 32.9L99.6 33.8L100.1 34.7L100.5 35.7L100.6 36.7L100.4 37.6L100 38.4L99.4 39.3L98.8 40.1L98.5 41L98.3 41.9L98.2 42.7L98.2 43.6L98.2 44.5L98.3 45.3" stroke-width="1.27" stroke-opacity="0.77"/>
<path d="M98.3 45.3L98.4 46.2L98.5 47.1L98.7 48L99 48.9L99.3 49.7L99.8 50.4L100.4 51.1L101.1 51.7L101.8 52.4L102.6 52.9L103.5 53.4L104.4 54L105.4 54.4L106.3 54.8L106.9 55.1" stroke-width="1.02" stroke-opacity="0.67"/>
<path d="M106.9 55.1L107.5 55.4L108.3 55.9L109.3 56.5L110.3 57.1L111.2 57.8L112.1 58.5L113 59.2L113.9 60L114.8 60.8L115.6 61.6L116.3 62.4L117 63.3L117.6 64.1L118.2 65" stroke-width="0.84" stroke-opacity="0.48"/>
<path d="M118.2 65L118.8 65.9L119.4 66.8L120 67.6L120.6 68.5L121.1 69.4L121.5 70.2L121.8 71.1L122 72L122.1 72.8L122.2 73.7L122.1 74.6L121.8 75.4L121.5 76.4L121 77.3" stroke-width="0.82" stroke-opacity="0.47"/>
<path d="M121 77.3L120.5 78.1L119.9 78.9L119.2 79.5L118.4 80.2L117.5 80.7L116.5 81.2L115.6 81.6L114.6 81.9L113.5 82.2L112.4 82.3L111.3 82.5L110.2 82.7L109.1 82.8L108 82.9" stroke-width="0.8" stroke-opacity="0.45"/>
<path d="M108 82.9L106.9 83.1L105.8 83.1L104.8 83.2L103.7 83.2L102.6 83.2L101.5 83.2L100.4 83.2L99.3 83.2L98.3 83.3L97.2 83.4L96.1 83.5L95 83.6L93.9 83.7L92.9 83.9" stroke-width="0.78" stroke-opacity="0.43"/>
<path d="M92.9 83.9L91.8 84.1L90.7 84.4L89.6 84.6L88.5 84.8L87.4 85L86.3 85.2L85.2 85.4L84.1 85.6L83.1 85.9L82.1 86.3L81.1 86.8L80.2 87.3L79.4 87.8L78.8 88.1" stroke-width="0.76" stroke-opacity="0.42"/>
<path d="M112.3 83.2L113.1 83.5L114.1 83.8L115.3 84.2L116.6 84.8L117.7 85.4L118.8 86.1L119.9 87L121.1 88L122.1 88.9L123.1 89.7" stroke-width="0.8" stroke-opacity="0.53"/>
<path d="M123.1 89.7L124.1 90.4L125 91.1L125.9 91.6L126.7 92.1L127.5 92.4L128.2 92.5L129 92.4L129.7 92.2L130.3 92L130.7 91.9" stroke-width="0.8" stroke-opacity="0.61"/>
<path d="M84.2 30.7L83.8 30.5L83.1 30L82.4 29.6L81.7 29.2L80.9 29.1L80.3 29.3L79.7 29.7L79 30.3L78.4 30.8L77.7 31.3L77.1 31.6L76.4 32L75.8 32.3L75.1 32.6L74.5 32.9L73.8 33.1L73 33.3L72.3 33.4L71.7 33.6L71.2 33.7" stroke-width="0.95" stroke-opacity="0.57"/>
<path d="M80.9 28.6L80.6 27.9L80.1 27L79.6 25.9L79.1 24.8L78.8 23.7L78.6 22.6L78.4 21.5L78.4 20.4L78.4 19.3L78.6 18.3L78.9 17.3L79.3 16.4" stroke-width="0.85" stroke-opacity="0.43"/>
<path d="M79.3 16.4L79.8 15.6L80.4 14.7L80.9 14L81.5 13.3L82.1 12.6L82.7 12L83.2 11.4L83.7 10.7L83.9 9.9L84.1 8.9L84.1 7.9L84.2 7L84.2 6.4" stroke-width="0.75" stroke-opacity="0.31"/>
<path d="M96.1 27.5L96 26.9L95.8 26L95.7 24.9L95.4 24L95 23.2L94.5 22.6L93.9 22.1L93.2 21.7L92.5 21.3L91.8 21L91.1 20.7L90.3 20.4L89.6 20.2L89 20L88.5 19.9" stroke-width="0.8" stroke-opacity="0.45"/>
<path d="M99.3 27.5L99.9 26.9L100.7 26.1L101.7 25.2L102.7 24.4L103.7 23.7L104.7 23.2L105.8 22.8L106.9 22.4L108 22.2L109.1 22.1L110.2 22.1L111.3 22.2" stroke-width="0.87" stroke-opacity="0.52"/>
<path d="M111.3 22.2L112.5 22.4L113.5 22.7L114.5 23.2L115.3 23.7L116.1 24.5L116.9 25.3L117.4 26.1L117.7 26.9L117.8 27.8L117.8 28.7L117.5 29.6" stroke-width="0.8" stroke-opacity="0.41"/>
<path d="M117.5 29.6L117.1 30.5L116.7 31.3L116 32L115.3 32.7L114.4 33.4L113.4 34L112.3 34.5L111.1 35.1L109.6 35.6L108.1 36L106.8 36.4L105.8 36.7" stroke-width="0.73" stroke-opacity="0.3"/>
<path d="M99.3 30.2L99.7 29.9L100.2 29.5L100.8 29L101.5 28.6L102 28.2L102.6 28.1L103.3 28L103.9 28L104.4 28L104.8 28" stroke-width="0.9" stroke-opacity="0.66"/>
<circle cx="93.9" cy="32.4" r="5" fill="#ff0000" fill-opacity="0.45" stroke="none" filter="url(#g2)"/>
<path d="M85.3 30.2L86.5 29.8L88.3 29.2L90.1 28.7L91.8 28.3L93.5 28L95 27.9L96.3 28L97.4 28.2L98.3 28.7L98.9 29.6L99.3 30.9L99.3 32.1L98.9 33.4L98.2 34.6L97.4 35.6L96.6 36.2L95.8 36.5L95 36.9L94.4 37.4L93.9 38L93.4 38.2L92.9 38L92.4 37.4L92 36.7L91.7 35.8L91.4 34.8L90.9 33.9L89.9 33.3L88.8 32.9L87.7 32.4L86.7 31.6L85.9 30.8L85.3 30.2Z" fill="#ff0000" fill-opacity="1" stroke-width="0.7" stroke-opacity="1"/>
<circle cx="81.2" cy="29.1" r="0.9" fill="#ff0000" fill-opacity="0.9" stroke="none"/>
<circle cx="103.2" cy="31" r="0.9" fill="#ff0000" fill-opacity="0.9" stroke="none"/>
<circle cx="101.5" cy="50.7" r="0.9" fill="#ff0000" fill-opacity="0.8" stroke="none"/>
<circle cx="130.2" cy="91.9" r="1.1" fill="#ff0000" fill-opacity="1" stroke="none"/>
<circle cx="136.1" cy="47" r="0.8" fill="#ff0000" fill-opacity="1" stroke="none"/>
<circle cx="73.4" cy="88.2" r="0.8" fill="#ff0000" fill-opacity="1" stroke="none"/>
<circle cx="47.3" cy="117.8" r="1" fill="#ff0000" fill-opacity="1" stroke="none"/>
<circle cx="46.4" cy="127" r="0.7" fill="#ff0000" fill-opacity="0.9" stroke="none"/>
<circle cx="22.4" cy="147.6" r="0.8" fill="#ff0000" fill-opacity="1" stroke="none"/>
</g>
<g id="ng3" fill="none" stroke="#00ff00" stroke-linecap="round" stroke-linejoin="round" filter="url(#g1)">
<path d="M98.8 54.9L98.6 54L98.2 52.8L97.8 51.4L97.5 49.9L97.5 48.4L97.7 46.8L98.1 45L98.6 43.2L99.3 41.7L100.1 40.6L101.1 39.9L102.4 39.6L103.7 39.5L105.1 39.6L106.6 39.9L108.1 40.4L109.8 41.2L111.5 42.1L113.1 43.2L114.4 44.5L115.4 46L116.4 47.8L117.1 49.6L117.6 51.4L117.6 52.9L117.1 54.1L116.2 55.2L114.9 56.2L113.8 56.9L113.1 57.5" stroke-width="0.7" stroke-opacity="0.1"/>
<path d="M127.4 96.4L127.1 97.4L126.6 98.9L126.2 100.5L125.9 102.4L126.1 104.2L126.7 106.2L127.6 108.3L128.8 110.5L130 112.6L131.3 114.6L132.6 116.5L134.1 118.3L135.6 120L136.9 121.4L137.8 122.4" stroke-width="0.7" stroke-opacity="0.08"/>
<path d="M10.5 45.8L10.8 45.2L11.2 44.3L11.7 43.4L12.4 42.5L13.1 41.9L14 41.5L15 41.2L16.2 41L17.3 41.1L18.3 41.2L19.2 41.6L20.1 42.1L20.9 42.8L21.6 43.6L22.2 44.5L22.4 45.4L22.5 46.5L22.4 47.6L22.5 48.7L22.8 49.7L23.5 50.5L24.3 51.3L25.3 52L26.4 52.6L27.4 52.9L28.4 53L29.5 52.9L30.5 52.6L31.6 52.2L32.6 51.6L33.5 50.9L34.3 50.1L35.2 49.2L35.9 48.2L36.5 47.1L36.9 45.8L37.2 44.3L37.5 42.8L37.6 41.5L37.8 40.6" stroke-width="0.7" stroke-opacity="0.16"/>
<path d="M22.2 50.3L21.9 51.1L21.4 52.3L21 53.7L20.7 55L20.9 56.2L21.6 57.1L22.7 58L24.1 58.9L25.3 59.6L26.1 60.1" stroke-width="0.7" stroke-opacity="0.13"/>
<path d="M28 7L28.5 8.4L29.2 10.4L30 12.8L30.9 15.4L31.6 18L32.4 20.8L33.2 23.9L34 27.1L34.7 30.1L35.3 32.8L35.8 35.1L36.3 37.3L36.7 39.2L36.9 40.8L37.2 42" stroke-width="0.7" stroke-opacity="0.08"/>
<path d="M127.3 7L127.8 9.1L128.4 12L129.2 15.4L130.1 18.8L131 21.7L132.1 24.3L133.3 26.9L134.6 29.3L135.7 31.3L136.5 32.8" stroke-width="0.7" stroke-opacity="0.06"/>
<path d="M22.8 92.5L23.8 92.6L25.1 92.6L26.7 92.7L28.4 92.7L30 92.5L31.5 92.2L33 91.8L34.6 91.2L36.2 90.6L37.8 89.9L39.3 89.1L40.9 88.2L42.5 87.2L44.1 86.3L45.6 85.4L47 84.5L48.3 83.7L49.6 83L50.8 82.2L52 81.5L53.2 80.7L54.5 80L55.6 79.3L56.6 78.7L57.2 78.2" stroke-width="0.75" stroke-opacity="0.2"/>
<path d="M57.2 73L57.1 72.2L56.9 70.9L56.7 69.5L56.6 68L56.6 66.5L56.8 65.3L57.2 64L57.6 62.7L58.1 61.4L58.5 60.1L59 58.8L59.5 57.5" stroke-width="0.8" stroke-opacity="0.32"/>
<path d="M59.5 57.5L60 56.2L60.6 54.9L61.1 53.6L61.8 52.3L62.4 51L63.1 49.7L63.8 48.4L64.4 47.1L65 45.8L65.5 44.5L66 43.2L66.5 41.9L67 40.6" stroke-width="0.8" stroke-opacity="0.3"/>
<path d="M67 40.6L67.4 39.2L67.8 37.9L68.2 36.5L68.6 35.3L68.9 34.1L69.2 33L69.4 32.1L69.6 31.2L69.8 30.3L70.2 29.5L70.8 28.8L71.6 28.2L72.4 27.7" stroke-width="0.8" stroke-opacity="0.28"/>
<path d="M72.4 27.7L73.3 27L74.1 26.3L74.9 25.4L75.7 24.3L76.6 23.2L77.3 22.1L78 21.1L78.7 20.2L79.3 19.3L79.8 18.4L80.3 17.7L80.6 17.2" stroke-width="0.8" stroke-opacity="0.26"/>
<path d="M68.9 30.2L68.4 29.9L67.6 29.5L66.8 29.1L65.9 28.7L65 28.2L64.3 27.8L63.5 27.4L62.8 27L62 26.6L61.1 26.3L60.1 26L58.9 25.7L57.7 25.4L56.7 25.2L55.9 25" stroke-width="0.75" stroke-opacity="0.23"/>
<path d="M65 36.7L64.6 36.3L63.9 35.6L63.1 35L62.4 34.4L61.8 34.1L61.3 34.1L60.8 34.4L60.4 34.8L60.1 35.1L59.8 35.4" stroke-width="0.7" stroke-opacity="0.2"/>
<path d="M130.6 75L129.6 74.5L128.2 73.9L126.5 73.2L124.9 72.4L123.5 71.7L122.4 71.2L121.4 70.8L120.4 70.3" stroke-width="0.75" stroke-opacity="0.26"/>
<path d="M120.4 70.3L119.5 69.8L118.3 69.1L116.9 68.3L115.3 67.2L113.7 66.1L112.1 64.9L110.5 64L108.9 63.1L107.2 62.4" stroke-width="0.75" stroke-opacity="0.19"/>
<path d="M107.2 62.4L105.5 61.6L104 60.9L102.7 60.1L101.6 59L100.7 57.8L99.9 56.6L99.3 55.6L98.8 54.9" stroke-width="0.75" stroke-opacity="0.13"/>
<path d="M131.3 76.7L130.4 76.6L129.1 76.6L127.6 76.5L126.1 76.4L124.8 76.3L123.6 76.2L122.6 76.1L121.6 76L120.6 76L119.6 75.9L118.5 75.8L117.5 75.8L116.5 75.7L115.4 75.7L114.4 75.6L113.3 75.6" stroke-width="1.14" stroke-opacity="0.57"/>
<path d="M113.3 75.6L112.2 75.5L111.2 75.5L110.1 75.5L109.2 75.6L108.3 75.9L107.5 76.2L106.8 76.6L106 77.1L105.3 77.6L104.5 78.1L103.7 78.7L103 79.4L102.2 80.1L101.4 80.8L100.6 81.7L99.8 82.6" stroke-width="1.11" stroke-opacity="0.55"/>
<path d="M99.8 82.6L99.1 83.5L98.3 84.5L97.5 85.4L96.7 86.3L96 87.2L95.2 88.2L94.4 89.1L93.6 89.9L92.7 90.8L91.8 91.7L90.9 92.5L90 93.2L89.1 93.8L88.1 94.2L87.2 94.5L86.3 94.7L85.4 94.8" stroke-width="1.09" stroke-opacity="0.54"/>
<path d="M85.4 94.8L84.5 94.9L83.7 94.8L82.8 94.7L82 94.5L81.3 94.2L80.6 93.8L80.1 93.3L79.6 92.7L79.3 92.1L78.9 91.3L78.7 90.6L78.5 89.7L78.4 88.8L78.3 87.9L78.2 86.9L78 86" stroke-width="1.06" stroke-opacity="0.52"/>
<path d="M78 86L77.7 85.2L77.4 84.4L77 83.7L76.6 82.9L76.1 82.1L75.5 81.3L74.9 80.5L74.2 79.7L73.5 78.9L72.8 78.2L72.1 77.6L71.4 77.1L70.6 76.6L69.8 76.2L68.9 75.9L68 75.7" stroke-width="1.04" stroke-opacity="0.5"/>
<path d="M68 75.7L66.9 75.7L65.9 75.7L64.8 75.7L63.7 75.6L62.7 75.6L61.6 75.5L60.5 75.4L59.5 75.2L58.5 75L57.7 74.7L56.8 74.3L56 73.9L55.3 73.5L54.6 73L54.1 72.5L53.6 72L53.1 71.4" stroke-width="1.01" stroke-opacity="0.49"/>
<path d="M53.1 71.4L52.6 70.9L52 70.4L51.3 70.1L50.6 69.8L49.8 69.5L48.9 69.3L48.1 69.1L47.4 69.1L46.7 69.1L45.9 69.2L45.1 69.3L44.3 69.4L43.3 69.5L42.2 69.7L41.1 69.8L40 70" stroke-width="0.99" stroke-opacity="0.47"/>
<path d="M40 70L39.1 70.2L38.2 70.3L37.4 70.5L36.7 70.6L35.9 70.8L35.2 71.1L34.4 71.5L33.6 71.9L32.8 72.5L32 73.1L31.3 73.7L30.4 74.5L29.5 75.3L28.6 76.2L27.9 77L27.4 77.6" stroke-width="0.96" stroke-opacity="0.46"/>
<path d="M27.4 77.6L26.8 78L26 78.6L25.1 79.3L24.2 80.1L23.5 80.8L22.9 81.6L22.3 82.3L21.8 83.1L21.3 83.9L20.9 84.7L20.5 85.6L20.1 86.5L19.8 87.3L19.5 88.1L19.3 88.6" stroke-width="0.9" stroke-opacity="0.51"/>
<path d="M15.7 88.6L15.2 89.2L14.4 89.9L13.5 90.8L12.6 91.7L11.8 92.5L10.9 93.3L10 94L9.2 94.7L8.4 95.3L7.9 95.8" stroke-width="0.75" stroke-opacity="0.33"/>
<path d="M17 86.7L16.6 85.9L16 84.7L15.4 83.3L14.8 82L14.4 80.8L14.1 79.9L14 78.9L13.9 78.1L13.8 77.4L13.7 76.9" stroke-width="0.75" stroke-opacity="0.29"/>
<path d="M20.2 86.7L20.5 86L20.8 85.1L21.2 84.1L21.6 83L22.2 82.1L22.9 81.3L23.8 80.6L24.7 79.9L25.5 79.3L26.1 78.9" stroke-width="0.75" stroke-opacity="0.41"/>
<path d="M139.1 71.7L138.9 70.8L138.6 69.5L138.3 68L138 66.5L137.8 65.3L137.6 64.1L137.4 63.1L137.3 62.1L137.2 61.3L137.1 60.7" stroke-width="0.8" stroke-opacity="0.37"/>
<path d="M140.4 71.7L140.9 71L141.6 69.9L142.4 68.7L143.3 67.5L144.3 66.5L145.3 65.8L146.5 65.2L147.7 64.7L148.7 64.3L149.4 64" stroke-width="0.8" stroke-opacity="0.37"/>
<path d="M143 74.3L143.8 73.6L145 72.4L146.4 71.1L147.9 69.9L149.4 69.1L151.2 68.8L153.3 68.8L155.4 68.9L157.3 69.1L158.5 69.1" stroke-width="0.75" stroke-opacity="0.25"/>
<path d="M143.6 79.5L144.6 80.1L145.9 80.8L147.5 81.7L149.2 82.6L150.7 83.4L152.4 84.2L154.2 84.9L156 85.6L157.5 86.2L158.5 86.7" stroke-width="0.75" stroke-opacity="0.25"/>
<path d="M139.1 86L139 86.6L138.9 87.4L138.7 88.4L138.6 89.3L138.4 89.9L138.2 90.4L137.9 90.7L137.6 90.9L137.3 91.1L137.1 91.2" stroke-width="1" stroke-opacity="0.7"/>
<circle cx="19.1" cy="89.9" r="4.2" fill="#00ff00" fill-opacity="0.5" stroke="none" filter="url(#g2)"/>
<path d="M16.7 88.4L17.4 87.8L18.4 87.1L19.3 86.7L20.2 86.9L21 87.4L21.7 88.1L22.1 89L22.4 90L22.4 91L22.1 91.9L21.6 92.7L20.9 93.3L20.1 93.5L19.1 93.4L18.3 93L17.5 92.5L16.9 91.8L16.5 91L16.4 90L16.6 89.1L16.7 88.4Z" fill="#00ff00" fill-opacity="1" stroke-width="0.5" stroke-opacity="1"/>
<circle cx="137.8" cy="78.9" r="6.5" fill="#00ff00" fill-opacity="0.55" stroke="none" filter="url(#g2)"/>
<path d="M132.3 76.4L133.2 75.9L134.6 75.3L135.8 74.6L136.9 73.9L137.9 73.3L138.8 73L139.7 73.3L140.5 73.8L141.1 74.6L141.6 75.6L142 76.9L142.2 78.2L142.2 79.6L142 81.1L141.7 82.4L140.9 83.7L139.9 84.8L139.1 85.4L138.4 85L137.9 84.1L137.2 83.2L136.5 82.3L135.7 81.4L134.9 80.6L134.2 79.8L133.6 79.2L133.1 78.5L132.7 77.7L132.5 77L132.3 76.4Z" fill="#00ff00" fill-opacity="1" stroke-width="0.6" stroke-opacity="1"/>
<path d="M133.9 83.4L133.7 83.9L133.4 84.6L133.1 85.3L132.8 86.1L132.6 86.7L132.3 87.2L132 87.6L131.7 88.1L131.4 88.4L131.3 88.6" stroke-width="0.8" stroke-opacity="0.41"/>
<path d="M141.7 83.4L142 83.9L142.6 84.5L143.2 85.2L143.8 86L144.3 86.7L144.6 87.4L144.9 88.1L145.2 88.9L145.4 89.5L145.6 89.9" stroke-width="0.8" stroke-opacity="0.41"/>
<circle cx="3.1" cy="61.3" r="0.9" fill="#00ff00" fill-opacity="0.04" stroke="none"/>
<circle cx="2.7" cy="60.7" r="0.6" fill="#00ff00" fill-opacity="0.35" stroke="none"/>
<circle cx="120.9" cy="76.9" r="0.9" fill="#00ff00" fill-opacity="0.8" stroke="none"/>
<circle cx="26.3" cy="78.9" r="0.7" fill="#00ff00" fill-opacity="0.6" stroke="none"/>
<circle cx="70.3" cy="76.2" r="0.7" fill="#00ff00" fill-opacity="0.4" stroke="none"/>
<circle cx="26.1" cy="97.1" r="0.6" fill="#00ff00" fill-opacity="0.3" stroke="none"/>
</g>
<g id="nr3" fill="none" stroke="#ff0000" stroke-linecap="round" stroke-linejoin="round" filter="url(#g1)">
<path d="M98.8 54.9L98.6 54L98.2 52.8L97.8 51.4L97.5 49.9L97.5 48.4L97.7 46.8L98.1 45L98.6 43.2L99.3 41.7L100.1 40.6L101.1 39.9L102.4 39.6L103.7 39.5L105.1 39.6L106.6 39.9L108.1 40.4L109.8 41.2L111.5 42.1L113.1 43.2L114.4 44.5L115.4 46L116.4 47.8L117.1 49.6L117.6 51.4L117.6 52.9L117.1 54.1L116.2 55.2L114.9 56.2L113.8 56.9L113.1 57.5" stroke-width="0.7" stroke-opacity="0.08"/>
<path d="M127.4 96.4L127.1 97.4L126.6 98.9L126.2 100.5L125.9 102.4L126.1 104.2L126.7 106.2L127.6 108.3L128.8 110.5L130 112.6L131.3 114.6L132.6 116.5L134.1 118.3L135.6 120L136.9 121.4L137.8 122.4" stroke-width="0.7" stroke-opacity="0.08"/>
<path d="M10.5 45.8L10.8 45.2L11.2 44.3L11.7 43.4L12.4 42.5L13.1 41.9L14 41.5L15 41.2L16.2 41L17.3 41.1L18.3 41.2L19.2 41.6L20.1 42.1L20.9 42.8L21.6 43.6L22.2 44.5L22.4 45.4L22.5 46.5L22.4 47.6L22.5 48.7L22.8 49.7L23.5 50.5L24.3 51.3L25.3 52L26.4 52.6L27.4 52.9L28.4 53L29.5 52.9L30.5 52.6L31.6 52.2L32.6 51.6L33.5 50.9L34.3 50.1L35.2 49.2L35.9 48.2L36.5 47.1L36.9 45.8L37.2 44.3L37.5 42.8L37.6 41.5L37.8 40.6" stroke-width="0.7" stroke-opacity="0.11"/>
<path d="M22.2 50.3L21.9 51.1L21.4 52.3L21 53.7L20.7 55L20.9 56.2L21.6 57.1L22.7 58L24.1 58.9L25.3 59.6L26.1 60.1" stroke-width="0.7" stroke-opacity="0.08"/>
<path d="M28 7L28.5 8.4L29.2 10.4L30 12.8L30.9 15.4L31.6 18L32.4 20.8L33.2 23.9L34 27.1L34.7 30.1L35.3 32.8L35.8 35.1L36.3 37.3L36.7 39.2L36.9 40.8L37.2 42" stroke-width="0.7" stroke-opacity="0.07"/>
<path d="M127.3 7L127.8 9.1L128.4 12L129.2 15.4L130.1 18.8L131 21.7L132.1 24.3L133.3 26.9L134.6 29.3L135.7 31.3L136.5 32.8" stroke-width="0.7" stroke-opacity="0.06"/>
<path d="M22.8 92.5L23.8 92.6L25.1 92.6L26.7 92.7L28.4 92.7L30 92.5L31.5 92.2L33 91.8L34.6 91.2L36.2 90.6L37.8 89.9L39.3 89.1L40.9 88.2L42.5 87.2L44.1 86.3L45.6 85.4L47 84.5L48.3 83.7L49.6 83L50.8 82.2L52 81.5L53.2 80.7L54.5 80L55.6 79.3L56.6 78.7L57.2 78.2" stroke-width="0.75" stroke-opacity="0.02"/>
<path d="M57.2 73L57.1 72.2L56.9 70.9L56.7 69.5L56.6 68L56.6 66.5L56.8 65.3L57.2 64L57.6 62.7L58.1 61.4L58.5 60.1L59 58.8L59.5 57.5L60 56.2L60.6 54.9L61.1 53.6L61.8 52.3L62.4 51L63.1 49.7L63.8 48.4L64.4 47.1L65 45.8L65.5 44.5L66 43.2L66.5 41.9L67 40.6L67.4 39.2L67.8 37.9L68.2 36.5L68.6 35.3L68.9 34.1L69.2 33L69.4 32.1L69.6 31.2L69.8 30.3L70.2 29.5L70.8 28.8L71.6 28.2L72.4 27.7L73.3 27L74.1 26.3L74.9 25.4L75.7 24.3L76.6 23.2L77.3 22.1L78 21.1L78.7 20.2L79.3 19.3L79.8 18.4L80.3 17.7L80.6 17.2" stroke-width="0.8" stroke-opacity="0.02"/>
<path d="M68.9 30.2L68.4 29.9L67.6 29.5L66.8 29.1L65.9 28.7L65 28.2L64.3 27.8L63.5 27.4L62.8 27L62 26.6L61.1 26.3L60.1 26L58.9 25.7L57.7 25.4L56.7 25.2L55.9 25" stroke-width="0.75" stroke-opacity="0.02"/>
<path d="M65 36.7L64.6 36.3L63.9 35.6L63.1 35L62.4 34.4L61.8 34.1L61.3 34.1L60.8 34.4L60.4 34.8L60.1 35.1L59.8 35.4" stroke-width="0.7" stroke-opacity="0.02"/>
<path d="M130.6 75L129.6 74.5L128.2 73.9L126.5 73.2L124.9 72.4L123.5 71.7L122.4 71.2L121.4 70.8L120.4 70.3" stroke-width="0.75" stroke-opacity="0.22"/>
<path d="M120.4 70.3L119.5 69.8L118.3 69.1L116.9 68.3L115.3 67.2L113.7 66.1L112.1 64.9L110.5 64L108.9 63.1L107.2 62.4" stroke-width="0.75" stroke-opacity="0.16"/>
<path d="M107.2 62.4L105.5 61.6L104 60.9L102.7 60.1L101.6 59L100.7 57.8L99.9 56.6L99.3 55.6L98.8 54.9" stroke-width="0.75" stroke-opacity="0.11"/>
<path d="M4 62.2L4.7 62.8L5.6 63.6L6.7 64.6L7.7 65.7L8.6 66.8L9.5 68L10.3 69.3L11.1 70.7L11.8 72L12.3 73.2L12.7 74.3L12.9 75.4L13.1 76.4L13.2 77.2L13.2 77.8" stroke-width="0.85" stroke-opacity="0.34"/>
<path d="M131.3 76.7L130.4 76.6L129.1 76.6L127.6 76.5L126.1 76.4L124.8 76.3L123.6 76.2L122.6 76.1L121.6 76L120.6 76L119.6 75.9L118.5 75.8L117.5 75.8L116.5 75.7L115.4 75.7L114.4 75.6L113.3 75.6" stroke-width="1.14" stroke-opacity="0.82"/>
<path d="M113.3 75.6L112.2 75.5L111.2 75.5L110.1 75.5L109.2 75.6L108.3 75.9L107.5 76.2L106.8 76.6L106 77.1L105.3 77.6L104.5 78.1L103.7 78.7L103 79.4L102.2 80.1L101.4 80.8L100.6 81.7L99.8 82.6" stroke-width="1.11" stroke-opacity="0.81"/>
<path d="M99.8 82.6L99.1 83.5L98.3 84.5L97.5 85.4L96.7 86.3L96 87.2L95.2 88.2L94.4 89.1L93.6 89.9L92.7 90.8L91.8 91.7L90.9 92.5L90 93.2L89.1 93.8L88.1 94.2L87.2 94.5L86.3 94.7L85.4 94.8" stroke-width="1.09" stroke-opacity="0.81"/>
<path d="M85.4 94.8L84.5 94.9L83.7 94.8L82.8 94.7L82 94.5L81.3 94.2L80.6 93.8L80.1 93.3L79.6 92.7L79.3 92.1L78.9 91.3L78.7 90.6L78.5 89.7L78.4 88.8L78.3 87.9L78.2 86.9L78 86" stroke-width="1.06" stroke-opacity="0.8"/>
<path d="M78 86L77.7 85.2L77.4 84.4L77 83.7L76.6 82.9L76.1 82.1L75.5 81.3L74.9 80.5L74.2 79.7L73.5 78.9L72.8 78.2L72.1 77.6L71.4 77.1L70.6 76.6L69.8 76.2L68.9 75.9L68 75.7" stroke-width="1.04" stroke-opacity="0.8"/>
<path d="M68 75.7L66.9 75.7L65.9 75.7L64.8 75.7L63.7 75.6L62.7 75.6L61.6 75.5L60.5 75.4L59.5 75.2L58.5 75L57.7 74.7L56.8 74.3L56 73.9L55.3 73.5L54.6 73L54.1 72.5L53.6 72L53.1 71.4" stroke-width="1.01" stroke-opacity="0.79"/>
<path d="M53.1 71.4L52.6 70.9L52 70.4L51.3 70.1L50.6 69.8L49.8 69.5L48.9 69.3L48.1 69.1L47.4 69.1L46.7 69.1L45.9 69.2L45.1 69.3L44.3 69.4L43.3 69.5L42.2 69.7L41.1 69.8L40 70" stroke-width="0.99" stroke-opacity="0.79"/>
<path d="M40 70L39.1 70.2L38.2 70.3L37.4 70.5L36.7 70.6L35.9 70.8L35.2 71.1L34.4 71.5L33.6 71.9L32.8 72.5L32 73.1L31.3 73.7L30.4 74.5L29.5 75.3L28.6 76.2L27.9 77L27.4 77.6" stroke-width="0.96" stroke-opacity="0.78"/>
<path d="M24.7 80.2L24.1 80.5L23.4 80.9L22.5 81.4L21.5 81.8L20.6 82.1L19.7 82.1L18.7 82L17.8 81.9L16.8 81.6L16 81.3L15.3 80.9L14.6 80.4L13.9 79.8L13.4 79.2L12.9 78.7L12.5 78.3L12.1 77.9L11.8 77.5L11.6 77.1L11.4 76.9" stroke-width="1.2" stroke-opacity="0.82"/>
<path d="M139.1 71.7L138.9 70.8L138.6 69.5L138.3 68L138 66.5L137.8 65.3L137.6 64.1L137.4 63.1L137.3 62.1L137.2 61.3L137.1 60.7" stroke-width="0.8" stroke-opacity="0.45"/>
<path d="M140.4 71.7L140.9 71L141.6 69.9L142.4 68.7L143.3 67.5L144.3 66.5L145.3 65.8L146.5 65.2L147.7 64.7L148.7 64.3L149.4 64" stroke-width="0.8" stroke-opacity="0.45"/>
<path d="M143 74.3L143.8 73.6L145 72.4L146.4 71.1L147.9 69.9L149.4 69.1L151.2 68.8L153.3 68.8L155.4 68.9L157.3 69.1L158.5 69.1" stroke-width="0.75" stroke-opacity="0.25"/>
<path d="M143.6 79.5L144.6 80.1L145.9 80.8L147.5 81.7L149.2 82.6L150.7 83.4L152.4 84.2L154.2 84.9L156 85.6L157.5 86.2L158.5 86.7" stroke-width="0.75" stroke-opacity="0.18"/>
<path d="M139.1 86L139 86.6L138.9 87.4L138.7 88.4L138.6 89.3L138.4 89.9L138.2 90.4L137.9 90.7L137.6 90.9L137.3 91.1L137.1 91.2" stroke-width="1" stroke-opacity="0.7"/>
<circle cx="137.8" cy="78.9" r="6.5" fill="#ff0000" fill-opacity="0.6" stroke="none" filter="url(#g2)"/>
<path d="M132.3 76.4L133.2 75.9L134.6 75.3L135.8 74.6L136.9 73.9L137.9 73.3L138.8 73L139.7 73.3L140.5 73.8L141.1 74.6L141.6 75.6L142 76.9L142.2 78.2L142.2 79.6L142 81.1L141.7 82.4L140.9 83.7L139.9 84.8L139.1 85.4L138.4 85L137.9 84.1L137.2 83.2L136.5 82.3L135.7 81.4L134.9 80.6L134.2 79.8L133.6 79.2L133.1 78.5L132.7 77.7L132.5 77L132.3 76.4Z" fill="#ff0000" fill-opacity="1" stroke-width="0.6" stroke-opacity="1"/>
<path d="M133.9 83.4L133.7 83.9L133.4 84.6L133.1 85.3L132.8 86.1L132.6 86.7L132.3 87.2L132 87.6L131.7 88.1L131.4 88.4L131.3 88.6" stroke-width="0.8" stroke-opacity="0.41"/>
<path d="M141.7 83.4L142 83.9L142.6 84.5L143.2 85.2L143.8 86L144.3 86.7L144.6 87.4L144.9 88.1L145.2 88.9L145.4 89.5L145.6 89.9" stroke-width="0.8" stroke-opacity="0.49"/>
<circle cx="13.2" cy="79.1" r="1.5" fill="#ff0000" fill-opacity="1" stroke="none"/>
<circle cx="3.1" cy="61.3" r="0.9" fill="#ff0000" fill-opacity="1" stroke="none"/>
<circle cx="120.9" cy="76.9" r="0.9" fill="#ff0000" fill-opacity="1" stroke="none"/>
<circle cx="70.3" cy="76.2" r="0.7" fill="#ff0000" fill-opacity="1" stroke="none"/>
<circle cx="155.8" cy="96.2" r="0.55" fill="#ff0000" fill-opacity="0.6" stroke="none"/>
</g>
</defs>
<g transform="translate(1040.9,434.05)" clip-path="url(#mc)"><rect width="160.3" height="160.1" fill="#000"/>
<use href="#ng0"/>
</g>
<g transform="translate(1040.9,598.65)" clip-path="url(#mc)"><rect width="160.3" height="160.1" fill="#000"/>
<use href="#nr0"/>
</g>
<g transform="translate(1040.9,763.1)" clip-path="url(#mc)"><rect width="160.3" height="160.1" fill="#000"/>
<use href="#ng0"/><use href="#nr0" style="mix-blend-mode:screen"/>
</g>
<g transform="translate(1205.6,434.05)" clip-path="url(#mc)"><rect width="160.3" height="160.1" fill="#000"/>
<use href="#ng1"/>
</g>
<g transform="translate(1205.6,598.65)" clip-path="url(#mc)"><rect width="160.3" height="160.1" fill="#000"/>
<use href="#nr1"/>
</g>
<g transform="translate(1205.6,763.1)" clip-path="url(#mc)"><rect width="160.3" height="160.1" fill="#000"/>
<use href="#ng1"/><use href="#nr1" style="mix-blend-mode:screen"/>
</g>
<g transform="translate(1369.9,434.05)" clip-path="url(#mc)"><rect width="160.3" height="160.1" fill="#000"/>
<use href="#ng2"/>
</g>
<g transform="translate(1369.9,598.65)" clip-path="url(#mc)"><rect width="160.3" height="160.1" fill="#000"/>
<use href="#nr2"/>
</g>
<g transform="translate(1369.9,763.1)" clip-path="url(#mc)"><rect width="160.3" height="160.1" fill="#000"/>
<use href="#ng2"/><use href="#nr2" style="mix-blend-mode:screen"/>
</g>
<g transform="translate(1533.8,434.05)" clip-path="url(#mc)"><rect width="160.3" height="160.1" fill="#000"/>
<use href="#ng3"/>
</g>
<g transform="translate(1533.8,598.65)" clip-path="url(#mc)"><rect width="160.3" height="160.1" fill="#000"/>
<use href="#nr3"/>
</g>
<g transform="translate(1533.8,763.1)" clip-path="url(#mc)"><rect width="160.3" height="160.1" fill="#000"/>
<use href="#ng3"/><use href="#nr3" style="mix-blend-mode:screen"/>
</g>
<line x1="1681.8" y1="919" x2="1690.9" y2="919" stroke="#b4b4b4" stroke-width="2"/>
<line x1="1767.1" y1="528.1" x2="1767.1" y2="764.5" stroke="#222" stroke-width="1.9"/>
<line x1="1762.7" y1="528.9" x2="1767.2" y2="528.9" stroke="#111" stroke-width="2"/>
<line x1="1762.7" y1="576" x2="1767.2" y2="576" stroke="#111" stroke-width="2"/>
<line x1="1762.7" y1="623.1" x2="1767.2" y2="623.1" stroke="#111" stroke-width="2"/>
<line x1="1762.7" y1="670.2" x2="1767.2" y2="670.2" stroke="#111" stroke-width="2"/>
<line x1="1762.7" y1="717.25" x2="1767.2" y2="717.25" stroke="#111" stroke-width="2"/>
<text transform="translate(1721.3,538.65) scale(0.9841,1.0000)" font-size="24.2" stroke="#000" stroke-width="0.25">500</text>
<text transform="translate(1721.71,585) scale(0.9736,1.0000)" font-size="24.2" stroke="#000" stroke-width="0.25">400</text>
<text transform="translate(1721.34,631.3) scale(0.9829,1.0000)" font-size="24.2" stroke="#000" stroke-width="0.25">300</text>
<text transform="translate(1721.04,677.7) scale(0.9905,1.0000)" font-size="24.2" stroke="#000" stroke-width="0.25">200</text>
<text transform="translate(1721.97,724) scale(0.9671,1.0000)" font-size="24.2" stroke="#000" stroke-width="0.25">100</text>
<text transform="translate(1747.67,770.7) scale(0.9855,1.0000)" font-size="24.2" stroke="#000" stroke-width="0.25">0</text>
<path d="M1785.7 764 V692.6 H1818.3 V764" fill="none" stroke="#555" stroke-width="1.8"/>
<line x1="1784.8" y1="692.6" x2="1819.2" y2="692.6" stroke="#555" stroke-width="3"/>
<path d="M1838 764 V628 H1870.3 V764" fill="none" stroke="#ff2d2d" stroke-width="1.8"/>
<line x1="1837.1" y1="628" x2="1871.2" y2="628" stroke="#ff2d2d" stroke-width="3"/>
<path d="M1890.45 764 V555.2 H1922.65 V764" fill="none" stroke="#9a0000" stroke-width="1.9"/>
<line x1="1889.5" y1="555.2" x2="1923.6" y2="555.2" stroke="#9a0000" stroke-width="3.2"/>
<path d="M1942.85 764 V670.1 H1974.95 V764" fill="none" stroke="#0000ff" stroke-width="1.9"/>
<line x1="1941.9" y1="670.1" x2="1975.9" y2="670.1" stroke="#0000ff" stroke-width="3.2"/>
<line x1="1763.4" y1="764" x2="1995" y2="764" stroke="#000" stroke-width="2.1"/>
<line x1="1801.9" y1="764.5" x2="1801.9" y2="770.8" stroke="#111" stroke-width="1.8"/>
<line x1="1854.3" y1="764.5" x2="1854.3" y2="770.8" stroke="#111" stroke-width="1.8"/>
<line x1="1906.3" y1="764.5" x2="1906.3" y2="770.8" stroke="#111" stroke-width="1.8"/>
<line x1="1959.4" y1="764.5" x2="1959.4" y2="770.8" stroke="#111" stroke-width="1.8"/>
<line x1="1802.4" y1="681.9" x2="1802.4" y2="699" stroke="#555" stroke-width="1.3"/>
<line x1="1793.6" y1="681.9" x2="1811.2" y2="681.9" stroke="#555" stroke-width="1.5"/>
<line x1="1793.6" y1="699" x2="1811.2" y2="699" stroke="#555" stroke-width="1.5"/>
<ellipse cx="1801.9" cy="681.1" rx="2.6" ry="3.4" fill="#000"/>
<ellipse cx="1806.5" cy="693.3" rx="2.6" ry="3.4" fill="#000"/>
<ellipse cx="1797" cy="697.9" rx="2.6" ry="3.4" fill="#000"/>
<line x1="1854.3" y1="621.9" x2="1854.3" y2="631.1" stroke="#ff2d2d" stroke-width="1.3"/>
<line x1="1845.8" y1="621.9" x2="1862.8" y2="621.9" stroke="#ff2d2d" stroke-width="1.5"/>
<line x1="1845.8" y1="631.1" x2="1862.8" y2="631.1" stroke="#ff2d2d" stroke-width="1.5"/>
<ellipse cx="1845.2" cy="621.5" rx="2.6" ry="3.4" fill="#ff0000"/>
<ellipse cx="1863.1" cy="627.6" rx="2.6" ry="3.4" fill="#ff0000"/>
<ellipse cx="1853.9" cy="630.6" rx="2.6" ry="3.4" fill="#ff0000"/>
<line x1="1907.1" y1="545.4" x2="1907.1" y2="563.3" stroke="#9a0000" stroke-width="1.3"/>
<line x1="1898.5" y1="545.4" x2="1915.7" y2="545.4" stroke="#9a0000" stroke-width="1.5"/>
<line x1="1898.5" y1="563.3" x2="1915.7" y2="563.3" stroke="#9a0000" stroke-width="1.5"/>
<ellipse cx="1906.8" cy="545.7" rx="2.6" ry="3.4" fill="#9a0000"/>
<ellipse cx="1910.9" cy="550.6" rx="2.6" ry="3.4" fill="#9a0000"/>
<ellipse cx="1901.7" cy="564.1" rx="2.6" ry="3.4" fill="#9a0000"/>
<line x1="1959.1" y1="660" x2="1959.1" y2="676.8" stroke="#0000ff" stroke-width="1.3"/>
<line x1="1950.7" y1="660" x2="1967.5" y2="660" stroke="#0000ff" stroke-width="1.5"/>
<line x1="1950.7" y1="676.8" x2="1967.5" y2="676.8" stroke="#0000ff" stroke-width="1.5"/>
<ellipse cx="1959.1" cy="659.7" rx="2.6" ry="3.4" fill="#0000a8"/>
<ellipse cx="1963.4" cy="668.9" rx="2.6" ry="3.4" fill="#0000a8"/>
<ellipse cx="1954.5" cy="677.3" rx="2.6" ry="3.4" fill="#0000a8"/>
<path d="M1802.4 505.2 V499.1 H1960.3 V505.2" fill="none" stroke="#2a2a2a" stroke-width="1.3"/>
<path d="M1802.4 523.1 V517 H1905.9 V523.1" fill="none" stroke="#2a2a2a" stroke-width="1.3"/>
<path d="M1802.4 540.4 V534.6 H1853.9 V540.4" fill="none" stroke="#2a2a2a" stroke-width="1.3"/>
<path d="M1908.6 540.4 V534.6 H1960.3 V540.4" fill="none" stroke="#2a2a2a" stroke-width="1.3"/>
<text transform="translate(1876.32,501.15) scale(0.9983,1.0000)" font-size="17.38">*</text>
<text transform="translate(1834.13,519.1) scale(1.0920,1.0000)" font-size="21.08">****</text>
<text transform="translate(1818.84,537.6) scale(1.0386,1.0000)" font-size="21.36">***</text>
<text transform="translate(1918.23,538.1) scale(1.0796,1.0000)" font-size="21.08">****</text>
<text transform="translate(1810,829.85) rotate(-90) scale(0.9804,1.0000)" font-size="24.3">Mock</text>
<text transform="translate(1862.8,808.1) rotate(-90) scale(0.9457,1.0000)" font-size="24.3">WT</text>
<text transform="translate(1915.5,830.06) rotate(-90) scale(0.9587,1.0000)" font-size="24.3">S14D</text>
<text transform="translate(1969,830.06) rotate(-90) scale(0.9624,1.0000)" font-size="24.3">S14A</text>
<line x1="1835.2" y1="841.4" x2="1984.3" y2="841.4" stroke="#222" stroke-width="1.1"/>
<text transform="translate(1895.19,862.3) scale(1.0155,1.0000)" font-size="23.6">Id2</text>
<text transform="translate(1712.9,717.35) rotate(-90) scale(0.9733,1.0000)" font-size="24.4">Axon length(mm)</text>
</g>
</svg>
</body></html>
